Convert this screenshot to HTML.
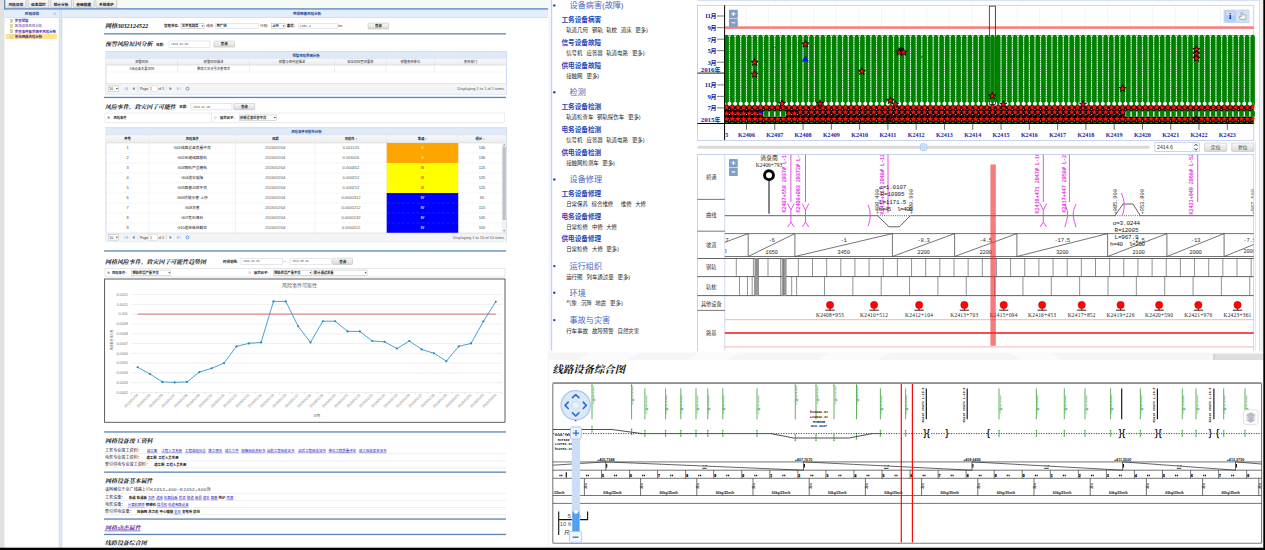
<!DOCTYPE html>
<html lang="zh"><head><meta charset="utf-8"><title>铁路线路设备风险评估系统</title>
<style>html,body{margin:0;padding:0;background:#fff}body{width:1265px;height:550px;overflow:hidden;font-family:"Liberation Sans",sans-serif}svg{display:block;position:absolute;left:0;top:0;opacity:.999}text{white-space:pre}.r{font-family:"Liberation Sans","Noto Sans CJK SC",sans-serif}.b{font-family:"Liberation Sans","Noto Sans CJK SC",sans-serif;font-weight:bold}.s{font-family:"Liberation Serif","Noto Serif CJK SC",serif;font-weight:bold}</style></head>
<body>
<svg width="1265" height="550" viewBox="0 0 1265 550">
<defs><linearGradient id="tab" x1="0" y1="0" x2="0" y2="1"><stop offset="0" stop-color="#f8f8f8"/><stop offset="1" stop-color="#e7e7e7"/></linearGradient><linearGradient id="btn" x1="0" y1="0" x2="0" y2="1"><stop offset="0" stop-color="#fafafa"/><stop offset="1" stop-color="#d9d9d9"/></linearGradient><linearGradient id="hdr" x1="0" y1="0" x2="0" y2="1"><stop offset="0" stop-color="#f9f9f9"/><stop offset="1" stop-color="#ebebeb"/></linearGradient><linearGradient id="ibtn" x1="0" y1="0" x2="0" y2="1"><stop offset="0" stop-color="#d2e3f9"/><stop offset="0.5" stop-color="#bdd6f7"/><stop offset="0.5" stop-color="#a9cdf5"/><stop offset="1" stop-color="#b5d4f6"/></linearGradient><clipPath id="chartclip"><rect x="724.8" y="5" width="528.9" height="120"/></clipPath><clipPath id="diagclip"><rect x="725.2" y="154.8" width="528.3" height="195.6"/></clipPath></defs>
<g id="left"><rect x="0" y="0" width="4.5" height="548" fill="#e1e1e1"/>
<rect x="4.3" y="0" width="544" height="8.6" fill="#f3fbf4"/>
<line x1="4.7" y1="0" x2="4.7" y2="9.6" stroke="#4c7ab4" stroke-width="1.2"/>
<rect x="5.3" y="-1" width="20.9" height="8.8" fill="url(#tab)" stroke="#b4b4b4" stroke-width="0.6" rx="0.8"/>
<text class="b" x="15.75" y="5.55" font-size="3.7" fill="#1a1a1a" text-anchor="middle">风险评估</text>
<rect x="27.95" y="-1" width="20.9" height="8.8" fill="url(#tab)" stroke="#b4b4b4" stroke-width="0.6" rx="0.8"/>
<text class="b" x="38.4" y="5.55" font-size="3.7" fill="#1a1a1a" text-anchor="middle">动态监控</text>
<rect x="50.6" y="-1" width="20.9" height="8.8" fill="url(#tab)" stroke="#b4b4b4" stroke-width="0.6" rx="0.8"/>
<text class="b" x="61.05" y="5.55" font-size="3.7" fill="#1a1a1a" text-anchor="middle">统计分析</text>
<rect x="73.25" y="-1" width="20.9" height="8.8" fill="url(#tab)" stroke="#b4b4b4" stroke-width="0.6" rx="0.8"/>
<text class="b" x="83.7" y="5.55" font-size="3.7" fill="#1a1a1a" text-anchor="middle">基础数据</text>
<rect x="95.9" y="-1" width="20.9" height="8.8" fill="url(#tab)" stroke="#b4b4b4" stroke-width="0.6" rx="0.8"/>
<text class="b" x="106.35" y="5.55" font-size="3.7" fill="#1a1a1a" text-anchor="middle">系统维护</text>
<rect x="4.3" y="8.2" width="544" height="1.5" fill="#5f8cc4"/>
<rect x="4.7" y="9.9" width="54" height="7.6" fill="#e3edfb"/>
<line x1="4.7" y1="17.5" x2="58.7" y2="17.5" stroke="#c2d6f0" stroke-width="0.6"/>
<text class="b" x="32" y="15" font-size="3.6" fill="#15428b" text-anchor="middle">风险评估</text>
<path d="M56.3 12.3l-1.5 1.4 1.5 1.4M54.9 12.3l-1.5 1.4 1.5 1.4" fill="none" stroke="#8fb4e6" stroke-width="0.6"/>
<rect x="59" y="9.9" width="2.9" height="538" fill="#dde8f8"/>
<line x1="59.2" y1="9.9" x2="59.2" y2="548" stroke="#c3d5ee" stroke-width="0.6"/>
<line x1="61.8" y1="9.9" x2="61.8" y2="548" stroke="#b5cbea" stroke-width="0.6"/>
<rect x="62.1" y="9.9" width="486" height="7.6" fill="#e3edfb"/>
<line x1="62.1" y1="17.5" x2="548" y2="17.5" stroke="#bdd2ee" stroke-width="0.6"/>
<text class="b" x="307" y="15" font-size="3.5" fill="#15428b" text-anchor="middle">空间网格风险分析</text>
<rect x="10.4" y="19.2" width="2.3" height="3.2" fill="#f3f3c4" stroke="#a9a96a" stroke-width="0.4"/>
<line x1="10.9" y1="20.4" x2="12.2" y2="20.4" stroke="#8a8a4a" stroke-width="0.3"/>
<line x1="10.9" y1="21.4" x2="12.2" y2="21.4" stroke="#8a8a4a" stroke-width="0.3"/>
<text class="b" x="14.8" y="22.15" font-size="3.45" fill="#4b2a9a">灾害预警</text>
<rect x="10.4" y="24.4" width="2.3" height="3.2" fill="#f3f3c4" stroke="#a9a96a" stroke-width="0.4"/>
<line x1="10.9" y1="25.6" x2="12.2" y2="25.6" stroke="#8a8a4a" stroke-width="0.3"/>
<line x1="10.9" y1="26.6" x2="12.2" y2="26.6" stroke="#8a8a4a" stroke-width="0.3"/>
<text class="r" x="14.8" y="27.35" font-size="3.45" fill="#4b2a9a">区段总体风险分析</text>
<rect x="10.4" y="29.6" width="2.3" height="3.2" fill="#f3f3c4" stroke="#a9a96a" stroke-width="0.4"/>
<line x1="10.9" y1="30.8" x2="12.2" y2="30.8" stroke="#8a8a4a" stroke-width="0.3"/>
<line x1="10.9" y1="31.8" x2="12.2" y2="31.8" stroke="#8a8a4a" stroke-width="0.3"/>
<text class="b" x="14.8" y="32.55" font-size="3.45" fill="#4b2a9a">灾害事件致灾因子风险分布</text>
<rect x="5.6" y="34.1" width="51.4" height="4.8" fill="#ffe28c"/>
<rect x="10.4" y="34.8" width="2.3" height="3.2" fill="#fff" stroke="#a9a96a" stroke-width="0.4"/>
<line x1="10.9" y1="36" x2="12.2" y2="36" stroke="#8a8a4a" stroke-width="0.3"/>
<line x1="10.9" y1="37" x2="12.2" y2="37" stroke="#8a8a4a" stroke-width="0.3"/>
<text class="b" x="14.8" y="37.75" font-size="3.45" fill="#4b2a9a">单元网格风险分析</text>
<text class="s" transform="translate(105 28.3) skewX(-14)" font-size="6.1" fill="#111">网格</text>
<text x="117.4" y="28.2" font-family="'Liberation Serif',serif" font-size="6.3" fill="#111" font-weight="bold" font-style="italic" letter-spacing="-0.08">3032124522</text>
<text class="b" x="164" y="27.1" font-size="3.45" fill="#222">管辖单位:</text>
<rect x="181" y="23.3" width="23" height="5.4" fill="#fff" stroke="#b4b4b4" stroke-width="0.5"/>
<text class="b" x="181.8" y="27.19" font-size="3.3" fill="#222">北京铁路局</text>
<path d="M201.7 25.4h1.8l-.9 1.4z" fill="#222"/>
<text class="r" x="206.3" y="27.1" font-size="3.45" fill="#222">线名:</text>
<rect x="215.4" y="23.3" width="42.8" height="5.4" fill="#fff" stroke="#cdd0d8" stroke-width="0.5"/>
<text class="b" x="216.4" y="27.1" font-size="3.4" fill="#111">京广线</text>
<text class="r" x="260.3" y="27.1" font-size="3.45" fill="#222">行别:</text>
<rect x="271.4" y="23.3" width="13.6" height="5.4" fill="#fff" stroke="#b4b4b4" stroke-width="0.5"/>
<text class="b" x="272.2" y="27.19" font-size="3.3" fill="#222">上行</text>
<path d="M282.7 25.4h1.8l-.9 1.4z" fill="#222"/>
<text class="b" x="286.8" y="27.1" font-size="3.45" fill="#222">里程:</text>
<rect x="298.8" y="23.3" width="38.6" height="5.4" fill="#fff" stroke="#cdd0d8" stroke-width="0.5"/>
<text x="299.8" y="27" font-family="'Liberation Mono',monospace" font-size="3.1" fill="#444">2452.4</text>
<text x="338.2" y="27.1" font-family="'Liberation Sans',sans-serif" font-size="3.2" fill="#444">km</text>
<rect x="368.1" y="23.2" width="20.5" height="5.8" fill="url(#btn)" stroke="#b4b4b4" stroke-width="0.5" rx="0.6"/>
<text class="b" x="378.35" y="27.32" font-size="3.4" fill="#222" text-anchor="middle">查询</text>
<rect x="104" y="33.2" width="402" height="1.3" fill="#5c85b4"/>
<text class="s" transform="translate(105 46.4) skewX(-14)" font-size="5.95" fill="#111">预警风险原因分析</text>
<text class="b" x="156" y="45.6" font-size="3.45" fill="#222">日期:</text>
<rect x="169" y="41" width="41" height="6.3" fill="#fff" stroke="#cdd0d8" stroke-width="0.5"/>
<text x="171" y="45.3" font-family="'Liberation Mono',monospace" font-size="2.9" fill="#555">2016-02-04</text>
<rect x="214" y="41.1" width="20.5" height="6" fill="url(#btn)" stroke="#b4b4b4" stroke-width="0.5" rx="0.6"/>
<text class="b" x="224.25" y="45.32" font-size="3.4" fill="#222" text-anchor="middle">查询</text>
<rect x="106" y="51.6" width="400.4" height="42.4" fill="#fff" stroke="#a6c3e9" stroke-width="0.6"/>
<rect x="106" y="51.6" width="400.4" height="7.1" fill="#dfe9f8"/>
<line x1="106" y1="58.7" x2="506.4" y2="58.7" stroke="#b9cfec" stroke-width="0.5"/>
<text class="b" x="306" y="56.5" font-size="3.4" fill="#15428b" text-anchor="middle">预警风险原因分析</text>
<rect x="106" y="58.7" width="400.4" height="6.4" fill="url(#hdr)"/>
<line x1="106" y1="65.1" x2="506.4" y2="65.1" stroke="#d0d0d0" stroke-width="0.5"/>
<text class="r" x="141.8" y="63.1" font-size="3.3" fill="#333" text-anchor="middle">预警风险</text>
<text class="r" x="213.5" y="63.1" font-size="3.3" fill="#333" text-anchor="middle">预警风险描述</text>
<line x1="177.6" y1="58.7" x2="177.6" y2="72" stroke="#dcdcdc" stroke-width="0.5"/>
<text class="r" x="291.95" y="63.1" font-size="3.3" fill="#333" text-anchor="middle">预警与否判定描述</text>
<line x1="249.4" y1="58.7" x2="249.4" y2="72" stroke="#dcdcdc" stroke-width="0.5"/>
<text class="r" x="360.35" y="63.1" font-size="3.3" fill="#333" text-anchor="middle">安全风险管控要求</text>
<line x1="334.5" y1="58.7" x2="334.5" y2="72" stroke="#dcdcdc" stroke-width="0.5"/>
<text class="r" x="410.3" y="63.1" font-size="3.3" fill="#333" text-anchor="middle">预警责任单位</text>
<line x1="386.2" y1="58.7" x2="386.2" y2="72" stroke="#dcdcdc" stroke-width="0.5"/>
<text class="r" x="470.4" y="63.1" font-size="3.3" fill="#333" text-anchor="middle">责任部门</text>
<line x1="434.4" y1="58.7" x2="434.4" y2="72" stroke="#dcdcdc" stroke-width="0.5"/>
<text class="r" x="141.8" y="69.9" font-size="3.3" fill="#333" text-anchor="middle">1级设备主要风险</text>
<text class="r" x="213.5" y="69.9" font-size="3.3" fill="#333" text-anchor="middle">暴雨大风冰雪冻害等灾</text>
<line x1="106" y1="72" x2="506.4" y2="72" stroke="#e4e4e4" stroke-width="0.5" stroke-dasharray="1 0.6"/>
<rect x="106" y="83.5" width="400.4" height="10.3" fill="#f4f4f5"/>
<line x1="106" y1="83.5" x2="506.4" y2="83.5" stroke="#d3d3d3" stroke-width="0.5"/>
<rect x="108.5" y="85.95" width="9.8" height="5.4" fill="#fff" stroke="#b4b4b4" stroke-width="0.5"/>
<path d="M116 88.05h1.8l-.9 1.4z" fill="#222"/>
<text x="109.3" y="89.85" font-family="'Liberation Sans',sans-serif" font-size="3.4" fill="#222">10</text>
<path d="M124.6 87.15v3M127.6 87.15l-2 1.5 2 1.5z" fill="#a9c6ec" stroke="#a9c6ec" stroke-width="0.5"/>
<path d="M134.6 87.05l-2.2 1.6 2.2 1.6z" fill="#4d86d2"/>
<line x1="137.8" y1="85.65" x2="137.8" y2="91.65" stroke="#d0d0d0" stroke-width="0.5"/>
<text x="140" y="89.85" font-family="'Liberation Sans',sans-serif" font-size="3.5" fill="#333">Page</text>
<rect x="148.8" y="85.85" width="8.8" height="5.6" fill="#fff" stroke="#cdd0d8" stroke-width="0.5"/>
<text x="150" y="89.85" font-family="'Liberation Sans',sans-serif" font-size="3.5" fill="#333">1</text>
<text x="158.4" y="89.85" font-family="'Liberation Sans',sans-serif" font-size="3.5" fill="#333">of 1</text>
<line x1="166.3" y1="85.65" x2="166.3" y2="91.65" stroke="#d0d0d0" stroke-width="0.5"/>
<path d="M169.6 87.05l2.2 1.6-2.2 1.6z" fill="#4d86d2"/>
<path d="M180.3 87.15v3M177.3 87.15l2 1.5-2 1.5z" fill="#a9c6ec" stroke="#a9c6ec" stroke-width="0.5"/>
<circle cx="187.5" cy="88.65" r="1.5" fill="none" stroke="#3c8ad8" stroke-width="0.8"/>
<text x="504.3" y="89.95" font-family="'Liberation Sans',sans-serif" font-size="3.9" fill="#555" text-anchor="end">Displaying 1 to 1 of 1 items</text>
<rect x="104" y="96.8" width="402" height="1.3" fill="#5c85b4"/>
<text class="s" transform="translate(105 109.4) skewX(-14)" font-size="5.9" fill="#111">风险事件、致灾因子可能性</text>
<text class="b" x="179.3" y="108.4" font-size="3.45" fill="#222">日期:</text>
<rect x="191" y="103.6" width="41" height="6.3" fill="#fff" stroke="#cdd0d8" stroke-width="0.5"/>
<text x="193" y="107.9" font-family="'Liberation Mono',monospace" font-size="2.9" fill="#555">2016-02-04</text>
<rect x="234" y="103.4" width="20.6" height="6.4" fill="url(#btn)" stroke="#b4b4b4" stroke-width="0.5" rx="0.6"/>
<text class="b" x="244.3" y="107.82" font-size="3.4" fill="#222" text-anchor="middle">查询</text>
<rect x="105" y="113" width="106.3" height="9.4" fill="#fff" stroke="#d9d9d9" stroke-width="0.5"/>
<rect x="211.3" y="113" width="293.2" height="9.4" fill="#fff" stroke="#d9d9d9" stroke-width="0.5"/>
<circle cx="108.6" cy="117.6" r="1.1" fill="#fff" stroke="#777" stroke-width="0.4"/>
<circle cx="108.6" cy="117.6" r="0.5" fill="#333"/>
<text class="b" x="113.4" y="118.9" font-size="3.3" fill="#222">风险事件</text>
<circle cx="215.3" cy="117.6" r="1.1" fill="#fff" stroke="#999" stroke-width="0.4"/>
<text class="b" x="220" y="118.9" font-size="3.3" fill="#222">致灾因子:</text>
<rect x="239.2" y="115" width="37" height="5.4" fill="#fff" stroke="#b4b4b4" stroke-width="0.5"/>
<text class="b" x="240" y="118.89" font-size="3.3" fill="#222">桥隧设备病害不良</text>
<path d="M273.9 117.1h1.8l-.9 1.4z" fill="#222"/>
<rect x="106" y="127.3" width="400.4" height="114.5" fill="#fff" stroke="#a6c3e9" stroke-width="0.6"/>
<rect x="106" y="127.3" width="400.4" height="8" fill="#dfe9f8"/>
<line x1="106" y1="135.3" x2="506.4" y2="135.3" stroke="#b9cfec" stroke-width="0.5"/>
<text class="b" x="306.4" y="132.6" font-size="3.4" fill="#15428b" text-anchor="middle">风险事件可能性分析</text>
<rect x="106" y="135.3" width="400.4" height="7.6" fill="url(#hdr)"/>
<line x1="106" y1="142.9" x2="506.4" y2="142.9" stroke="#d0d0d0" stroke-width="0.5"/>
<text class="b" x="127.55" y="140.4" font-size="3.3" fill="#222" text-anchor="middle">序号</text>
<text class="b" x="192.3" y="140.4" font-size="3.3" fill="#222" text-anchor="middle">风险事件</text>
<line x1="149.1" y1="135.3" x2="149.1" y2="233" stroke="#e6e6e6" stroke-width="0.5"/>
<text class="b" x="275.35" y="140.4" font-size="3.3" fill="#222" text-anchor="middle">日期</text>
<line x1="235.5" y1="135.3" x2="235.5" y2="233" stroke="#e6e6e6" stroke-width="0.5"/>
<text class="b" x="350.95" y="140.4" font-size="3.3" fill="#222" text-anchor="middle">可能性 ↕</text>
<line x1="315.2" y1="135.3" x2="315.2" y2="233" stroke="#e6e6e6" stroke-width="0.5"/>
<text class="b" x="422.45" y="140.4" font-size="3.3" fill="#222" text-anchor="middle">等级 ↕</text>
<line x1="386.7" y1="135.3" x2="386.7" y2="233" stroke="#e6e6e6" stroke-width="0.5"/>
<text class="b" x="480" y="140.4" font-size="3.3" fill="#222" text-anchor="middle">得分 ↕</text>
<line x1="458.2" y1="135.3" x2="458.2" y2="233" stroke="#e6e6e6" stroke-width="0.5"/>
<rect x="386.7" y="143" width="71.5" height="10.05" fill="#ffa500"/>
<text x="127.5" y="149.4" font-family="'Liberation Sans',sans-serif" font-size="3.9" fill="#444" text-anchor="middle">1</text>
<text class="r" x="192.3" y="149.3" font-size="3.75" fill="#222" text-anchor="middle">G01线路设备质量不良</text>
<text x="275.35" y="149.4" font-family="'Liberation Sans',sans-serif" font-size="4" fill="#555" text-anchor="middle">2016/02/04</text>
<text x="350.95" y="149.4" font-family="'Liberation Sans',sans-serif" font-size="4" fill="#555" text-anchor="middle">0.001125</text>
<text x="422.45" y="149.4" font-family="'Liberation Sans',sans-serif" font-size="3.8" fill="#ffe9a8" font-weight="bold" text-anchor="middle">II</text>
<text x="482" y="149.4" font-family="'Liberation Sans',sans-serif" font-size="4" fill="#444" text-anchor="middle">140</text>
<line x1="106" y1="153" x2="386.7" y2="153" stroke="#e3e3e3" stroke-width="0.5" stroke-dasharray="1.2 0.8"/>
<line x1="458.2" y1="153" x2="501.8" y2="153" stroke="#e3e3e3" stroke-width="0.5" stroke-dasharray="1.2 0.8"/>
<rect x="386.7" y="153" width="71.5" height="10.05" fill="#ffa500"/>
<text x="127.5" y="159.4" font-family="'Liberation Sans',sans-serif" font-size="3.9" fill="#444" text-anchor="middle">2</text>
<text class="r" x="192.3" y="159.3" font-size="3.75" fill="#222" text-anchor="middle">G02无缝线路胀轨</text>
<text x="275.35" y="159.4" font-family="'Liberation Sans',sans-serif" font-size="4" fill="#555" text-anchor="middle">2016/02/04</text>
<text x="350.95" y="159.4" font-family="'Liberation Sans',sans-serif" font-size="4" fill="#555" text-anchor="middle">0.001026</text>
<text x="422.45" y="159.4" font-family="'Liberation Sans',sans-serif" font-size="3.8" fill="#ffe9a8" font-weight="bold" text-anchor="middle">II</text>
<text x="482" y="159.4" font-family="'Liberation Sans',sans-serif" font-size="4" fill="#444" text-anchor="middle">130</text>
<line x1="106" y1="163" x2="386.7" y2="163" stroke="#e3e3e3" stroke-width="0.5" stroke-dasharray="1.2 0.8"/>
<line x1="458.2" y1="163" x2="501.8" y2="163" stroke="#e3e3e3" stroke-width="0.5" stroke-dasharray="1.2 0.8"/>
<rect x="386.7" y="163" width="71.5" height="10.05" fill="#ffff00"/>
<text x="127.5" y="169.4" font-family="'Liberation Sans',sans-serif" font-size="3.9" fill="#444" text-anchor="middle">3</text>
<text class="r" x="192.3" y="169.3" font-size="3.75" fill="#222" text-anchor="middle">G03钢轨严重磨耗</text>
<text x="275.35" y="169.4" font-family="'Liberation Sans',sans-serif" font-size="4" fill="#555" text-anchor="middle">2016/02/04</text>
<text x="350.95" y="169.4" font-family="'Liberation Sans',sans-serif" font-size="4" fill="#555" text-anchor="middle">0.000452</text>
<text x="422.45" y="169.4" font-family="'Liberation Sans',sans-serif" font-size="3.8" fill="#f0541e" font-weight="bold" text-anchor="middle">III</text>
<text x="482" y="169.4" font-family="'Liberation Sans',sans-serif" font-size="4" fill="#444" text-anchor="middle">125</text>
<line x1="106" y1="173" x2="386.7" y2="173" stroke="#e3e3e3" stroke-width="0.5" stroke-dasharray="1.2 0.8"/>
<line x1="458.2" y1="173" x2="501.8" y2="173" stroke="#e3e3e3" stroke-width="0.5" stroke-dasharray="1.2 0.8"/>
<rect x="386.7" y="173" width="71.5" height="10.05" fill="#ffff00"/>
<text x="127.5" y="179.4" font-family="'Liberation Sans',sans-serif" font-size="3.9" fill="#444" text-anchor="middle">4</text>
<text class="r" x="192.3" y="179.3" font-size="3.75" fill="#222" text-anchor="middle">G04道岔故障</text>
<text x="275.35" y="179.4" font-family="'Liberation Sans',sans-serif" font-size="4" fill="#555" text-anchor="middle">2016/02/04</text>
<text x="350.95" y="179.4" font-family="'Liberation Sans',sans-serif" font-size="4" fill="#555" text-anchor="middle">0.000212</text>
<text x="422.45" y="179.4" font-family="'Liberation Sans',sans-serif" font-size="3.8" fill="#f0541e" font-weight="bold" text-anchor="middle">III</text>
<text x="482" y="179.4" font-family="'Liberation Sans',sans-serif" font-size="4" fill="#444" text-anchor="middle">125</text>
<line x1="106" y1="183" x2="386.7" y2="183" stroke="#e3e3e3" stroke-width="0.5" stroke-dasharray="1.2 0.8"/>
<line x1="458.2" y1="183" x2="501.8" y2="183" stroke="#e3e3e3" stroke-width="0.5" stroke-dasharray="1.2 0.8"/>
<rect x="386.7" y="183" width="71.5" height="10.05" fill="#ffff00"/>
<text x="127.5" y="189.4" font-family="'Liberation Sans',sans-serif" font-size="3.9" fill="#444" text-anchor="middle">5</text>
<text class="r" x="192.3" y="189.3" font-size="3.75" fill="#222" text-anchor="middle">G05路基沉降不良</text>
<text x="275.35" y="189.4" font-family="'Liberation Sans',sans-serif" font-size="4" fill="#555" text-anchor="middle">2016/02/04</text>
<text x="350.95" y="189.4" font-family="'Liberation Sans',sans-serif" font-size="4" fill="#555" text-anchor="middle">0.000212</text>
<text x="422.45" y="189.4" font-family="'Liberation Sans',sans-serif" font-size="3.8" fill="#f0541e" font-weight="bold" text-anchor="middle">III</text>
<text x="482" y="189.4" font-family="'Liberation Sans',sans-serif" font-size="4" fill="#444" text-anchor="middle">125</text>
<line x1="106" y1="193" x2="386.7" y2="193" stroke="#e3e3e3" stroke-width="0.5" stroke-dasharray="1.2 0.8"/>
<line x1="458.2" y1="193" x2="501.8" y2="193" stroke="#e3e3e3" stroke-width="0.5" stroke-dasharray="1.2 0.8"/>
<rect x="386.7" y="193" width="71.5" height="10.05" fill="#0000ff"/>
<text x="127.5" y="199.4" font-family="'Liberation Sans',sans-serif" font-size="3.9" fill="#444" text-anchor="middle">6</text>
<text class="r" x="192.3" y="199.3" font-size="3.75" fill="#222" text-anchor="middle">G06桥隧水害·上拱</text>
<text x="275.35" y="199.4" font-family="'Liberation Sans',sans-serif" font-size="4" fill="#555" text-anchor="middle">2016/02/04</text>
<text x="350.95" y="199.4" font-family="'Liberation Sans',sans-serif" font-size="4" fill="#555" text-anchor="middle">0.0000312</text>
<text x="422.45" y="199.4" font-family="'Liberation Sans',sans-serif" font-size="3.8" fill="#e8e8ff" font-weight="bold" text-anchor="middle">IV</text>
<text x="482" y="199.4" font-family="'Liberation Sans',sans-serif" font-size="4" fill="#444" text-anchor="middle">95</text>
<line x1="106" y1="203" x2="386.7" y2="203" stroke="#e3e3e3" stroke-width="0.5" stroke-dasharray="1.2 0.8"/>
<line x1="458.2" y1="203" x2="501.8" y2="203" stroke="#e3e3e3" stroke-width="0.5" stroke-dasharray="1.2 0.8"/>
<rect x="386.7" y="203" width="71.5" height="10.05" fill="#0000ff"/>
<line x1="386.7" y1="203" x2="458.2" y2="203" stroke="#3a3aff" stroke-width="0.5" stroke-dasharray="3 2"/>
<text x="127.5" y="209.4" font-family="'Liberation Sans',sans-serif" font-size="3.9" fill="#444" text-anchor="middle">7</text>
<text class="r" x="192.3" y="209.3" font-size="3.75" fill="#222" text-anchor="middle">G08冻害</text>
<text x="275.35" y="209.4" font-family="'Liberation Sans',sans-serif" font-size="4" fill="#555" text-anchor="middle">2016/02/04</text>
<text x="350.95" y="209.4" font-family="'Liberation Sans',sans-serif" font-size="4" fill="#555" text-anchor="middle">0.0000212</text>
<text x="422.45" y="209.4" font-family="'Liberation Sans',sans-serif" font-size="3.8" fill="#e8e8ff" font-weight="bold" text-anchor="middle">IV</text>
<text x="482" y="209.4" font-family="'Liberation Sans',sans-serif" font-size="4" fill="#444" text-anchor="middle">115</text>
<line x1="106" y1="213" x2="386.7" y2="213" stroke="#e3e3e3" stroke-width="0.5" stroke-dasharray="1.2 0.8"/>
<line x1="458.2" y1="213" x2="501.8" y2="213" stroke="#e3e3e3" stroke-width="0.5" stroke-dasharray="1.2 0.8"/>
<rect x="386.7" y="213" width="71.5" height="10.05" fill="#0000ff"/>
<line x1="386.7" y1="213" x2="458.2" y2="213" stroke="#3a3aff" stroke-width="0.5" stroke-dasharray="3 2"/>
<text x="127.5" y="219.4" font-family="'Liberation Sans',sans-serif" font-size="3.9" fill="#444" text-anchor="middle">8</text>
<text class="r" x="192.3" y="219.3" font-size="3.75" fill="#222" text-anchor="middle">G07危石落石</text>
<text x="275.35" y="219.4" font-family="'Liberation Sans',sans-serif" font-size="4" fill="#555" text-anchor="middle">2016/02/04</text>
<text x="350.95" y="219.4" font-family="'Liberation Sans',sans-serif" font-size="4" fill="#555" text-anchor="middle">0.0000132</text>
<text x="422.45" y="219.4" font-family="'Liberation Sans',sans-serif" font-size="3.8" fill="#e8e8ff" font-weight="bold" text-anchor="middle">IV</text>
<text x="482" y="219.4" font-family="'Liberation Sans',sans-serif" font-size="4" fill="#444" text-anchor="middle">105</text>
<line x1="106" y1="223" x2="386.7" y2="223" stroke="#e3e3e3" stroke-width="0.5" stroke-dasharray="1.2 0.8"/>
<line x1="458.2" y1="223" x2="501.8" y2="223" stroke="#e3e3e3" stroke-width="0.5" stroke-dasharray="1.2 0.8"/>
<rect x="386.7" y="223" width="71.5" height="10.05" fill="#0000ff"/>
<line x1="386.7" y1="223" x2="458.2" y2="223" stroke="#3a3aff" stroke-width="0.5" stroke-dasharray="3 2"/>
<text x="127.5" y="229.4" font-family="'Liberation Sans',sans-serif" font-size="3.9" fill="#444" text-anchor="middle">9</text>
<text class="r" x="192.3" y="229.3" font-size="3.75" fill="#222" text-anchor="middle">G10道床板结翻浆</text>
<text x="275.35" y="229.4" font-family="'Liberation Sans',sans-serif" font-size="4" fill="#555" text-anchor="middle">2016/02/04</text>
<text x="350.95" y="229.4" font-family="'Liberation Sans',sans-serif" font-size="4" fill="#555" text-anchor="middle">0.0000112</text>
<text x="422.45" y="229.4" font-family="'Liberation Sans',sans-serif" font-size="3.8" fill="#e8e8ff" font-weight="bold" text-anchor="middle">IV</text>
<text x="482" y="229.4" font-family="'Liberation Sans',sans-serif" font-size="4" fill="#444" text-anchor="middle">105</text>
<rect x="501.8" y="142.8" width="4.6" height="90.2" fill="#f1f1f1"/>
<rect x="502.5" y="146.4" width="3.3" height="73.6" fill="#c1c1c1"/>
<path d="M503.3 145.2l.85-1.2.85 1.2zM503.3 230.3l.85 1.2.85-1.2z" fill="#505050"/>
<rect x="106" y="233" width="400.4" height="8.8" fill="#f4f4f5"/>
<line x1="106" y1="233" x2="506.4" y2="233" stroke="#d3d3d3" stroke-width="0.5"/>
<rect x="108.5" y="234.7" width="9.8" height="5.4" fill="#fff" stroke="#b4b4b4" stroke-width="0.5"/>
<path d="M116 236.8h1.8l-.9 1.4z" fill="#222"/>
<text x="109.3" y="238.6" font-family="'Liberation Sans',sans-serif" font-size="3.4" fill="#222">10</text>
<path d="M124.6 235.9v3M127.6 235.9l-2 1.5 2 1.5z" fill="#a9c6ec" stroke="#a9c6ec" stroke-width="0.5"/>
<path d="M134.6 235.8l-2.2 1.6 2.2 1.6z" fill="#4d86d2"/>
<line x1="137.8" y1="234.4" x2="137.8" y2="240.4" stroke="#d0d0d0" stroke-width="0.5"/>
<text x="140" y="238.6" font-family="'Liberation Sans',sans-serif" font-size="3.5" fill="#333">Page</text>
<rect x="148.8" y="234.6" width="8.8" height="5.6" fill="#fff" stroke="#cdd0d8" stroke-width="0.5"/>
<text x="150" y="238.6" font-family="'Liberation Sans',sans-serif" font-size="3.5" fill="#333">1</text>
<text x="158.4" y="238.6" font-family="'Liberation Sans',sans-serif" font-size="3.5" fill="#333">of 1</text>
<line x1="166.3" y1="234.4" x2="166.3" y2="240.4" stroke="#d0d0d0" stroke-width="0.5"/>
<path d="M169.6 235.8l2.2 1.6-2.2 1.6z" fill="#4d86d2"/>
<path d="M180.3 235.9v3M177.3 235.9l2 1.5-2 1.5z" fill="#a9c6ec" stroke="#a9c6ec" stroke-width="0.5"/>
<circle cx="187.5" cy="237.4" r="1.5" fill="none" stroke="#3c8ad8" stroke-width="0.8"/>
<text x="504.3" y="238.7" font-family="'Liberation Sans',sans-serif" font-size="3.9" fill="#555" text-anchor="end">Displaying 1 to 10 of 10 items</text>
<rect x="104" y="250.3" width="402" height="1.3" fill="#5c85b4"/>
<text class="s" transform="translate(105 264.3) skewX(-14)" font-size="5.95" fill="#111">网格风险事件、致灾因子可能性趋势图</text>
<text class="b" x="223" y="263" font-size="3.45" fill="#222">时间范围:</text>
<rect x="241" y="258.3" width="41.5" height="6" fill="#fff" stroke="#cdd0d8" stroke-width="0.5"/>
<text x="243" y="262.4" font-family="'Liberation Mono',monospace" font-size="2.8" fill="#555">2016-02-04</text>
<text x="283.3" y="262.3" font-family="'Liberation Sans',sans-serif" font-size="3" fill="#555">---</text>
<rect x="290" y="258.3" width="41.5" height="6" fill="#fff" stroke="#cdd0d8" stroke-width="0.5"/>
<text x="292" y="262.4" font-family="'Liberation Mono',monospace" font-size="2.8" fill="#555">2016-03-04</text>
<rect x="332.8" y="258.2" width="19.7" height="6.2" fill="url(#btn)" stroke="#b4b4b4" stroke-width="0.5" rx="0.6"/>
<text class="b" x="342.65" y="262.52" font-size="3.4" fill="#222" text-anchor="middle">查询</text>
<rect x="105" y="268.4" width="400" height="8.6" fill="#fff" stroke="#cfcfcf" stroke-width="0.5"/>
<circle cx="108.6" cy="272.7" r="1.1" fill="#fff" stroke="#777" stroke-width="0.4"/>
<circle cx="108.6" cy="272.7" r="0.5" fill="#333"/>
<text class="b" x="112" y="274" font-size="3.3" fill="#222">风险事件:</text>
<rect x="131.6" y="270.1" width="39" height="5.3" fill="#fff" stroke="#b4b4b4" stroke-width="0.5"/>
<text class="b" x="132.4" y="273.94" font-size="3.3" fill="#222">钢轨伤损严重不良</text>
<path d="M168.3 272.15h1.8l-.9 1.4z" fill="#222"/>
<circle cx="249.6" cy="272.7" r="1.1" fill="#fff" stroke="#999" stroke-width="0.4"/>
<text class="b" x="254" y="274" font-size="3.3" fill="#222">致灾因子:</text>
<rect x="273.4" y="270.1" width="38.4" height="5.3" fill="#fff" stroke="#b4b4b4" stroke-width="0.5"/>
<text class="b" x="274.2" y="273.94" font-size="3.3" fill="#222">钢轨伤损严重不良</text>
<path d="M309.5 272.15h1.8l-.9 1.4z" fill="#222"/>
<rect x="313" y="270.1" width="54" height="5.3" fill="#fff" stroke="#b4b4b4" stroke-width="0.5"/>
<text class="b" x="313.8" y="273.94" font-size="3.3" fill="#222">累计通过总重</text>
<path d="M364.7 272.15h1.8l-.9 1.4z" fill="#222"/>
<rect x="104.6" y="279" width="400.4" height="143.3" fill="#fff" stroke="#4d4d4d" stroke-width="0.9"/>
<text class="r" x="299.5" y="286.6" font-size="5" fill="#6a6a6a" text-anchor="middle">风险事件可能性</text>
<line x1="131" y1="294.6" x2="502" y2="294.6" stroke="#e4e4e4" stroke-width="0.6"/>
<text x="127.8" y="295.85" font-family="'Liberation Sans',sans-serif" font-size="3.7" fill="#777" text-anchor="end">0.0012</text>
<line x1="131" y1="304.39" x2="502" y2="304.39" stroke="#e4e4e4" stroke-width="0.6"/>
<text x="127.8" y="305.64" font-family="'Liberation Sans',sans-serif" font-size="3.7" fill="#777" text-anchor="end">0.0011</text>
<line x1="131" y1="314.18" x2="502" y2="314.18" stroke="#e4e4e4" stroke-width="0.6"/>
<text x="127.8" y="315.43" font-family="'Liberation Sans',sans-serif" font-size="3.7" fill="#777" text-anchor="end">0.001</text>
<line x1="131" y1="323.97" x2="502" y2="323.97" stroke="#e4e4e4" stroke-width="0.6"/>
<text x="127.8" y="325.22" font-family="'Liberation Sans',sans-serif" font-size="3.7" fill="#777" text-anchor="end">0.0009</text>
<line x1="131" y1="333.76" x2="502" y2="333.76" stroke="#e4e4e4" stroke-width="0.6"/>
<text x="127.8" y="335.01" font-family="'Liberation Sans',sans-serif" font-size="3.7" fill="#777" text-anchor="end">0.0008</text>
<line x1="131" y1="343.55" x2="502" y2="343.55" stroke="#e4e4e4" stroke-width="0.6"/>
<text x="127.8" y="344.8" font-family="'Liberation Sans',sans-serif" font-size="3.7" fill="#777" text-anchor="end">0.0007</text>
<line x1="131" y1="353.34" x2="502" y2="353.34" stroke="#e4e4e4" stroke-width="0.6"/>
<text x="127.8" y="354.59" font-family="'Liberation Sans',sans-serif" font-size="3.7" fill="#777" text-anchor="end">0.0006</text>
<line x1="131" y1="363.13" x2="502" y2="363.13" stroke="#e4e4e4" stroke-width="0.6"/>
<text x="127.8" y="364.38" font-family="'Liberation Sans',sans-serif" font-size="3.7" fill="#777" text-anchor="end">0.0005</text>
<line x1="131" y1="372.92" x2="502" y2="372.92" stroke="#e4e4e4" stroke-width="0.6"/>
<text x="127.8" y="374.17" font-family="'Liberation Sans',sans-serif" font-size="3.7" fill="#777" text-anchor="end">0.0004</text>
<line x1="131" y1="382.71" x2="502" y2="382.71" stroke="#e4e4e4" stroke-width="0.6"/>
<text x="127.8" y="383.96" font-family="'Liberation Sans',sans-serif" font-size="3.7" fill="#777" text-anchor="end">0.0003</text>
<line x1="131" y1="392.5" x2="502" y2="392.5" stroke="#e4e4e4" stroke-width="0.6"/>
<text x="127.8" y="393.75" font-family="'Liberation Sans',sans-serif" font-size="3.7" fill="#777" text-anchor="end">0.0002</text>
<text class="r" transform="translate(112.6 340) rotate(-90)" font-size="3" fill="#666" text-anchor="middle">风险事件可能性</text>
<line x1="137.6" y1="314.1" x2="495.8" y2="314.1" stroke="#c5504f" stroke-width="0.8"/>
<polyline points="137.6,367.2 149.95,374 162.3,381.9 174.65,382.4 187,381.9 199.35,372.1 211.7,368.3 224.05,363.1 236.4,346.4 248.75,343.4 261.1,342.4 273.45,301.4 285.8,301.4 298.15,326.3 310.5,342.4 322.85,321.2 335.2,321.2 347.55,331.4 359.9,331.4 372.25,341 384.6,341.8 396.95,348.6 409.3,341 421.65,349.4 434,353.3 446.35,361.2 458.7,346.4 471.05,343.4 483.4,321.4 495.75,301.7" fill="none" stroke="#2f98c9" stroke-width="0.9" stroke-linejoin="round"/>
<circle cx="137.6" cy="367.2" r="1.05" fill="#1c86bd"/>
<circle cx="149.95" cy="374" r="1.05" fill="#1c86bd"/>
<circle cx="162.3" cy="381.9" r="1.05" fill="#1c86bd"/>
<circle cx="174.65" cy="382.4" r="1.05" fill="#1c86bd"/>
<circle cx="187" cy="381.9" r="1.05" fill="#1c86bd"/>
<circle cx="199.35" cy="372.1" r="1.05" fill="#1c86bd"/>
<circle cx="211.7" cy="368.3" r="1.05" fill="#1c86bd"/>
<circle cx="224.05" cy="363.1" r="1.05" fill="#1c86bd"/>
<circle cx="236.4" cy="346.4" r="1.05" fill="#1c86bd"/>
<circle cx="248.75" cy="343.4" r="1.05" fill="#1c86bd"/>
<circle cx="261.1" cy="342.4" r="1.05" fill="#1c86bd"/>
<circle cx="273.45" cy="301.4" r="1.05" fill="#1c86bd"/>
<circle cx="285.8" cy="301.4" r="1.05" fill="#1c86bd"/>
<circle cx="298.15" cy="326.3" r="1.05" fill="#1c86bd"/>
<circle cx="310.5" cy="342.4" r="1.05" fill="#1c86bd"/>
<circle cx="322.85" cy="321.2" r="1.05" fill="#1c86bd"/>
<circle cx="335.2" cy="321.2" r="1.05" fill="#1c86bd"/>
<circle cx="347.55" cy="331.4" r="1.05" fill="#1c86bd"/>
<circle cx="359.9" cy="331.4" r="1.05" fill="#1c86bd"/>
<circle cx="372.25" cy="341" r="1.05" fill="#1c86bd"/>
<circle cx="384.6" cy="341.8" r="1.05" fill="#1c86bd"/>
<circle cx="396.95" cy="348.6" r="1.05" fill="#1c86bd"/>
<circle cx="409.3" cy="341" r="1.05" fill="#1c86bd"/>
<circle cx="421.65" cy="349.4" r="1.05" fill="#1c86bd"/>
<circle cx="434" cy="353.3" r="1.05" fill="#1c86bd"/>
<circle cx="446.35" cy="361.2" r="1.05" fill="#1c86bd"/>
<circle cx="458.7" cy="346.4" r="1.05" fill="#1c86bd"/>
<circle cx="471.05" cy="343.4" r="1.05" fill="#1c86bd"/>
<circle cx="483.4" cy="321.4" r="1.05" fill="#1c86bd"/>
<circle cx="495.75" cy="301.7" r="1.05" fill="#1c86bd"/>
<line x1="131.4" y1="392.5" x2="131.4" y2="394.3" stroke="#c9c9c9" stroke-width="0.5"/>
<line x1="143.75" y1="392.5" x2="143.75" y2="394.3" stroke="#c9c9c9" stroke-width="0.5"/>
<line x1="156.1" y1="392.5" x2="156.1" y2="394.3" stroke="#c9c9c9" stroke-width="0.5"/>
<line x1="168.45" y1="392.5" x2="168.45" y2="394.3" stroke="#c9c9c9" stroke-width="0.5"/>
<line x1="180.8" y1="392.5" x2="180.8" y2="394.3" stroke="#c9c9c9" stroke-width="0.5"/>
<line x1="193.15" y1="392.5" x2="193.15" y2="394.3" stroke="#c9c9c9" stroke-width="0.5"/>
<line x1="205.5" y1="392.5" x2="205.5" y2="394.3" stroke="#c9c9c9" stroke-width="0.5"/>
<line x1="217.85" y1="392.5" x2="217.85" y2="394.3" stroke="#c9c9c9" stroke-width="0.5"/>
<line x1="230.2" y1="392.5" x2="230.2" y2="394.3" stroke="#c9c9c9" stroke-width="0.5"/>
<line x1="242.55" y1="392.5" x2="242.55" y2="394.3" stroke="#c9c9c9" stroke-width="0.5"/>
<line x1="254.9" y1="392.5" x2="254.9" y2="394.3" stroke="#c9c9c9" stroke-width="0.5"/>
<line x1="267.25" y1="392.5" x2="267.25" y2="394.3" stroke="#c9c9c9" stroke-width="0.5"/>
<line x1="279.6" y1="392.5" x2="279.6" y2="394.3" stroke="#c9c9c9" stroke-width="0.5"/>
<line x1="291.95" y1="392.5" x2="291.95" y2="394.3" stroke="#c9c9c9" stroke-width="0.5"/>
<line x1="304.3" y1="392.5" x2="304.3" y2="394.3" stroke="#c9c9c9" stroke-width="0.5"/>
<line x1="316.65" y1="392.5" x2="316.65" y2="394.3" stroke="#c9c9c9" stroke-width="0.5"/>
<line x1="329" y1="392.5" x2="329" y2="394.3" stroke="#c9c9c9" stroke-width="0.5"/>
<line x1="341.35" y1="392.5" x2="341.35" y2="394.3" stroke="#c9c9c9" stroke-width="0.5"/>
<line x1="353.7" y1="392.5" x2="353.7" y2="394.3" stroke="#c9c9c9" stroke-width="0.5"/>
<line x1="366.05" y1="392.5" x2="366.05" y2="394.3" stroke="#c9c9c9" stroke-width="0.5"/>
<line x1="378.4" y1="392.5" x2="378.4" y2="394.3" stroke="#c9c9c9" stroke-width="0.5"/>
<line x1="390.75" y1="392.5" x2="390.75" y2="394.3" stroke="#c9c9c9" stroke-width="0.5"/>
<line x1="403.1" y1="392.5" x2="403.1" y2="394.3" stroke="#c9c9c9" stroke-width="0.5"/>
<line x1="415.45" y1="392.5" x2="415.45" y2="394.3" stroke="#c9c9c9" stroke-width="0.5"/>
<line x1="427.8" y1="392.5" x2="427.8" y2="394.3" stroke="#c9c9c9" stroke-width="0.5"/>
<line x1="440.15" y1="392.5" x2="440.15" y2="394.3" stroke="#c9c9c9" stroke-width="0.5"/>
<line x1="452.5" y1="392.5" x2="452.5" y2="394.3" stroke="#c9c9c9" stroke-width="0.5"/>
<line x1="464.85" y1="392.5" x2="464.85" y2="394.3" stroke="#c9c9c9" stroke-width="0.5"/>
<line x1="477.2" y1="392.5" x2="477.2" y2="394.3" stroke="#c9c9c9" stroke-width="0.5"/>
<line x1="489.55" y1="392.5" x2="489.55" y2="394.3" stroke="#c9c9c9" stroke-width="0.5"/>
<line x1="501.9" y1="392.5" x2="501.9" y2="394.3" stroke="#c9c9c9" stroke-width="0.5"/>
<text transform="translate(138.5 395.2) rotate(-45)" font-family="'Liberation Sans',sans-serif" font-size="3.65" fill="#808080" text-anchor="end">2016/02/04</text>
<text transform="translate(150.85 395.2) rotate(-45)" font-family="'Liberation Sans',sans-serif" font-size="3.65" fill="#808080" text-anchor="end">2016/02/05</text>
<text transform="translate(163.2 395.2) rotate(-45)" font-family="'Liberation Sans',sans-serif" font-size="3.65" fill="#808080" text-anchor="end">2016/02/06</text>
<text transform="translate(175.55 395.2) rotate(-45)" font-family="'Liberation Sans',sans-serif" font-size="3.65" fill="#808080" text-anchor="end">2016/02/07</text>
<text transform="translate(187.9 395.2) rotate(-45)" font-family="'Liberation Sans',sans-serif" font-size="3.65" fill="#808080" text-anchor="end">2016/02/08</text>
<text transform="translate(200.25 395.2) rotate(-45)" font-family="'Liberation Sans',sans-serif" font-size="3.65" fill="#808080" text-anchor="end">2016/02/09</text>
<text transform="translate(212.6 395.2) rotate(-45)" font-family="'Liberation Sans',sans-serif" font-size="3.65" fill="#808080" text-anchor="end">2016/02/10</text>
<text transform="translate(224.95 395.2) rotate(-45)" font-family="'Liberation Sans',sans-serif" font-size="3.65" fill="#808080" text-anchor="end">2016/02/11</text>
<text transform="translate(237.3 395.2) rotate(-45)" font-family="'Liberation Sans',sans-serif" font-size="3.65" fill="#808080" text-anchor="end">2016/02/12</text>
<text transform="translate(249.65 395.2) rotate(-45)" font-family="'Liberation Sans',sans-serif" font-size="3.65" fill="#808080" text-anchor="end">2016/02/13</text>
<text transform="translate(262 395.2) rotate(-45)" font-family="'Liberation Sans',sans-serif" font-size="3.65" fill="#808080" text-anchor="end">2016/02/14</text>
<text transform="translate(274.35 395.2) rotate(-45)" font-family="'Liberation Sans',sans-serif" font-size="3.65" fill="#808080" text-anchor="end">2016/02/15</text>
<text transform="translate(286.7 395.2) rotate(-45)" font-family="'Liberation Sans',sans-serif" font-size="3.65" fill="#808080" text-anchor="end">2016/02/16</text>
<text transform="translate(299.05 395.2) rotate(-45)" font-family="'Liberation Sans',sans-serif" font-size="3.65" fill="#808080" text-anchor="end">2016/02/17</text>
<text transform="translate(311.4 395.2) rotate(-45)" font-family="'Liberation Sans',sans-serif" font-size="3.65" fill="#808080" text-anchor="end">2016/02/18</text>
<text transform="translate(323.75 395.2) rotate(-45)" font-family="'Liberation Sans',sans-serif" font-size="3.65" fill="#808080" text-anchor="end">2016/02/19</text>
<text transform="translate(336.1 395.2) rotate(-45)" font-family="'Liberation Sans',sans-serif" font-size="3.65" fill="#808080" text-anchor="end">2016/02/20</text>
<text transform="translate(348.45 395.2) rotate(-45)" font-family="'Liberation Sans',sans-serif" font-size="3.65" fill="#808080" text-anchor="end">2016/02/21</text>
<text transform="translate(360.8 395.2) rotate(-45)" font-family="'Liberation Sans',sans-serif" font-size="3.65" fill="#808080" text-anchor="end">2016/02/22</text>
<text transform="translate(373.15 395.2) rotate(-45)" font-family="'Liberation Sans',sans-serif" font-size="3.65" fill="#808080" text-anchor="end">2016/02/23</text>
<text transform="translate(385.5 395.2) rotate(-45)" font-family="'Liberation Sans',sans-serif" font-size="3.65" fill="#808080" text-anchor="end">2016/02/24</text>
<text transform="translate(397.85 395.2) rotate(-45)" font-family="'Liberation Sans',sans-serif" font-size="3.65" fill="#808080" text-anchor="end">2016/02/25</text>
<text transform="translate(410.2 395.2) rotate(-45)" font-family="'Liberation Sans',sans-serif" font-size="3.65" fill="#808080" text-anchor="end">2016/02/26</text>
<text transform="translate(422.55 395.2) rotate(-45)" font-family="'Liberation Sans',sans-serif" font-size="3.65" fill="#808080" text-anchor="end">2016/02/27</text>
<text transform="translate(434.9 395.2) rotate(-45)" font-family="'Liberation Sans',sans-serif" font-size="3.65" fill="#808080" text-anchor="end">2016/02/28</text>
<text transform="translate(447.25 395.2) rotate(-45)" font-family="'Liberation Sans',sans-serif" font-size="3.65" fill="#808080" text-anchor="end">2016/02/29</text>
<text transform="translate(459.6 395.2) rotate(-45)" font-family="'Liberation Sans',sans-serif" font-size="3.65" fill="#808080" text-anchor="end">2016/03/01</text>
<text transform="translate(471.95 395.2) rotate(-45)" font-family="'Liberation Sans',sans-serif" font-size="3.65" fill="#808080" text-anchor="end">2016/03/02</text>
<text transform="translate(484.3 395.2) rotate(-45)" font-family="'Liberation Sans',sans-serif" font-size="3.65" fill="#808080" text-anchor="end">2016/03/03</text>
<text transform="translate(496.65 395.2) rotate(-45)" font-family="'Liberation Sans',sans-serif" font-size="3.65" fill="#808080" text-anchor="end">2016/03/04</text>
<text class="r" x="316.8" y="416.8" font-size="3.3" fill="#666" text-anchor="middle">日期</text>
<rect x="104" y="431.3" width="402" height="1.3" fill="#5c85b4"/>
<text class="s" transform="translate(105 442.8) skewX(-14)" font-size="5.95" fill="#111">网格设备竣工资料</text>
<line x1="105" y1="453.7" x2="506" y2="453.7" stroke="#dcdcdc" stroke-width="0.5"/>
<line x1="105" y1="461" x2="506" y2="461" stroke="#dcdcdc" stroke-width="0.5"/>
<line x1="105" y1="467.9" x2="506" y2="467.9" stroke="#dcdcdc" stroke-width="0.5"/>
<text class="r" x="105" y="451.9" font-size="4.1" fill="#2a2a2a">工务专业竣工资料：</text>
<text class="r" x="146.9" y="451.9" font-size="3.45" fill="#1212c8">竣工图</text>
<line x1="146.9" y1="452.65" x2="157.25" y2="452.65" stroke="#1212c8" stroke-width="0.35"/>
<text class="r" x="161.4" y="451.9" font-size="3.45" fill="#1212c8">工程人员名册</text>
<line x1="161.4" y1="452.65" x2="182.1" y2="452.65" stroke="#1212c8" stroke-width="0.35"/>
<text class="r" x="185" y="451.9" font-size="3.45" fill="#1212c8">工程监理日志</text>
<line x1="185" y1="452.65" x2="205.7" y2="452.65" stroke="#1212c8" stroke-width="0.35"/>
<text class="r" x="208.3" y="451.9" font-size="3.45" fill="#1212c8">施工情况</text>
<line x1="208.3" y1="452.65" x2="222.1" y2="452.65" stroke="#1212c8" stroke-width="0.35"/>
<text class="r" x="224.9" y="451.9" font-size="3.45" fill="#1212c8">竣工文件</text>
<line x1="224.9" y1="452.65" x2="238.7" y2="452.65" stroke="#1212c8" stroke-width="0.35"/>
<text class="r" x="241.3" y="451.9" font-size="3.45" fill="#1212c8">隐蔽验收资料书</text>
<line x1="241.3" y1="452.65" x2="265.45" y2="452.65" stroke="#1212c8" stroke-width="0.35"/>
<text class="r" x="266.9" y="451.9" font-size="3.45" fill="#1212c8">站前工程验收证书</text>
<line x1="266.9" y1="452.65" x2="294.5" y2="452.65" stroke="#1212c8" stroke-width="0.35"/>
<text class="r" x="298.3" y="451.9" font-size="3.45" fill="#1212c8">站后工程验收证书</text>
<line x1="298.3" y1="452.65" x2="325.9" y2="452.65" stroke="#1212c8" stroke-width="0.35"/>
<text class="r" x="328.5" y="451.9" font-size="3.45" fill="#1212c8">单位工程质量评定</text>
<line x1="328.5" y1="452.65" x2="356.1" y2="452.65" stroke="#1212c8" stroke-width="0.35"/>
<text class="r" x="359" y="451.9" font-size="3.45" fill="#1212c8">竣工验收报告证书</text>
<line x1="359" y1="452.65" x2="386.6" y2="452.65" stroke="#1212c8" stroke-width="0.35"/>
<text class="r" x="105" y="459.2" font-size="4.1" fill="#2a2a2a">电务专业竣工资料：</text>
<text class="b" x="146.4" y="459.2" font-size="3.4" fill="#111">竣工图</text>
<text class="b" x="158.2" y="459.2" font-size="3.4" fill="#111">工程人员名册</text>
<text class="r" x="105" y="466.1" font-size="4.1" fill="#2a2a2a">牵引供电专业竣工资料：</text>
<text class="b" x="154.2" y="466.1" font-size="3.4" fill="#111">竣工图</text>
<text class="b" x="166" y="466.1" font-size="3.4" fill="#111">工程人员名册</text>
<rect x="104" y="471.5" width="402" height="1.3" fill="#5c85b4"/>
<text class="s" transform="translate(105 482.7) skewX(-14)" font-size="5.95" fill="#111">网格设备基本属性</text>
<line x1="105" y1="493.3" x2="506" y2="493.3" stroke="#dcdcdc" stroke-width="0.5"/>
<line x1="105" y1="500.4" x2="506" y2="500.4" stroke="#dcdcdc" stroke-width="0.5"/>
<line x1="105" y1="507.5" x2="506" y2="507.5" stroke="#dcdcdc" stroke-width="0.5"/>
<line x1="105" y1="514.7" x2="506" y2="514.7" stroke="#dcdcdc" stroke-width="0.5"/>
<text class="r" x="105" y="491.3" font-size="4.1" fill="#2a2a2a">该网格位于京广线路上行</text>
<text x="150.3" y="491.2" font-family="'Liberation Sans',sans-serif" font-size="4.4" fill="#2a2a2a" textLength="56" lengthAdjust="spacing">K2452+400~K2452+600</text>
<text class="r" x="206.8" y="491.3" font-size="4.1" fill="#2a2a2a">处</text>
<text class="r" x="105" y="499" font-size="4.1" fill="#2a2a2a">工务设备：</text>
<text class="b" x="128.9" y="499" font-size="3.4" fill="#111">轨道</text>
<text class="b" x="136.85" y="499" font-size="3.4" fill="#111">轨道板</text>
<text class="r" x="148.2" y="499" font-size="3.4" fill="#1212c8">扣件</text>
<line x1="148.2" y1="499.75" x2="155" y2="499.75" stroke="#1212c8" stroke-width="0.35"/>
<text class="r" x="156.15" y="499" font-size="3.4" fill="#1212c8">道床</text>
<line x1="156.15" y1="499.75" x2="162.95" y2="499.75" stroke="#1212c8" stroke-width="0.35"/>
<text class="r" x="164.1" y="499" font-size="3.4" fill="#1212c8">轨距挡板</text>
<line x1="164.1" y1="499.75" x2="177.7" y2="499.75" stroke="#1212c8" stroke-width="0.35"/>
<text class="r" x="178.85" y="499" font-size="3.4" fill="#1212c8">桥梁</text>
<line x1="178.85" y1="499.75" x2="185.65" y2="499.75" stroke="#1212c8" stroke-width="0.35"/>
<text class="r" x="186.8" y="499" font-size="3.4" fill="#1212c8">隧道</text>
<line x1="186.8" y1="499.75" x2="193.6" y2="499.75" stroke="#1212c8" stroke-width="0.35"/>
<text class="r" x="194.75" y="499" font-size="3.4" fill="#1212c8">涵洞</text>
<line x1="194.75" y1="499.75" x2="201.55" y2="499.75" stroke="#1212c8" stroke-width="0.35"/>
<text class="r" x="202.7" y="499" font-size="3.4" fill="#1212c8">道岔</text>
<line x1="202.7" y1="499.75" x2="209.5" y2="499.75" stroke="#1212c8" stroke-width="0.35"/>
<text class="r" x="210.65" y="499" font-size="3.4" fill="#1212c8">路基</text>
<line x1="210.65" y1="499.75" x2="217.45" y2="499.75" stroke="#1212c8" stroke-width="0.35"/>
<text class="b" x="218.6" y="499" font-size="3.4" fill="#111">防护</text>
<text class="r" x="226.55" y="499" font-size="3.4" fill="#1212c8">声屏</text>
<line x1="226.55" y1="499.75" x2="233.35" y2="499.75" stroke="#1212c8" stroke-width="0.35"/>
<text class="r" x="105" y="506.3" font-size="4.1" fill="#2a2a2a">电务设备：</text>
<text class="r" x="127.8" y="506.3" font-size="3.4" fill="#1212c8">计算机联锁</text>
<line x1="127.8" y1="507.05" x2="144.8" y2="507.05" stroke="#1212c8" stroke-width="0.35"/>
<text class="b" x="145.8" y="506.3" font-size="3.4" fill="#111">转辙机</text>
<text class="r" x="157" y="506.3" font-size="3.4" fill="#1212c8">信号机</text>
<line x1="157" y1="507.05" x2="167.2" y2="507.05" stroke="#1212c8" stroke-width="0.35"/>
<text class="r" x="168.2" y="506.3" font-size="3.4" fill="#1212c8">轨道电路设备</text>
<line x1="168.2" y1="507.05" x2="188.6" y2="507.05" stroke="#1212c8" stroke-width="0.35"/>
<text class="r" x="105" y="513.2" font-size="4.1" fill="#2a2a2a">牵引供电设备：</text>
<text class="b" x="137.1" y="513.2" font-size="3.4" fill="#111">接触网</text>
<text class="b" x="148.3" y="513.2" font-size="3.4" fill="#111">承力索</text>
<text class="b" x="159.5" y="513.2" font-size="3.4" fill="#111">中心锚结</text>
<text class="r" x="174.1" y="513.2" font-size="3.4" fill="#1212c8">支柱</text>
<line x1="174.1" y1="513.95" x2="180.9" y2="513.95" stroke="#1212c8" stroke-width="0.35"/>
<text class="b" x="181.9" y="513.2" font-size="3.4" fill="#111">变电所</text>
<text class="b" x="193.1" y="513.2" font-size="3.4" fill="#111">馈线</text>
<rect x="104" y="518.4" width="402" height="1.3" fill="#5c85b4"/>
<text class="s" transform="translate(105 529.8) skewX(-14)" font-size="5.95" fill="#5b2a9d">网格动态属性</text>
<line x1="104.6" y1="530.9" x2="140.6" y2="530.9" stroke="#5b2a9d" stroke-width="0.6"/>
<rect x="104" y="533.8" width="402" height="1.3" fill="#5c85b4"/>
<text class="s" transform="translate(105 545) skewX(-14)" font-size="5.95" fill="#111">线路设备综合图</text></g>
<g id="menu"><rect x="548.4" y="0" width="3" height="350.4" fill="#f3f6fc"/>
<line x1="551.6" y1="0" x2="551.6" y2="350.4" stroke="#c3d3ee" stroke-width="1.2"/>
<circle cx="554.3" cy="5.4" r="1.2" fill="#2a3fb4"/>
<text class="r" x="569.6" y="8.1" font-size="8.1" fill="#4c66ba">设备病害(故障)</text>
<text class="b" x="561.4" y="22.2" font-size="6.65" fill="#2546b6">工务设备病害</text>
<text class="r" x="566.18" y="32" font-size="5.45" fill="#262626">轨道几何</text>
<text class="r" x="591.94" y="32" font-size="5.45" fill="#262626">钢轨</text>
<text class="r" x="606.14" y="32" font-size="5.45" fill="#262626">轨枕</text>
<text class="r" x="620.76" y="32" font-size="5.45" fill="#262626">道床</text>
<text class="r" x="635.17" y="32" font-size="5.45" fill="#262626">更多)</text>
<text class="b" x="561.4" y="44.9" font-size="6.65" fill="#2546b6">信号设备故障</text>
<text class="r" x="566.18" y="54.9" font-size="5.45" fill="#262626">信号机</text>
<text class="r" x="586.48" y="54.9" font-size="5.45" fill="#262626">应答器</text>
<text class="r" x="606.14" y="54.9" font-size="5.45" fill="#262626">轨道电路</text>
<text class="r" x="631.9" y="54.9" font-size="5.45" fill="#262626">更多)</text>
<text class="b" x="561.4" y="67.8" font-size="6.65" fill="#2546b6">供电设备故障</text>
<text class="r" x="566.18" y="77.9" font-size="5.45" fill="#262626">接触网</text>
<text class="r" x="586.48" y="77.9" font-size="5.45" fill="#262626">更多)</text>
<circle cx="554.3" cy="92.3" r="1.2" fill="#2a3fb4"/>
<text class="r" x="569.6" y="95" font-size="8.1" fill="#4c66ba">检测</text>
<text class="b" x="561.4" y="108.9" font-size="6.65" fill="#2546b6">工务设备检测</text>
<text class="r" x="566.18" y="119" font-size="5.45" fill="#262626">轨道检查车</text>
<text class="r" x="596.97" y="119" font-size="5.45" fill="#262626">钢轨探伤车</text>
<text class="r" x="627.97" y="119" font-size="5.45" fill="#262626">更多)</text>
<text class="b" x="561.4" y="132.1" font-size="6.65" fill="#2546b6">电务设备检测</text>
<text class="r" x="566.18" y="141.5" font-size="5.45" fill="#262626">信号机</text>
<text class="r" x="586.48" y="141.5" font-size="5.45" fill="#262626">应答器</text>
<text class="r" x="606.14" y="141.5" font-size="5.45" fill="#262626">轨道电路</text>
<text class="r" x="631.9" y="141.5" font-size="5.45" fill="#262626">更多)</text>
<text class="b" x="561.4" y="154.8" font-size="6.65" fill="#2546b6">供电设备检测</text>
<text class="r" x="566.18" y="164.9" font-size="5.45" fill="#262626">接触网检测车</text>
<text class="r" x="602.21" y="164.9" font-size="5.45" fill="#262626">更多)</text>
<circle cx="554.3" cy="179.5" r="1.2" fill="#2a3fb4"/>
<text class="r" x="569.6" y="182.2" font-size="8.1" fill="#4c66ba">设备修理</text>
<text class="b" x="561.4" y="195.8" font-size="6.65" fill="#2546b6">工务设备修理</text>
<text class="r" x="566.18" y="205.6" font-size="5.45" fill="#262626">日常保养</text>
<text class="r" x="591.51" y="205.6" font-size="5.45" fill="#262626">综合维修</text>
<text class="r" x="620.76" y="205.6" font-size="5.45" fill="#262626">维修</text>
<text class="r" x="635.17" y="205.6" font-size="5.45" fill="#262626">大修</text>
<text class="b" x="561.4" y="218.6" font-size="6.65" fill="#2546b6">电务设备修理</text>
<text class="r" x="566.18" y="228.5" font-size="5.45" fill="#262626">日常检修</text>
<text class="r" x="591.94" y="228.5" font-size="5.45" fill="#262626">中修</text>
<text class="r" x="606.14" y="228.5" font-size="5.45" fill="#262626">大修</text>
<text class="b" x="561.4" y="241.3" font-size="6.65" fill="#2546b6">供电设备修理</text>
<text class="r" x="566.18" y="251.4" font-size="5.45" fill="#262626">日常检修</text>
<text class="r" x="591.94" y="251.4" font-size="5.45" fill="#262626">大修</text>
<text class="r" x="606.14" y="251.4" font-size="5.45" fill="#262626">更多)</text>
<circle cx="554.3" cy="266.1" r="1.2" fill="#2a3fb4"/>
<text class="r" x="569.6" y="268.8" font-size="8.1" fill="#4c66ba">运行组织</text>
<text class="r" x="566.18" y="278.8" font-size="5.45" fill="#262626">运行图</text>
<text class="r" x="586.48" y="278.8" font-size="5.45" fill="#262626">列车通过量</text>
<text class="r" x="617.49" y="278.8" font-size="5.45" fill="#262626">更多)</text>
<circle cx="554.3" cy="292.8" r="1.2" fill="#2a3fb4"/>
<text class="r" x="569.6" y="295.5" font-size="8.1" fill="#4c66ba">环境</text>
<text class="r" x="566.18" y="305.4" font-size="5.45" fill="#262626">气象</text>
<text class="r" x="581.03" y="305.4" font-size="5.45" fill="#262626">沉降</text>
<text class="r" x="595.22" y="305.4" font-size="5.45" fill="#262626">地震</text>
<text class="r" x="610.07" y="305.4" font-size="5.45" fill="#262626">更多)</text>
<circle cx="554.3" cy="320.1" r="1.2" fill="#2a3fb4"/>
<text class="r" x="569.6" y="322.8" font-size="8.1" fill="#4c66ba">事故与灾害</text>
<text class="r" x="566.18" y="333.1" font-size="5.45" fill="#262626">行车事故</text>
<text class="r" x="591.94" y="333.1" font-size="5.45" fill="#262626">故障预警</text>
<text class="r" x="617.49" y="333.1" font-size="5.45" fill="#262626">自然灾害</text></g>
<g id="chart"><rect x="697" y="0" width="563" height="1.1" fill="#d6e1f2"/>
<line x1="1259.6" y1="0" x2="1259.6" y2="350.4" stroke="#cfdcf0" stroke-width="1.2"/>
<line x1="1255.6" y1="141" x2="1255.6" y2="350.4" stroke="#dfe8f6" stroke-width="1"/>
<rect x="1260.6" y="0" width="2.8" height="351.4" fill="#f0f0f0"/>
<rect x="697.4" y="5.3" width="556.3" height="135.2" fill="#fff" stroke="#b9cbe6" stroke-width="0.8"/>
<line x1="745.9" y1="5.8" x2="745.9" y2="123" stroke="#ebebeb" stroke-width="0.5"/>
<line x1="768.5" y1="5.8" x2="768.5" y2="123" stroke="#ebebeb" stroke-width="0.5"/>
<line x1="791.1" y1="5.8" x2="791.1" y2="123" stroke="#ebebeb" stroke-width="0.5"/>
<line x1="813.7" y1="5.8" x2="813.7" y2="123" stroke="#ebebeb" stroke-width="0.5"/>
<line x1="836.3" y1="5.8" x2="836.3" y2="123" stroke="#ebebeb" stroke-width="0.5"/>
<line x1="858.9" y1="5.8" x2="858.9" y2="123" stroke="#ebebeb" stroke-width="0.5"/>
<line x1="881.5" y1="5.8" x2="881.5" y2="123" stroke="#ebebeb" stroke-width="0.5"/>
<line x1="904.1" y1="5.8" x2="904.1" y2="123" stroke="#ebebeb" stroke-width="0.5"/>
<line x1="926.7" y1="5.8" x2="926.7" y2="123" stroke="#ebebeb" stroke-width="0.5"/>
<line x1="949.3" y1="5.8" x2="949.3" y2="123" stroke="#ebebeb" stroke-width="0.5"/>
<line x1="971.9" y1="5.8" x2="971.9" y2="123" stroke="#ebebeb" stroke-width="0.5"/>
<line x1="994.5" y1="5.8" x2="994.5" y2="123" stroke="#ebebeb" stroke-width="0.5"/>
<line x1="1017.1" y1="5.8" x2="1017.1" y2="123" stroke="#ebebeb" stroke-width="0.5"/>
<line x1="1039.7" y1="5.8" x2="1039.7" y2="123" stroke="#ebebeb" stroke-width="0.5"/>
<line x1="1062.3" y1="5.8" x2="1062.3" y2="123" stroke="#ebebeb" stroke-width="0.5"/>
<line x1="1084.9" y1="5.8" x2="1084.9" y2="123" stroke="#ebebeb" stroke-width="0.5"/>
<line x1="1107.5" y1="5.8" x2="1107.5" y2="123" stroke="#ebebeb" stroke-width="0.5"/>
<line x1="1130.1" y1="5.8" x2="1130.1" y2="123" stroke="#ebebeb" stroke-width="0.5"/>
<line x1="1152.7" y1="5.8" x2="1152.7" y2="123" stroke="#ebebeb" stroke-width="0.5"/>
<line x1="1175.3" y1="5.8" x2="1175.3" y2="123" stroke="#ebebeb" stroke-width="0.5"/>
<line x1="1197.9" y1="5.8" x2="1197.9" y2="123" stroke="#ebebeb" stroke-width="0.5"/>
<line x1="1220.5" y1="5.8" x2="1220.5" y2="123" stroke="#ebebeb" stroke-width="0.5"/>
<line x1="1243.1" y1="5.8" x2="1243.1" y2="123" stroke="#ebebeb" stroke-width="0.5"/>
<rect x="724.8" y="26.35" width="528.9" height="2.5" fill="#f87a7a"/>
<rect x="724.8" y="37" width="528.9" height="68.4" fill="#008000"/>
<path d="M729.48 35.2V104M735.14 35.2V104M740.79 35.2V104M746.45 35.2V104M752.11 35.2V104M757.76 35.2V104M763.42 35.2V104M769.08 35.2V104M774.73 35.2V104M780.39 35.2V104M786.05 35.2V104M791.71 35.2V104M797.36 35.2V104M803.02 35.2V104M808.68 35.2V104M814.33 35.2V104M819.99 35.2V104M825.65 35.2V104M831.3 35.2V104M836.96 35.2V104M842.62 35.2V104M848.28 35.2V104M853.93 35.2V104M859.59 35.2V104M865.25 35.2V104M870.9 35.2V104M876.56 35.2V104M882.22 35.2V104M887.87 35.2V104M893.53 35.2V104M899.19 35.2V104M904.85 35.2V104M910.5 35.2V104M916.16 35.2V104M921.82 35.2V104M927.47 35.2V104M933.13 35.2V104M938.79 35.2V104M944.44 35.2V104M950.1 35.2V104M955.76 35.2V104M961.42 35.2V104M967.07 35.2V104M972.73 35.2V104M978.39 35.2V104M984.04 35.2V104M989.7 35.2V104M995.36 35.2V104M1001.01 35.2V104M1006.67 35.2V104M1012.33 35.2V104M1017.99 35.2V104M1023.64 35.2V104M1029.3 35.2V104M1034.96 35.2V104M1040.61 35.2V104M1046.27 35.2V104M1051.93 35.2V104M1057.58 35.2V104M1063.24 35.2V104M1068.9 35.2V104M1074.56 35.2V104M1080.21 35.2V104M1085.87 35.2V104M1091.53 35.2V104M1097.18 35.2V104M1102.84 35.2V104M1108.5 35.2V104M1114.15 35.2V104M1119.81 35.2V104M1125.47 35.2V104M1131.13 35.2V104M1136.78 35.2V104M1142.44 35.2V104M1148.1 35.2V104M1153.75 35.2V104M1159.41 35.2V104M1165.07 35.2V104M1170.72 35.2V104M1176.38 35.2V104M1182.04 35.2V104M1187.7 35.2V104M1193.35 35.2V104M1199.01 35.2V104M1204.67 35.2V104M1210.32 35.2V104M1215.98 35.2V104M1221.64 35.2V104M1227.29 35.2V104M1232.95 35.2V104M1238.61 35.2V104M1244.27 35.2V104M1249.92 35.2V104" fill="none" stroke="#f4fbf4" stroke-width="1.55"/>
<path d="M729.48 35.2V104M735.14 35.2V104M740.79 35.2V104M746.45 35.2V104M752.11 35.2V104M757.76 35.2V104M763.42 35.2V104M769.08 35.2V104M774.73 35.2V104M780.39 35.2V104M786.05 35.2V104M791.71 35.2V104M797.36 35.2V104M803.02 35.2V104M808.68 35.2V104M814.33 35.2V104M819.99 35.2V104M825.65 35.2V104M831.3 35.2V104M836.96 35.2V104M842.62 35.2V104M848.28 35.2V104M853.93 35.2V104M859.59 35.2V104M865.25 35.2V104M870.9 35.2V104M876.56 35.2V104M882.22 35.2V104M887.87 35.2V104M893.53 35.2V104M899.19 35.2V104M904.85 35.2V104M910.5 35.2V104M916.16 35.2V104M921.82 35.2V104M927.47 35.2V104M933.13 35.2V104M938.79 35.2V104M944.44 35.2V104M950.1 35.2V104M955.76 35.2V104M961.42 35.2V104M967.07 35.2V104M972.73 35.2V104M978.39 35.2V104M984.04 35.2V104M989.7 35.2V104M995.36 35.2V104M1001.01 35.2V104M1006.67 35.2V104M1012.33 35.2V104M1017.99 35.2V104M1023.64 35.2V104M1029.3 35.2V104M1034.96 35.2V104M1040.61 35.2V104M1046.27 35.2V104M1051.93 35.2V104M1057.58 35.2V104M1063.24 35.2V104M1068.9 35.2V104M1074.56 35.2V104M1080.21 35.2V104M1085.87 35.2V104M1091.53 35.2V104M1097.18 35.2V104M1102.84 35.2V104M1108.5 35.2V104M1114.15 35.2V104M1119.81 35.2V104M1125.47 35.2V104M1131.13 35.2V104M1136.78 35.2V104M1142.44 35.2V104M1148.1 35.2V104M1153.75 35.2V104M1159.41 35.2V104M1165.07 35.2V104M1170.72 35.2V104M1176.38 35.2V104M1182.04 35.2V104M1187.7 35.2V104M1193.35 35.2V104M1199.01 35.2V104M1204.67 35.2V104M1210.32 35.2V104M1215.98 35.2V104M1221.64 35.2V104M1227.29 35.2V104M1232.95 35.2V104M1238.61 35.2V104M1244.27 35.2V104M1249.92 35.2V104" fill="none" stroke="#2a992a" stroke-width="1.55" stroke-dasharray="0.75 1.5"/>
<path d="M724.53 105.4V36.95a2.12 2.12 0 0 1 4.24 0V105.4zM730.19 105.4V36.95a2.12 2.12 0 0 1 4.24 0V105.4zM735.84 105.4V36.95a2.12 2.12 0 0 1 4.24 0V105.4zM741.5 105.4V36.95a2.12 2.12 0 0 1 4.24 0V105.4zM747.16 105.4V36.95a2.12 2.12 0 0 1 4.24 0V105.4zM752.81 105.4V36.95a2.12 2.12 0 0 1 4.24 0V105.4zM758.47 105.4V36.95a2.12 2.12 0 0 1 4.24 0V105.4zM764.13 105.4V36.95a2.12 2.12 0 0 1 4.24 0V105.4zM769.79 105.4V36.95a2.12 2.12 0 0 1 4.24 0V105.4zM775.44 105.4V36.95a2.12 2.12 0 0 1 4.24 0V105.4zM781.1 105.4V36.95a2.12 2.12 0 0 1 4.24 0V105.4zM786.76 105.4V36.95a2.12 2.12 0 0 1 4.24 0V105.4zM792.41 105.4V36.95a2.12 2.12 0 0 1 4.24 0V105.4zM798.07 105.4V36.95a2.12 2.12 0 0 1 4.24 0V105.4zM803.73 105.4V36.95a2.12 2.12 0 0 1 4.24 0V105.4zM809.38 105.4V36.95a2.12 2.12 0 0 1 4.24 0V105.4zM815.04 105.4V36.95a2.12 2.12 0 0 1 4.24 0V105.4zM820.7 105.4V36.95a2.12 2.12 0 0 1 4.24 0V105.4zM826.36 105.4V36.95a2.12 2.12 0 0 1 4.24 0V105.4zM832.01 105.4V36.95a2.12 2.12 0 0 1 4.24 0V105.4zM837.67 105.4V36.95a2.12 2.12 0 0 1 4.24 0V105.4zM843.33 105.4V36.95a2.12 2.12 0 0 1 4.24 0V105.4zM848.98 105.4V36.95a2.12 2.12 0 0 1 4.24 0V105.4zM854.64 105.4V36.95a2.12 2.12 0 0 1 4.24 0V105.4zM860.3 105.4V36.95a2.12 2.12 0 0 1 4.24 0V105.4zM865.96 105.4V36.95a2.12 2.12 0 0 1 4.24 0V105.4zM871.61 105.4V36.95a2.12 2.12 0 0 1 4.24 0V105.4zM877.27 105.4V36.95a2.12 2.12 0 0 1 4.24 0V105.4zM882.93 105.4V36.95a2.12 2.12 0 0 1 4.24 0V105.4zM888.58 105.4V36.95a2.12 2.12 0 0 1 4.24 0V105.4zM894.24 105.4V36.95a2.12 2.12 0 0 1 4.24 0V105.4zM899.9 105.4V36.95a2.12 2.12 0 0 1 4.24 0V105.4zM905.55 105.4V36.95a2.12 2.12 0 0 1 4.24 0V105.4zM911.21 105.4V36.95a2.12 2.12 0 0 1 4.24 0V105.4zM916.87 105.4V36.95a2.12 2.12 0 0 1 4.24 0V105.4zM922.52 105.4V36.95a2.12 2.12 0 0 1 4.24 0V105.4zM928.18 105.4V36.95a2.12 2.12 0 0 1 4.24 0V105.4zM933.84 105.4V36.95a2.12 2.12 0 0 1 4.24 0V105.4zM939.5 105.4V36.95a2.12 2.12 0 0 1 4.24 0V105.4zM945.15 105.4V36.95a2.12 2.12 0 0 1 4.24 0V105.4zM950.81 105.4V36.95a2.12 2.12 0 0 1 4.24 0V105.4zM956.47 105.4V36.95a2.12 2.12 0 0 1 4.24 0V105.4zM962.12 105.4V36.95a2.12 2.12 0 0 1 4.24 0V105.4zM967.78 105.4V36.95a2.12 2.12 0 0 1 4.24 0V105.4zM973.44 105.4V36.95a2.12 2.12 0 0 1 4.24 0V105.4zM979.09 105.4V36.95a2.12 2.12 0 0 1 4.24 0V105.4zM984.75 105.4V36.95a2.12 2.12 0 0 1 4.24 0V105.4zM990.41 105.4V36.95a2.12 2.12 0 0 1 4.24 0V105.4zM996.07 105.4V36.95a2.12 2.12 0 0 1 4.24 0V105.4zM1001.72 105.4V36.95a2.12 2.12 0 0 1 4.24 0V105.4zM1007.38 105.4V36.95a2.12 2.12 0 0 1 4.24 0V105.4zM1013.04 105.4V36.95a2.12 2.12 0 0 1 4.24 0V105.4zM1018.69 105.4V36.95a2.12 2.12 0 0 1 4.24 0V105.4zM1024.35 105.4V36.95a2.12 2.12 0 0 1 4.24 0V105.4zM1030.01 105.4V36.95a2.12 2.12 0 0 1 4.24 0V105.4zM1035.66 105.4V36.95a2.12 2.12 0 0 1 4.24 0V105.4zM1041.32 105.4V36.95a2.12 2.12 0 0 1 4.24 0V105.4zM1046.98 105.4V36.95a2.12 2.12 0 0 1 4.24 0V105.4zM1052.64 105.4V36.95a2.12 2.12 0 0 1 4.24 0V105.4zM1058.29 105.4V36.95a2.12 2.12 0 0 1 4.24 0V105.4zM1063.95 105.4V36.95a2.12 2.12 0 0 1 4.24 0V105.4zM1069.61 105.4V36.95a2.12 2.12 0 0 1 4.24 0V105.4zM1075.26 105.4V36.95a2.12 2.12 0 0 1 4.24 0V105.4zM1080.92 105.4V36.95a2.12 2.12 0 0 1 4.24 0V105.4zM1086.58 105.4V36.95a2.12 2.12 0 0 1 4.24 0V105.4zM1092.24 105.4V36.95a2.12 2.12 0 0 1 4.24 0V105.4zM1097.89 105.4V36.95a2.12 2.12 0 0 1 4.24 0V105.4zM1103.55 105.4V36.95a2.12 2.12 0 0 1 4.24 0V105.4zM1109.21 105.4V36.95a2.12 2.12 0 0 1 4.24 0V105.4zM1114.86 105.4V36.95a2.12 2.12 0 0 1 4.24 0V105.4zM1120.52 105.4V36.95a2.12 2.12 0 0 1 4.24 0V105.4zM1126.18 105.4V36.95a2.12 2.12 0 0 1 4.24 0V105.4zM1131.83 105.4V36.95a2.12 2.12 0 0 1 4.24 0V105.4zM1137.49 105.4V36.95a2.12 2.12 0 0 1 4.24 0V105.4zM1143.15 105.4V36.95a2.12 2.12 0 0 1 4.24 0V105.4zM1148.81 105.4V36.95a2.12 2.12 0 0 1 4.24 0V105.4zM1154.46 105.4V36.95a2.12 2.12 0 0 1 4.24 0V105.4zM1160.12 105.4V36.95a2.12 2.12 0 0 1 4.24 0V105.4zM1165.78 105.4V36.95a2.12 2.12 0 0 1 4.24 0V105.4zM1171.43 105.4V36.95a2.12 2.12 0 0 1 4.24 0V105.4zM1177.09 105.4V36.95a2.12 2.12 0 0 1 4.24 0V105.4zM1182.75 105.4V36.95a2.12 2.12 0 0 1 4.24 0V105.4zM1188.4 105.4V36.95a2.12 2.12 0 0 1 4.24 0V105.4zM1194.06 105.4V36.95a2.12 2.12 0 0 1 4.24 0V105.4zM1199.72 105.4V36.95a2.12 2.12 0 0 1 4.24 0V105.4zM1205.38 105.4V36.95a2.12 2.12 0 0 1 4.24 0V105.4zM1211.03 105.4V36.95a2.12 2.12 0 0 1 4.24 0V105.4zM1216.69 105.4V36.95a2.12 2.12 0 0 1 4.24 0V105.4zM1222.35 105.4V36.95a2.12 2.12 0 0 1 4.24 0V105.4zM1228 105.4V36.95a2.12 2.12 0 0 1 4.24 0V105.4zM1233.66 105.4V36.95a2.12 2.12 0 0 1 4.24 0V105.4zM1239.32 105.4V36.95a2.12 2.12 0 0 1 4.24 0V105.4zM1244.97 105.4V36.95a2.12 2.12 0 0 1 4.24 0V105.4zM1250.63 105.4V36.95a2.12 2.12 0 0 1 4.24 0V105.4z" fill="#008000"/>
<rect x="724.8" y="105.2" width="528.9" height="18.2" fill="#1c0000"/>
<path d="M724.95 123.3a1.7 1.5 0 0 1 3.4 0zM730.61 123.3a1.7 1.5 0 0 1 3.4 0zM736.26 123.3a1.7 1.5 0 0 1 3.4 0zM741.92 123.3a1.7 1.5 0 0 1 3.4 0zM747.58 123.3a1.7 1.5 0 0 1 3.4 0zM753.23 123.3a1.7 1.5 0 0 1 3.4 0zM758.89 123.3a1.7 1.5 0 0 1 3.4 0zM764.55 123.3a1.7 1.5 0 0 1 3.4 0zM770.21 123.3a1.7 1.5 0 0 1 3.4 0zM775.86 123.3a1.7 1.5 0 0 1 3.4 0zM781.52 123.3a1.7 1.5 0 0 1 3.4 0zM787.18 123.3a1.7 1.5 0 0 1 3.4 0zM792.83 123.3a1.7 1.5 0 0 1 3.4 0zM798.49 123.3a1.7 1.5 0 0 1 3.4 0zM804.15 123.3a1.7 1.5 0 0 1 3.4 0zM809.8 123.3a1.7 1.5 0 0 1 3.4 0zM815.46 123.3a1.7 1.5 0 0 1 3.4 0zM821.12 123.3a1.7 1.5 0 0 1 3.4 0zM826.78 123.3a1.7 1.5 0 0 1 3.4 0zM832.43 123.3a1.7 1.5 0 0 1 3.4 0zM838.09 123.3a1.7 1.5 0 0 1 3.4 0zM843.75 123.3a1.7 1.5 0 0 1 3.4 0zM849.4 123.3a1.7 1.5 0 0 1 3.4 0zM855.06 123.3a1.7 1.5 0 0 1 3.4 0zM860.72 123.3a1.7 1.5 0 0 1 3.4 0zM866.38 123.3a1.7 1.5 0 0 1 3.4 0zM872.03 123.3a1.7 1.5 0 0 1 3.4 0zM877.69 123.3a1.7 1.5 0 0 1 3.4 0zM883.35 123.3a1.7 1.5 0 0 1 3.4 0zM889 123.3a1.7 1.5 0 0 1 3.4 0zM894.66 123.3a1.7 1.5 0 0 1 3.4 0zM900.32 123.3a1.7 1.5 0 0 1 3.4 0zM905.97 123.3a1.7 1.5 0 0 1 3.4 0zM911.63 123.3a1.7 1.5 0 0 1 3.4 0zM917.29 123.3a1.7 1.5 0 0 1 3.4 0zM922.94 123.3a1.7 1.5 0 0 1 3.4 0zM928.6 123.3a1.7 1.5 0 0 1 3.4 0zM934.26 123.3a1.7 1.5 0 0 1 3.4 0zM939.92 123.3a1.7 1.5 0 0 1 3.4 0zM945.57 123.3a1.7 1.5 0 0 1 3.4 0zM951.23 123.3a1.7 1.5 0 0 1 3.4 0zM956.89 123.3a1.7 1.5 0 0 1 3.4 0zM962.54 123.3a1.7 1.5 0 0 1 3.4 0zM968.2 123.3a1.7 1.5 0 0 1 3.4 0zM973.86 123.3a1.7 1.5 0 0 1 3.4 0zM979.51 123.3a1.7 1.5 0 0 1 3.4 0zM985.17 123.3a1.7 1.5 0 0 1 3.4 0zM990.83 123.3a1.7 1.5 0 0 1 3.4 0zM996.49 123.3a1.7 1.5 0 0 1 3.4 0zM1002.14 123.3a1.7 1.5 0 0 1 3.4 0zM1007.8 123.3a1.7 1.5 0 0 1 3.4 0zM1013.46 123.3a1.7 1.5 0 0 1 3.4 0zM1019.11 123.3a1.7 1.5 0 0 1 3.4 0zM1024.77 123.3a1.7 1.5 0 0 1 3.4 0zM1030.43 123.3a1.7 1.5 0 0 1 3.4 0zM1036.08 123.3a1.7 1.5 0 0 1 3.4 0zM1041.74 123.3a1.7 1.5 0 0 1 3.4 0zM1047.4 123.3a1.7 1.5 0 0 1 3.4 0zM1053.06 123.3a1.7 1.5 0 0 1 3.4 0zM1058.71 123.3a1.7 1.5 0 0 1 3.4 0zM1064.37 123.3a1.7 1.5 0 0 1 3.4 0zM1070.03 123.3a1.7 1.5 0 0 1 3.4 0zM1075.68 123.3a1.7 1.5 0 0 1 3.4 0zM1081.34 123.3a1.7 1.5 0 0 1 3.4 0zM1087 123.3a1.7 1.5 0 0 1 3.4 0zM1092.65 123.3a1.7 1.5 0 0 1 3.4 0zM1098.31 123.3a1.7 1.5 0 0 1 3.4 0zM1103.97 123.3a1.7 1.5 0 0 1 3.4 0zM1109.63 123.3a1.7 1.5 0 0 1 3.4 0zM1115.28 123.3a1.7 1.5 0 0 1 3.4 0zM1120.94 123.3a1.7 1.5 0 0 1 3.4 0zM1126.6 123.3a1.7 1.5 0 0 1 3.4 0zM1132.25 123.3a1.7 1.5 0 0 1 3.4 0zM1137.91 123.3a1.7 1.5 0 0 1 3.4 0zM1143.57 123.3a1.7 1.5 0 0 1 3.4 0zM1149.22 123.3a1.7 1.5 0 0 1 3.4 0zM1154.88 123.3a1.7 1.5 0 0 1 3.4 0zM1160.54 123.3a1.7 1.5 0 0 1 3.4 0zM1166.2 123.3a1.7 1.5 0 0 1 3.4 0zM1171.85 123.3a1.7 1.5 0 0 1 3.4 0zM1177.51 123.3a1.7 1.5 0 0 1 3.4 0zM1183.17 123.3a1.7 1.5 0 0 1 3.4 0zM1188.82 123.3a1.7 1.5 0 0 1 3.4 0zM1194.48 123.3a1.7 1.5 0 0 1 3.4 0zM1200.14 123.3a1.7 1.5 0 0 1 3.4 0zM1205.79 123.3a1.7 1.5 0 0 1 3.4 0zM1211.45 123.3a1.7 1.5 0 0 1 3.4 0zM1217.11 123.3a1.7 1.5 0 0 1 3.4 0zM1222.77 123.3a1.7 1.5 0 0 1 3.4 0zM1228.42 123.3a1.7 1.5 0 0 1 3.4 0zM1234.08 123.3a1.7 1.5 0 0 1 3.4 0zM1239.74 123.3a1.7 1.5 0 0 1 3.4 0zM1245.39 123.3a1.7 1.5 0 0 1 3.4 0zM1251.05 123.3a1.7 1.5 0 0 1 3.4 0z" fill="#0a7d0a"/>
<line x1="800" y1="115.8" x2="1125.4" y2="115.8" stroke="#0c6a0c" stroke-width="1" stroke-dasharray="2.6 3.057"/>
<path d="M729.03 109.2h.9v.9h-.9zM729.03 120.6h.9v.9h-.9zM729.03 114h.9v.9h-.9zM734.69 109.2h.9v.9h-.9zM734.69 120.6h.9v.9h-.9zM734.69 114h.9v.9h-.9zM740.34 109.2h.9v.9h-.9zM740.34 120.6h.9v.9h-.9zM740.34 114h.9v.9h-.9zM746 109.2h.9v.9h-.9zM746 120.6h.9v.9h-.9zM746 114h.9v.9h-.9zM751.66 109.2h.9v.9h-.9zM751.66 120.6h.9v.9h-.9zM751.66 114h.9v.9h-.9zM757.31 109.2h.9v.9h-.9zM757.31 120.6h.9v.9h-.9zM757.31 114h.9v.9h-.9zM762.97 109.2h.9v.9h-.9zM762.97 120.6h.9v.9h-.9zM762.97 114h.9v.9h-.9zM768.63 109.2h.9v.9h-.9zM768.63 120.6h.9v.9h-.9zM768.63 114h.9v.9h-.9zM774.28 109.2h.9v.9h-.9zM774.28 120.6h.9v.9h-.9zM774.28 114h.9v.9h-.9zM779.94 109.2h.9v.9h-.9zM779.94 120.6h.9v.9h-.9zM779.94 114h.9v.9h-.9zM785.6 109.2h.9v.9h-.9zM785.6 120.6h.9v.9h-.9zM785.6 114h.9v.9h-.9zM791.26 109.2h.9v.9h-.9zM791.26 120.6h.9v.9h-.9zM791.26 114h.9v.9h-.9zM796.91 109.2h.9v.9h-.9zM796.91 120.6h.9v.9h-.9zM796.91 114h.9v.9h-.9zM802.57 109.2h.9v.9h-.9zM802.57 120.6h.9v.9h-.9zM802.57 114h.9v.9h-.9zM808.23 109.2h.9v.9h-.9zM808.23 120.6h.9v.9h-.9zM808.23 114h.9v.9h-.9zM813.88 109.2h.9v.9h-.9zM813.88 120.6h.9v.9h-.9zM813.88 114h.9v.9h-.9zM819.54 109.2h.9v.9h-.9zM819.54 120.6h.9v.9h-.9zM819.54 114h.9v.9h-.9zM825.2 109.2h.9v.9h-.9zM825.2 120.6h.9v.9h-.9zM825.2 114h.9v.9h-.9zM830.85 109.2h.9v.9h-.9zM830.85 120.6h.9v.9h-.9zM830.85 114h.9v.9h-.9zM836.51 109.2h.9v.9h-.9zM836.51 120.6h.9v.9h-.9zM836.51 114h.9v.9h-.9zM842.17 109.2h.9v.9h-.9zM842.17 120.6h.9v.9h-.9zM842.17 114h.9v.9h-.9zM847.83 109.2h.9v.9h-.9zM847.83 120.6h.9v.9h-.9zM847.83 114h.9v.9h-.9zM853.48 109.2h.9v.9h-.9zM853.48 120.6h.9v.9h-.9zM853.48 114h.9v.9h-.9zM859.14 109.2h.9v.9h-.9zM859.14 120.6h.9v.9h-.9zM859.14 114h.9v.9h-.9zM864.8 109.2h.9v.9h-.9zM864.8 120.6h.9v.9h-.9zM864.8 114h.9v.9h-.9zM870.45 109.2h.9v.9h-.9zM870.45 120.6h.9v.9h-.9zM870.45 114h.9v.9h-.9zM876.11 109.2h.9v.9h-.9zM876.11 120.6h.9v.9h-.9zM876.11 114h.9v.9h-.9zM881.77 109.2h.9v.9h-.9zM881.77 120.6h.9v.9h-.9zM881.77 114h.9v.9h-.9zM887.42 109.2h.9v.9h-.9zM887.42 120.6h.9v.9h-.9zM887.42 114h.9v.9h-.9zM893.08 109.2h.9v.9h-.9zM893.08 120.6h.9v.9h-.9zM893.08 114h.9v.9h-.9zM898.74 109.2h.9v.9h-.9zM898.74 120.6h.9v.9h-.9zM898.74 114h.9v.9h-.9zM904.4 109.2h.9v.9h-.9zM904.4 120.6h.9v.9h-.9zM904.4 114h.9v.9h-.9zM910.05 109.2h.9v.9h-.9zM910.05 120.6h.9v.9h-.9zM910.05 114h.9v.9h-.9zM915.71 109.2h.9v.9h-.9zM915.71 120.6h.9v.9h-.9zM915.71 114h.9v.9h-.9zM921.37 109.2h.9v.9h-.9zM921.37 120.6h.9v.9h-.9zM921.37 114h.9v.9h-.9zM927.02 109.2h.9v.9h-.9zM927.02 120.6h.9v.9h-.9zM927.02 114h.9v.9h-.9zM932.68 109.2h.9v.9h-.9zM932.68 120.6h.9v.9h-.9zM932.68 114h.9v.9h-.9zM938.34 109.2h.9v.9h-.9zM938.34 120.6h.9v.9h-.9zM938.34 114h.9v.9h-.9zM943.99 109.2h.9v.9h-.9zM943.99 120.6h.9v.9h-.9zM943.99 114h.9v.9h-.9zM949.65 109.2h.9v.9h-.9zM949.65 120.6h.9v.9h-.9zM949.65 114h.9v.9h-.9zM955.31 109.2h.9v.9h-.9zM955.31 120.6h.9v.9h-.9zM955.31 114h.9v.9h-.9zM960.97 109.2h.9v.9h-.9zM960.97 120.6h.9v.9h-.9zM960.97 114h.9v.9h-.9zM966.62 109.2h.9v.9h-.9zM966.62 120.6h.9v.9h-.9zM966.62 114h.9v.9h-.9zM972.28 109.2h.9v.9h-.9zM972.28 120.6h.9v.9h-.9zM972.28 114h.9v.9h-.9zM977.94 109.2h.9v.9h-.9zM977.94 120.6h.9v.9h-.9zM977.94 114h.9v.9h-.9zM983.59 109.2h.9v.9h-.9zM983.59 120.6h.9v.9h-.9zM983.59 114h.9v.9h-.9zM989.25 109.2h.9v.9h-.9zM989.25 120.6h.9v.9h-.9zM989.25 114h.9v.9h-.9zM994.91 109.2h.9v.9h-.9zM994.91 120.6h.9v.9h-.9zM994.91 114h.9v.9h-.9zM1000.56 109.2h.9v.9h-.9zM1000.56 120.6h.9v.9h-.9zM1000.56 114h.9v.9h-.9zM1006.22 109.2h.9v.9h-.9zM1006.22 120.6h.9v.9h-.9zM1006.22 114h.9v.9h-.9zM1011.88 109.2h.9v.9h-.9zM1011.88 120.6h.9v.9h-.9zM1011.88 114h.9v.9h-.9zM1017.54 109.2h.9v.9h-.9zM1017.54 120.6h.9v.9h-.9zM1017.54 114h.9v.9h-.9zM1023.19 109.2h.9v.9h-.9zM1023.19 120.6h.9v.9h-.9zM1023.19 114h.9v.9h-.9zM1028.85 109.2h.9v.9h-.9zM1028.85 120.6h.9v.9h-.9zM1028.85 114h.9v.9h-.9zM1034.51 109.2h.9v.9h-.9zM1034.51 120.6h.9v.9h-.9zM1034.51 114h.9v.9h-.9zM1040.16 109.2h.9v.9h-.9zM1040.16 120.6h.9v.9h-.9zM1040.16 114h.9v.9h-.9zM1045.82 109.2h.9v.9h-.9zM1045.82 120.6h.9v.9h-.9zM1045.82 114h.9v.9h-.9zM1051.48 109.2h.9v.9h-.9zM1051.48 120.6h.9v.9h-.9zM1051.48 114h.9v.9h-.9zM1057.13 109.2h.9v.9h-.9zM1057.13 120.6h.9v.9h-.9zM1057.13 114h.9v.9h-.9zM1062.79 109.2h.9v.9h-.9zM1062.79 120.6h.9v.9h-.9zM1062.79 114h.9v.9h-.9zM1068.45 109.2h.9v.9h-.9zM1068.45 120.6h.9v.9h-.9zM1068.45 114h.9v.9h-.9zM1074.11 109.2h.9v.9h-.9zM1074.11 120.6h.9v.9h-.9zM1074.11 114h.9v.9h-.9zM1079.76 109.2h.9v.9h-.9zM1079.76 120.6h.9v.9h-.9zM1079.76 114h.9v.9h-.9zM1085.42 109.2h.9v.9h-.9zM1085.42 120.6h.9v.9h-.9zM1085.42 114h.9v.9h-.9zM1091.08 109.2h.9v.9h-.9zM1091.08 120.6h.9v.9h-.9zM1091.08 114h.9v.9h-.9zM1096.73 109.2h.9v.9h-.9zM1096.73 120.6h.9v.9h-.9zM1096.73 114h.9v.9h-.9zM1102.39 109.2h.9v.9h-.9zM1102.39 120.6h.9v.9h-.9zM1102.39 114h.9v.9h-.9zM1108.05 109.2h.9v.9h-.9zM1108.05 120.6h.9v.9h-.9zM1108.05 114h.9v.9h-.9zM1113.7 109.2h.9v.9h-.9zM1113.7 120.6h.9v.9h-.9zM1113.7 114h.9v.9h-.9zM1119.36 109.2h.9v.9h-.9zM1119.36 120.6h.9v.9h-.9zM1119.36 114h.9v.9h-.9zM1125.02 109.2h.9v.9h-.9zM1125.02 120.6h.9v.9h-.9zM1130.68 109.2h.9v.9h-.9zM1130.68 120.6h.9v.9h-.9zM1136.33 109.2h.9v.9h-.9zM1136.33 120.6h.9v.9h-.9zM1141.99 109.2h.9v.9h-.9zM1141.99 120.6h.9v.9h-.9zM1147.65 109.2h.9v.9h-.9zM1147.65 120.6h.9v.9h-.9zM1153.3 109.2h.9v.9h-.9zM1153.3 120.6h.9v.9h-.9zM1158.96 109.2h.9v.9h-.9zM1158.96 120.6h.9v.9h-.9zM1164.62 109.2h.9v.9h-.9zM1164.62 120.6h.9v.9h-.9zM1170.27 109.2h.9v.9h-.9zM1170.27 120.6h.9v.9h-.9zM1175.93 109.2h.9v.9h-.9zM1175.93 120.6h.9v.9h-.9zM1181.59 109.2h.9v.9h-.9zM1181.59 120.6h.9v.9h-.9zM1187.25 109.2h.9v.9h-.9zM1187.25 120.6h.9v.9h-.9zM1192.9 109.2h.9v.9h-.9zM1192.9 120.6h.9v.9h-.9zM1198.56 109.2h.9v.9h-.9zM1198.56 120.6h.9v.9h-.9zM1204.22 109.2h.9v.9h-.9zM1204.22 120.6h.9v.9h-.9zM1209.87 109.2h.9v.9h-.9zM1209.87 120.6h.9v.9h-.9zM1215.53 109.2h.9v.9h-.9zM1215.53 120.6h.9v.9h-.9zM1221.19 109.2h.9v.9h-.9zM1221.19 120.6h.9v.9h-.9zM1226.84 109.2h.9v.9h-.9zM1226.84 120.6h.9v.9h-.9zM1232.5 109.2h.9v.9h-.9zM1232.5 120.6h.9v.9h-.9zM1238.16 109.2h.9v.9h-.9zM1238.16 120.6h.9v.9h-.9zM1243.82 109.2h.9v.9h-.9zM1243.82 120.6h.9v.9h-.9zM1249.47 109.2h.9v.9h-.9zM1249.47 120.6h.9v.9h-.9z" fill="#d8d8d8"/>
<path d="M726.65 104.55L727.41 106.35L729.36 106.52L727.89 107.8L728.33 109.71L726.65 108.7L724.97 109.71L725.41 107.8L723.94 106.52L725.89 106.35zM726.65 116.15L727.41 117.95L729.36 118.12L727.89 119.4L728.33 121.31L726.65 120.3L724.97 121.31L725.41 119.4L723.94 118.12L725.89 117.95zM726.65 110.65L727.41 112.45L729.36 112.62L727.89 113.9L728.33 115.81L726.65 114.8L724.97 115.81L725.41 113.9L723.94 112.62L725.89 112.45zM732.31 104.55L733.07 106.35L735.02 106.52L733.54 107.8L733.98 109.71L732.31 108.7L730.63 109.71L731.07 107.8L729.6 106.52L731.54 106.35zM732.31 116.15L733.07 117.95L735.02 118.12L733.54 119.4L733.98 121.31L732.31 120.3L730.63 121.31L731.07 119.4L729.6 118.12L731.54 117.95zM732.31 110.65L733.07 112.45L735.02 112.62L733.54 113.9L733.98 115.81L732.31 114.8L730.63 115.81L731.07 113.9L729.6 112.62L731.54 112.45zM737.96 104.55L738.73 106.35L740.67 106.52L739.2 107.8L739.64 109.71L737.96 108.7L736.29 109.71L736.73 107.8L735.25 106.52L737.2 106.35zM737.96 116.15L738.73 117.95L740.67 118.12L739.2 119.4L739.64 121.31L737.96 120.3L736.29 121.31L736.73 119.4L735.25 118.12L737.2 117.95zM737.96 110.65L738.73 112.45L740.67 112.62L739.2 113.9L739.64 115.81L737.96 114.8L736.29 115.81L736.73 113.9L735.25 112.62L737.2 112.45zM743.62 104.55L744.39 106.35L746.33 106.52L744.86 107.8L745.3 109.71L743.62 108.7L741.95 109.71L742.38 107.8L740.91 106.52L742.86 106.35zM743.62 116.15L744.39 117.95L746.33 118.12L744.86 119.4L745.3 121.31L743.62 120.3L741.95 121.31L742.38 119.4L740.91 118.12L742.86 117.95zM743.62 110.65L744.39 112.45L746.33 112.62L744.86 113.9L745.3 115.81L743.62 114.8L741.95 115.81L742.38 113.9L740.91 112.62L742.86 112.45zM749.28 104.55L750.04 106.35L751.99 106.52L750.51 107.8L750.95 109.71L749.28 108.7L747.6 109.71L748.04 107.8L746.57 106.52L748.51 106.35zM749.28 116.15L750.04 117.95L751.99 118.12L750.51 119.4L750.95 121.31L749.28 120.3L747.6 121.31L748.04 119.4L746.57 118.12L748.51 117.95zM749.28 110.65L750.04 112.45L751.99 112.62L750.51 113.9L750.95 115.81L749.28 114.8L747.6 115.81L748.04 113.9L746.57 112.62L748.51 112.45zM754.93 104.55L755.7 106.35L757.65 106.52L756.17 107.8L756.61 109.71L754.93 108.7L753.26 109.71L753.7 107.8L752.22 106.52L754.17 106.35zM754.93 116.15L755.7 117.95L757.65 118.12L756.17 119.4L756.61 121.31L754.93 120.3L753.26 121.31L753.7 119.4L752.22 118.12L754.17 117.95zM754.93 110.65L755.7 112.45L757.65 112.62L756.17 113.9L756.61 115.81L754.93 114.8L753.26 115.81L753.7 113.9L752.22 112.62L754.17 112.45zM760.59 104.55L761.36 106.35L763.3 106.52L761.83 107.8L762.27 109.71L760.59 108.7L758.92 109.71L759.36 107.8L757.88 106.52L759.83 106.35zM760.59 116.15L761.36 117.95L763.3 118.12L761.83 119.4L762.27 121.31L760.59 120.3L758.92 121.31L759.36 119.4L757.88 118.12L759.83 117.95zM760.59 110.65L761.36 112.45L763.3 112.62L761.83 113.9L762.27 115.81L760.59 114.8L758.92 115.81L759.36 113.9L757.88 112.62L759.83 112.45zM766.25 104.55L767.01 106.35L768.96 106.52L767.49 107.8L767.92 109.71L766.25 108.7L764.57 109.71L765.01 107.8L763.54 106.52L765.48 106.35zM766.25 116.15L767.01 117.95L768.96 118.12L767.49 119.4L767.92 121.31L766.25 120.3L764.57 121.31L765.01 119.4L763.54 118.12L765.48 117.95zM771.91 104.55L772.67 106.35L774.62 106.52L773.14 107.8L773.58 109.71L771.91 108.7L770.23 109.71L770.67 107.8L769.2 106.52L771.14 106.35zM771.91 116.15L772.67 117.95L774.62 118.12L773.14 119.4L773.58 121.31L771.91 120.3L770.23 121.31L770.67 119.4L769.2 118.12L771.14 117.95zM777.56 104.55L778.33 106.35L780.27 106.52L778.8 107.8L779.24 109.71L777.56 108.7L775.89 109.71L776.33 107.8L774.85 106.52L776.8 106.35zM777.56 116.15L778.33 117.95L780.27 118.12L778.8 119.4L779.24 121.31L777.56 120.3L775.89 121.31L776.33 119.4L774.85 118.12L776.8 117.95zM783.22 104.55L783.98 106.35L785.93 106.52L784.46 107.8L784.9 109.71L783.22 108.7L781.54 109.71L781.98 107.8L780.51 106.52L782.46 106.35zM783.22 116.15L783.98 117.95L785.93 118.12L784.46 119.4L784.9 121.31L783.22 120.3L781.54 121.31L781.98 119.4L780.51 118.12L782.46 117.95zM788.88 104.55L789.64 106.35L791.59 106.52L790.11 107.8L790.55 109.71L788.88 108.7L787.2 109.71L787.64 107.8L786.17 106.52L788.11 106.35zM788.88 116.15L789.64 117.95L791.59 118.12L790.11 119.4L790.55 121.31L788.88 120.3L787.2 121.31L787.64 119.4L786.17 118.12L788.11 117.95zM788.88 110.65L789.64 112.45L791.59 112.62L790.11 113.9L790.55 115.81L788.88 114.8L787.2 115.81L787.64 113.9L786.17 112.62L788.11 112.45zM794.53 104.55L795.3 106.35L797.24 106.52L795.77 107.8L796.21 109.71L794.53 108.7L792.86 109.71L793.3 107.8L791.82 106.52L793.77 106.35zM794.53 116.15L795.3 117.95L797.24 118.12L795.77 119.4L796.21 121.31L794.53 120.3L792.86 121.31L793.3 119.4L791.82 118.12L793.77 117.95zM794.53 110.65L795.3 112.45L797.24 112.62L795.77 113.9L796.21 115.81L794.53 114.8L792.86 115.81L793.3 113.9L791.82 112.62L793.77 112.45zM800.19 104.55L800.96 106.35L802.9 106.52L801.43 107.8L801.87 109.71L800.19 108.7L798.52 109.71L798.95 107.8L797.48 106.52L799.43 106.35zM800.19 116.15L800.96 117.95L802.9 118.12L801.43 119.4L801.87 121.31L800.19 120.3L798.52 121.31L798.95 119.4L797.48 118.12L799.43 117.95zM800.19 109.35L800.96 111.15L802.9 111.32L801.43 112.6L801.87 114.51L800.19 113.5L798.52 114.51L798.95 112.6L797.48 111.32L799.43 111.15zM805.85 104.55L806.61 106.35L808.56 106.52L807.08 107.8L807.52 109.71L805.85 108.7L804.17 109.71L804.61 107.8L803.14 106.52L805.08 106.35zM805.85 116.15L806.61 117.95L808.56 118.12L807.08 119.4L807.52 121.31L805.85 120.3L804.17 121.31L804.61 119.4L803.14 118.12L805.08 117.95zM805.85 109.35L806.61 111.15L808.56 111.32L807.08 112.6L807.52 114.51L805.85 113.5L804.17 114.51L804.61 112.6L803.14 111.32L805.08 111.15zM811.5 104.55L812.27 106.35L814.22 106.52L812.74 107.8L813.18 109.71L811.5 108.7L809.83 109.71L810.27 107.8L808.79 106.52L810.74 106.35zM811.5 116.15L812.27 117.95L814.22 118.12L812.74 119.4L813.18 121.31L811.5 120.3L809.83 121.31L810.27 119.4L808.79 118.12L810.74 117.95zM811.5 109.35L812.27 111.15L814.22 111.32L812.74 112.6L813.18 114.51L811.5 113.5L809.83 114.51L810.27 112.6L808.79 111.32L810.74 111.15zM817.16 104.55L817.93 106.35L819.87 106.52L818.4 107.8L818.84 109.71L817.16 108.7L815.49 109.71L815.93 107.8L814.45 106.52L816.4 106.35zM817.16 116.15L817.93 117.95L819.87 118.12L818.4 119.4L818.84 121.31L817.16 120.3L815.49 121.31L815.93 119.4L814.45 118.12L816.4 117.95zM817.16 109.35L817.93 111.15L819.87 111.32L818.4 112.6L818.84 114.51L817.16 113.5L815.49 114.51L815.93 112.6L814.45 111.32L816.4 111.15zM822.82 104.55L823.58 106.35L825.53 106.52L824.06 107.8L824.49 109.71L822.82 108.7L821.14 109.71L821.58 107.8L820.11 106.52L822.05 106.35zM822.82 116.15L823.58 117.95L825.53 118.12L824.06 119.4L824.49 121.31L822.82 120.3L821.14 121.31L821.58 119.4L820.11 118.12L822.05 117.95zM822.82 109.35L823.58 111.15L825.53 111.32L824.06 112.6L824.49 114.51L822.82 113.5L821.14 114.51L821.58 112.6L820.11 111.32L822.05 111.15zM828.48 104.55L829.24 106.35L831.19 106.52L829.71 107.8L830.15 109.71L828.48 108.7L826.8 109.71L827.24 107.8L825.77 106.52L827.71 106.35zM828.48 116.15L829.24 117.95L831.19 118.12L829.71 119.4L830.15 121.31L828.48 120.3L826.8 121.31L827.24 119.4L825.77 118.12L827.71 117.95zM828.48 109.35L829.24 111.15L831.19 111.32L829.71 112.6L830.15 114.51L828.48 113.5L826.8 114.51L827.24 112.6L825.77 111.32L827.71 111.15zM834.13 104.55L834.9 106.35L836.84 106.52L835.37 107.8L835.81 109.71L834.13 108.7L832.46 109.71L832.9 107.8L831.42 106.52L833.37 106.35zM834.13 116.15L834.9 117.95L836.84 118.12L835.37 119.4L835.81 121.31L834.13 120.3L832.46 121.31L832.9 119.4L831.42 118.12L833.37 117.95zM834.13 109.35L834.9 111.15L836.84 111.32L835.37 112.6L835.81 114.51L834.13 113.5L832.46 114.51L832.9 112.6L831.42 111.32L833.37 111.15zM839.79 104.55L840.55 106.35L842.5 106.52L841.03 107.8L841.47 109.71L839.79 108.7L838.11 109.71L838.55 107.8L837.08 106.52L839.03 106.35zM839.79 116.15L840.55 117.95L842.5 118.12L841.03 119.4L841.47 121.31L839.79 120.3L838.11 121.31L838.55 119.4L837.08 118.12L839.03 117.95zM839.79 109.35L840.55 111.15L842.5 111.32L841.03 112.6L841.47 114.51L839.79 113.5L838.11 114.51L838.55 112.6L837.08 111.32L839.03 111.15zM845.45 104.55L846.21 106.35L848.16 106.52L846.68 107.8L847.12 109.71L845.45 108.7L843.77 109.71L844.21 107.8L842.74 106.52L844.68 106.35zM845.45 116.15L846.21 117.95L848.16 118.12L846.68 119.4L847.12 121.31L845.45 120.3L843.77 121.31L844.21 119.4L842.74 118.12L844.68 117.95zM845.45 109.35L846.21 111.15L848.16 111.32L846.68 112.6L847.12 114.51L845.45 113.5L843.77 114.51L844.21 112.6L842.74 111.32L844.68 111.15zM851.1 104.55L851.87 106.35L853.81 106.52L852.34 107.8L852.78 109.71L851.1 108.7L849.43 109.71L849.87 107.8L848.39 106.52L850.34 106.35zM851.1 116.15L851.87 117.95L853.81 118.12L852.34 119.4L852.78 121.31L851.1 120.3L849.43 121.31L849.87 119.4L848.39 118.12L850.34 117.95zM851.1 109.35L851.87 111.15L853.81 111.32L852.34 112.6L852.78 114.51L851.1 113.5L849.43 114.51L849.87 112.6L848.39 111.32L850.34 111.15zM856.76 104.55L857.53 106.35L859.47 106.52L858 107.8L858.44 109.71L856.76 108.7L855.09 109.71L855.52 107.8L854.05 106.52L856 106.35zM856.76 116.15L857.53 117.95L859.47 118.12L858 119.4L858.44 121.31L856.76 120.3L855.09 121.31L855.52 119.4L854.05 118.12L856 117.95zM856.76 109.35L857.53 111.15L859.47 111.32L858 112.6L858.44 114.51L856.76 113.5L855.09 114.51L855.52 112.6L854.05 111.32L856 111.15zM862.42 104.55L863.18 106.35L865.13 106.52L863.65 107.8L864.09 109.71L862.42 108.7L860.74 109.71L861.18 107.8L859.71 106.52L861.65 106.35zM862.42 116.15L863.18 117.95L865.13 118.12L863.65 119.4L864.09 121.31L862.42 120.3L860.74 121.31L861.18 119.4L859.71 118.12L861.65 117.95zM862.42 109.35L863.18 111.15L865.13 111.32L863.65 112.6L864.09 114.51L862.42 113.5L860.74 114.51L861.18 112.6L859.71 111.32L861.65 111.15zM868.08 104.55L868.84 106.35L870.79 106.52L869.31 107.8L869.75 109.71L868.08 108.7L866.4 109.71L866.84 107.8L865.36 106.52L867.31 106.35zM868.08 116.15L868.84 117.95L870.79 118.12L869.31 119.4L869.75 121.31L868.08 120.3L866.4 121.31L866.84 119.4L865.36 118.12L867.31 117.95zM868.08 109.35L868.84 111.15L870.79 111.32L869.31 112.6L869.75 114.51L868.08 113.5L866.4 114.51L866.84 112.6L865.36 111.32L867.31 111.15zM873.73 104.55L874.5 106.35L876.44 106.52L874.97 107.8L875.41 109.71L873.73 108.7L872.06 109.71L872.5 107.8L871.02 106.52L872.97 106.35zM873.73 116.15L874.5 117.95L876.44 118.12L874.97 119.4L875.41 121.31L873.73 120.3L872.06 121.31L872.5 119.4L871.02 118.12L872.97 117.95zM873.73 109.35L874.5 111.15L876.44 111.32L874.97 112.6L875.41 114.51L873.73 113.5L872.06 114.51L872.5 112.6L871.02 111.32L872.97 111.15zM879.39 104.55L880.15 106.35L882.1 106.52L880.63 107.8L881.06 109.71L879.39 108.7L877.71 109.71L878.15 107.8L876.68 106.52L878.62 106.35zM879.39 116.15L880.15 117.95L882.1 118.12L880.63 119.4L881.06 121.31L879.39 120.3L877.71 121.31L878.15 119.4L876.68 118.12L878.62 117.95zM879.39 109.35L880.15 111.15L882.1 111.32L880.63 112.6L881.06 114.51L879.39 113.5L877.71 114.51L878.15 112.6L876.68 111.32L878.62 111.15zM885.05 104.55L885.81 106.35L887.76 106.52L886.28 107.8L886.72 109.71L885.05 108.7L883.37 109.71L883.81 107.8L882.34 106.52L884.28 106.35zM885.05 116.15L885.81 117.95L887.76 118.12L886.28 119.4L886.72 121.31L885.05 120.3L883.37 121.31L883.81 119.4L882.34 118.12L884.28 117.95zM885.05 109.35L885.81 111.15L887.76 111.32L886.28 112.6L886.72 114.51L885.05 113.5L883.37 114.51L883.81 112.6L882.34 111.32L884.28 111.15zM890.7 104.55L891.47 106.35L893.41 106.52L891.94 107.8L892.38 109.71L890.7 108.7L889.03 109.71L889.47 107.8L887.99 106.52L889.94 106.35zM890.7 116.15L891.47 117.95L893.41 118.12L891.94 119.4L892.38 121.31L890.7 120.3L889.03 121.31L889.47 119.4L887.99 118.12L889.94 117.95zM890.7 109.35L891.47 111.15L893.41 111.32L891.94 112.6L892.38 114.51L890.7 113.5L889.03 114.51L889.47 112.6L887.99 111.32L889.94 111.15zM896.36 104.55L897.12 106.35L899.07 106.52L897.6 107.8L898.04 109.71L896.36 108.7L894.68 109.71L895.12 107.8L893.65 106.52L895.6 106.35zM896.36 116.15L897.12 117.95L899.07 118.12L897.6 119.4L898.04 121.31L896.36 120.3L894.68 121.31L895.12 119.4L893.65 118.12L895.6 117.95zM896.36 109.35L897.12 111.15L899.07 111.32L897.6 112.6L898.04 114.51L896.36 113.5L894.68 114.51L895.12 112.6L893.65 111.32L895.6 111.15zM902.02 104.55L902.78 106.35L904.73 106.52L903.25 107.8L903.69 109.71L902.02 108.7L900.34 109.71L900.78 107.8L899.31 106.52L901.25 106.35zM902.02 116.15L902.78 117.95L904.73 118.12L903.25 119.4L903.69 121.31L902.02 120.3L900.34 121.31L900.78 119.4L899.31 118.12L901.25 117.95zM902.02 109.35L902.78 111.15L904.73 111.32L903.25 112.6L903.69 114.51L902.02 113.5L900.34 114.51L900.78 112.6L899.31 111.32L901.25 111.15zM907.67 104.55L908.44 106.35L910.38 106.52L908.91 107.8L909.35 109.71L907.67 108.7L906 109.71L906.44 107.8L904.96 106.52L906.91 106.35zM907.67 116.15L908.44 117.95L910.38 118.12L908.91 119.4L909.35 121.31L907.67 120.3L906 121.31L906.44 119.4L904.96 118.12L906.91 117.95zM907.67 109.35L908.44 111.15L910.38 111.32L908.91 112.6L909.35 114.51L907.67 113.5L906 114.51L906.44 112.6L904.96 111.32L906.91 111.15zM913.33 104.55L914.1 106.35L916.04 106.52L914.57 107.8L915.01 109.71L913.33 108.7L911.66 109.71L912.09 107.8L910.62 106.52L912.57 106.35zM913.33 116.15L914.1 117.95L916.04 118.12L914.57 119.4L915.01 121.31L913.33 120.3L911.66 121.31L912.09 119.4L910.62 118.12L912.57 117.95zM913.33 109.35L914.1 111.15L916.04 111.32L914.57 112.6L915.01 114.51L913.33 113.5L911.66 114.51L912.09 112.6L910.62 111.32L912.57 111.15zM918.99 104.55L919.75 106.35L921.7 106.52L920.22 107.8L920.66 109.71L918.99 108.7L917.31 109.71L917.75 107.8L916.28 106.52L918.22 106.35zM918.99 116.15L919.75 117.95L921.7 118.12L920.22 119.4L920.66 121.31L918.99 120.3L917.31 121.31L917.75 119.4L916.28 118.12L918.22 117.95zM918.99 109.35L919.75 111.15L921.7 111.32L920.22 112.6L920.66 114.51L918.99 113.5L917.31 114.51L917.75 112.6L916.28 111.32L918.22 111.15zM924.64 104.55L925.41 106.35L927.36 106.52L925.88 107.8L926.32 109.71L924.64 108.7L922.97 109.71L923.41 107.8L921.93 106.52L923.88 106.35zM924.64 116.15L925.41 117.95L927.36 118.12L925.88 119.4L926.32 121.31L924.64 120.3L922.97 121.31L923.41 119.4L921.93 118.12L923.88 117.95zM924.64 109.35L925.41 111.15L927.36 111.32L925.88 112.6L926.32 114.51L924.64 113.5L922.97 114.51L923.41 112.6L921.93 111.32L923.88 111.15zM930.3 104.55L931.07 106.35L933.01 106.52L931.54 107.8L931.98 109.71L930.3 108.7L928.63 109.71L929.07 107.8L927.59 106.52L929.54 106.35zM930.3 116.15L931.07 117.95L933.01 118.12L931.54 119.4L931.98 121.31L930.3 120.3L928.63 121.31L929.07 119.4L927.59 118.12L929.54 117.95zM930.3 109.35L931.07 111.15L933.01 111.32L931.54 112.6L931.98 114.51L930.3 113.5L928.63 114.51L929.07 112.6L927.59 111.32L929.54 111.15zM935.96 104.55L936.72 106.35L938.67 106.52L937.2 107.8L937.63 109.71L935.96 108.7L934.28 109.71L934.72 107.8L933.25 106.52L935.19 106.35zM935.96 116.15L936.72 117.95L938.67 118.12L937.2 119.4L937.63 121.31L935.96 120.3L934.28 121.31L934.72 119.4L933.25 118.12L935.19 117.95zM935.96 109.35L936.72 111.15L938.67 111.32L937.2 112.6L937.63 114.51L935.96 113.5L934.28 114.51L934.72 112.6L933.25 111.32L935.19 111.15zM941.62 104.55L942.38 106.35L944.33 106.52L942.85 107.8L943.29 109.71L941.62 108.7L939.94 109.71L940.38 107.8L938.91 106.52L940.85 106.35zM941.62 116.15L942.38 117.95L944.33 118.12L942.85 119.4L943.29 121.31L941.62 120.3L939.94 121.31L940.38 119.4L938.91 118.12L940.85 117.95zM941.62 109.35L942.38 111.15L944.33 111.32L942.85 112.6L943.29 114.51L941.62 113.5L939.94 114.51L940.38 112.6L938.91 111.32L940.85 111.15zM947.27 104.55L948.04 106.35L949.98 106.52L948.51 107.8L948.95 109.71L947.27 108.7L945.6 109.71L946.04 107.8L944.56 106.52L946.51 106.35zM947.27 116.15L948.04 117.95L949.98 118.12L948.51 119.4L948.95 121.31L947.27 120.3L945.6 121.31L946.04 119.4L944.56 118.12L946.51 117.95zM947.27 109.35L948.04 111.15L949.98 111.32L948.51 112.6L948.95 114.51L947.27 113.5L945.6 114.51L946.04 112.6L944.56 111.32L946.51 111.15zM952.93 104.55L953.69 106.35L955.64 106.52L954.17 107.8L954.61 109.71L952.93 108.7L951.25 109.71L951.69 107.8L950.22 106.52L952.17 106.35zM952.93 116.15L953.69 117.95L955.64 118.12L954.17 119.4L954.61 121.31L952.93 120.3L951.25 121.31L951.69 119.4L950.22 118.12L952.17 117.95zM952.93 109.35L953.69 111.15L955.64 111.32L954.17 112.6L954.61 114.51L952.93 113.5L951.25 114.51L951.69 112.6L950.22 111.32L952.17 111.15zM958.59 104.55L959.35 106.35L961.3 106.52L959.82 107.8L960.26 109.71L958.59 108.7L956.91 109.71L957.35 107.8L955.88 106.52L957.82 106.35zM958.59 116.15L959.35 117.95L961.3 118.12L959.82 119.4L960.26 121.31L958.59 120.3L956.91 121.31L957.35 119.4L955.88 118.12L957.82 117.95zM958.59 109.35L959.35 111.15L961.3 111.32L959.82 112.6L960.26 114.51L958.59 113.5L956.91 114.51L957.35 112.6L955.88 111.32L957.82 111.15zM964.24 104.55L965.01 106.35L966.95 106.52L965.48 107.8L965.92 109.71L964.24 108.7L962.57 109.71L963.01 107.8L961.53 106.52L963.48 106.35zM964.24 116.15L965.01 117.95L966.95 118.12L965.48 119.4L965.92 121.31L964.24 120.3L962.57 121.31L963.01 119.4L961.53 118.12L963.48 117.95zM964.24 109.35L965.01 111.15L966.95 111.32L965.48 112.6L965.92 114.51L964.24 113.5L962.57 114.51L963.01 112.6L961.53 111.32L963.48 111.15zM969.9 104.55L970.67 106.35L972.61 106.52L971.14 107.8L971.58 109.71L969.9 108.7L968.23 109.71L968.66 107.8L967.19 106.52L969.14 106.35zM969.9 116.15L970.67 117.95L972.61 118.12L971.14 119.4L971.58 121.31L969.9 120.3L968.23 121.31L968.66 119.4L967.19 118.12L969.14 117.95zM969.9 109.35L970.67 111.15L972.61 111.32L971.14 112.6L971.58 114.51L969.9 113.5L968.23 114.51L968.66 112.6L967.19 111.32L969.14 111.15zM975.56 104.55L976.32 106.35L978.27 106.52L976.79 107.8L977.23 109.71L975.56 108.7L973.88 109.71L974.32 107.8L972.85 106.52L974.79 106.35zM975.56 116.15L976.32 117.95L978.27 118.12L976.79 119.4L977.23 121.31L975.56 120.3L973.88 121.31L974.32 119.4L972.85 118.12L974.79 117.95zM975.56 109.35L976.32 111.15L978.27 111.32L976.79 112.6L977.23 114.51L975.56 113.5L973.88 114.51L974.32 112.6L972.85 111.32L974.79 111.15zM981.21 104.55L981.98 106.35L983.93 106.52L982.45 107.8L982.89 109.71L981.21 108.7L979.54 109.71L979.98 107.8L978.5 106.52L980.45 106.35zM981.21 116.15L981.98 117.95L983.93 118.12L982.45 119.4L982.89 121.31L981.21 120.3L979.54 121.31L979.98 119.4L978.5 118.12L980.45 117.95zM981.21 109.35L981.98 111.15L983.93 111.32L982.45 112.6L982.89 114.51L981.21 113.5L979.54 114.51L979.98 112.6L978.5 111.32L980.45 111.15zM986.87 104.55L987.64 106.35L989.58 106.52L988.11 107.8L988.55 109.71L986.87 108.7L985.2 109.71L985.64 107.8L984.16 106.52L986.11 106.35zM986.87 116.15L987.64 117.95L989.58 118.12L988.11 119.4L988.55 121.31L986.87 120.3L985.2 121.31L985.64 119.4L984.16 118.12L986.11 117.95zM986.87 109.35L987.64 111.15L989.58 111.32L988.11 112.6L988.55 114.51L986.87 113.5L985.2 114.51L985.64 112.6L984.16 111.32L986.11 111.15zM992.53 104.55L993.29 106.35L995.24 106.52L993.77 107.8L994.2 109.71L992.53 108.7L990.85 109.71L991.29 107.8L989.82 106.52L991.76 106.35zM992.53 116.15L993.29 117.95L995.24 118.12L993.77 119.4L994.2 121.31L992.53 120.3L990.85 121.31L991.29 119.4L989.82 118.12L991.76 117.95zM992.53 109.35L993.29 111.15L995.24 111.32L993.77 112.6L994.2 114.51L992.53 113.5L990.85 114.51L991.29 112.6L989.82 111.32L991.76 111.15zM998.19 104.55L998.95 106.35L1000.9 106.52L999.42 107.8L999.86 109.71L998.19 108.7L996.51 109.71L996.95 107.8L995.48 106.52L997.42 106.35zM998.19 116.15L998.95 117.95L1000.9 118.12L999.42 119.4L999.86 121.31L998.19 120.3L996.51 121.31L996.95 119.4L995.48 118.12L997.42 117.95zM998.19 109.35L998.95 111.15L1000.9 111.32L999.42 112.6L999.86 114.51L998.19 113.5L996.51 114.51L996.95 112.6L995.48 111.32L997.42 111.15zM1003.84 104.55L1004.61 106.35L1006.55 106.52L1005.08 107.8L1005.52 109.71L1003.84 108.7L1002.17 109.71L1002.61 107.8L1001.13 106.52L1003.08 106.35zM1003.84 116.15L1004.61 117.95L1006.55 118.12L1005.08 119.4L1005.52 121.31L1003.84 120.3L1002.17 121.31L1002.61 119.4L1001.13 118.12L1003.08 117.95zM1003.84 109.35L1004.61 111.15L1006.55 111.32L1005.08 112.6L1005.52 114.51L1003.84 113.5L1002.17 114.51L1002.61 112.6L1001.13 111.32L1003.08 111.15zM1009.5 104.55L1010.26 106.35L1012.21 106.52L1010.74 107.8L1011.18 109.71L1009.5 108.7L1007.82 109.71L1008.26 107.8L1006.79 106.52L1008.74 106.35zM1009.5 116.15L1010.26 117.95L1012.21 118.12L1010.74 119.4L1011.18 121.31L1009.5 120.3L1007.82 121.31L1008.26 119.4L1006.79 118.12L1008.74 117.95zM1009.5 109.35L1010.26 111.15L1012.21 111.32L1010.74 112.6L1011.18 114.51L1009.5 113.5L1007.82 114.51L1008.26 112.6L1006.79 111.32L1008.74 111.15zM1015.16 104.55L1015.92 106.35L1017.87 106.52L1016.39 107.8L1016.83 109.71L1015.16 108.7L1013.48 109.71L1013.92 107.8L1012.45 106.52L1014.39 106.35zM1015.16 116.15L1015.92 117.95L1017.87 118.12L1016.39 119.4L1016.83 121.31L1015.16 120.3L1013.48 121.31L1013.92 119.4L1012.45 118.12L1014.39 117.95zM1015.16 109.35L1015.92 111.15L1017.87 111.32L1016.39 112.6L1016.83 114.51L1015.16 113.5L1013.48 114.51L1013.92 112.6L1012.45 111.32L1014.39 111.15zM1020.81 104.55L1021.58 106.35L1023.52 106.52L1022.05 107.8L1022.49 109.71L1020.81 108.7L1019.14 109.71L1019.58 107.8L1018.1 106.52L1020.05 106.35zM1020.81 116.15L1021.58 117.95L1023.52 118.12L1022.05 119.4L1022.49 121.31L1020.81 120.3L1019.14 121.31L1019.58 119.4L1018.1 118.12L1020.05 117.95zM1020.81 109.35L1021.58 111.15L1023.52 111.32L1022.05 112.6L1022.49 114.51L1020.81 113.5L1019.14 114.51L1019.58 112.6L1018.1 111.32L1020.05 111.15zM1026.47 104.55L1027.24 106.35L1029.18 106.52L1027.71 107.8L1028.15 109.71L1026.47 108.7L1024.8 109.71L1025.23 107.8L1023.76 106.52L1025.71 106.35zM1026.47 116.15L1027.24 117.95L1029.18 118.12L1027.71 119.4L1028.15 121.31L1026.47 120.3L1024.8 121.31L1025.23 119.4L1023.76 118.12L1025.71 117.95zM1026.47 109.35L1027.24 111.15L1029.18 111.32L1027.71 112.6L1028.15 114.51L1026.47 113.5L1024.8 114.51L1025.23 112.6L1023.76 111.32L1025.71 111.15zM1032.13 104.55L1032.89 106.35L1034.84 106.52L1033.36 107.8L1033.8 109.71L1032.13 108.7L1030.45 109.71L1030.89 107.8L1029.42 106.52L1031.36 106.35zM1032.13 116.15L1032.89 117.95L1034.84 118.12L1033.36 119.4L1033.8 121.31L1032.13 120.3L1030.45 121.31L1030.89 119.4L1029.42 118.12L1031.36 117.95zM1032.13 109.35L1032.89 111.15L1034.84 111.32L1033.36 112.6L1033.8 114.51L1032.13 113.5L1030.45 114.51L1030.89 112.6L1029.42 111.32L1031.36 111.15zM1037.78 104.55L1038.55 106.35L1040.5 106.52L1039.02 107.8L1039.46 109.71L1037.78 108.7L1036.11 109.71L1036.55 107.8L1035.07 106.52L1037.02 106.35zM1037.78 116.15L1038.55 117.95L1040.5 118.12L1039.02 119.4L1039.46 121.31L1037.78 120.3L1036.11 121.31L1036.55 119.4L1035.07 118.12L1037.02 117.95zM1037.78 109.35L1038.55 111.15L1040.5 111.32L1039.02 112.6L1039.46 114.51L1037.78 113.5L1036.11 114.51L1036.55 112.6L1035.07 111.32L1037.02 111.15zM1043.44 104.55L1044.21 106.35L1046.15 106.52L1044.68 107.8L1045.12 109.71L1043.44 108.7L1041.77 109.71L1042.21 107.8L1040.73 106.52L1042.68 106.35zM1043.44 116.15L1044.21 117.95L1046.15 118.12L1044.68 119.4L1045.12 121.31L1043.44 120.3L1041.77 121.31L1042.21 119.4L1040.73 118.12L1042.68 117.95zM1043.44 109.35L1044.21 111.15L1046.15 111.32L1044.68 112.6L1045.12 114.51L1043.44 113.5L1041.77 114.51L1042.21 112.6L1040.73 111.32L1042.68 111.15zM1049.1 104.55L1049.86 106.35L1051.81 106.52L1050.34 107.8L1050.77 109.71L1049.1 108.7L1047.42 109.71L1047.86 107.8L1046.39 106.52L1048.33 106.35zM1049.1 116.15L1049.86 117.95L1051.81 118.12L1050.34 119.4L1050.77 121.31L1049.1 120.3L1047.42 121.31L1047.86 119.4L1046.39 118.12L1048.33 117.95zM1049.1 109.35L1049.86 111.15L1051.81 111.32L1050.34 112.6L1050.77 114.51L1049.1 113.5L1047.42 114.51L1047.86 112.6L1046.39 111.32L1048.33 111.15zM1054.76 104.55L1055.52 106.35L1057.47 106.52L1055.99 107.8L1056.43 109.71L1054.76 108.7L1053.08 109.71L1053.52 107.8L1052.05 106.52L1053.99 106.35zM1054.76 116.15L1055.52 117.95L1057.47 118.12L1055.99 119.4L1056.43 121.31L1054.76 120.3L1053.08 121.31L1053.52 119.4L1052.05 118.12L1053.99 117.95zM1054.76 109.35L1055.52 111.15L1057.47 111.32L1055.99 112.6L1056.43 114.51L1054.76 113.5L1053.08 114.51L1053.52 112.6L1052.05 111.32L1053.99 111.15zM1060.41 104.55L1061.18 106.35L1063.12 106.52L1061.65 107.8L1062.09 109.71L1060.41 108.7L1058.74 109.71L1059.18 107.8L1057.7 106.52L1059.65 106.35zM1060.41 116.15L1061.18 117.95L1063.12 118.12L1061.65 119.4L1062.09 121.31L1060.41 120.3L1058.74 121.31L1059.18 119.4L1057.7 118.12L1059.65 117.95zM1060.41 109.35L1061.18 111.15L1063.12 111.32L1061.65 112.6L1062.09 114.51L1060.41 113.5L1058.74 114.51L1059.18 112.6L1057.7 111.32L1059.65 111.15zM1066.07 104.55L1066.83 106.35L1068.78 106.52L1067.31 107.8L1067.75 109.71L1066.07 108.7L1064.39 109.71L1064.83 107.8L1063.36 106.52L1065.31 106.35zM1066.07 116.15L1066.83 117.95L1068.78 118.12L1067.31 119.4L1067.75 121.31L1066.07 120.3L1064.39 121.31L1064.83 119.4L1063.36 118.12L1065.31 117.95zM1066.07 109.35L1066.83 111.15L1068.78 111.32L1067.31 112.6L1067.75 114.51L1066.07 113.5L1064.39 114.51L1064.83 112.6L1063.36 111.32L1065.31 111.15zM1071.73 104.55L1072.49 106.35L1074.44 106.52L1072.96 107.8L1073.4 109.71L1071.73 108.7L1070.05 109.71L1070.49 107.8L1069.02 106.52L1070.96 106.35zM1071.73 116.15L1072.49 117.95L1074.44 118.12L1072.96 119.4L1073.4 121.31L1071.73 120.3L1070.05 121.31L1070.49 119.4L1069.02 118.12L1070.96 117.95zM1071.73 109.35L1072.49 111.15L1074.44 111.32L1072.96 112.6L1073.4 114.51L1071.73 113.5L1070.05 114.51L1070.49 112.6L1069.02 111.32L1070.96 111.15zM1077.38 104.55L1078.15 106.35L1080.09 106.52L1078.62 107.8L1079.06 109.71L1077.38 108.7L1075.71 109.71L1076.15 107.8L1074.67 106.52L1076.62 106.35zM1077.38 116.15L1078.15 117.95L1080.09 118.12L1078.62 119.4L1079.06 121.31L1077.38 120.3L1075.71 121.31L1076.15 119.4L1074.67 118.12L1076.62 117.95zM1077.38 109.35L1078.15 111.15L1080.09 111.32L1078.62 112.6L1079.06 114.51L1077.38 113.5L1075.71 114.51L1076.15 112.6L1074.67 111.32L1076.62 111.15zM1083.04 104.55L1083.81 106.35L1085.75 106.52L1084.28 107.8L1084.72 109.71L1083.04 108.7L1081.37 109.71L1081.8 107.8L1080.33 106.52L1082.28 106.35zM1083.04 116.15L1083.81 117.95L1085.75 118.12L1084.28 119.4L1084.72 121.31L1083.04 120.3L1081.37 121.31L1081.8 119.4L1080.33 118.12L1082.28 117.95zM1083.04 109.35L1083.81 111.15L1085.75 111.32L1084.28 112.6L1084.72 114.51L1083.04 113.5L1081.37 114.51L1081.8 112.6L1080.33 111.32L1082.28 111.15zM1088.7 104.55L1089.46 106.35L1091.41 106.52L1089.93 107.8L1090.37 109.71L1088.7 108.7L1087.02 109.71L1087.46 107.8L1085.99 106.52L1087.93 106.35zM1088.7 116.15L1089.46 117.95L1091.41 118.12L1089.93 119.4L1090.37 121.31L1088.7 120.3L1087.02 121.31L1087.46 119.4L1085.99 118.12L1087.93 117.95zM1088.7 109.35L1089.46 111.15L1091.41 111.32L1089.93 112.6L1090.37 114.51L1088.7 113.5L1087.02 114.51L1087.46 112.6L1085.99 111.32L1087.93 111.15zM1094.36 104.55L1095.12 106.35L1097.07 106.52L1095.59 107.8L1096.03 109.71L1094.36 108.7L1092.68 109.71L1093.12 107.8L1091.64 106.52L1093.59 106.35zM1094.36 116.15L1095.12 117.95L1097.07 118.12L1095.59 119.4L1096.03 121.31L1094.36 120.3L1092.68 121.31L1093.12 119.4L1091.64 118.12L1093.59 117.95zM1094.36 109.35L1095.12 111.15L1097.07 111.32L1095.59 112.6L1096.03 114.51L1094.36 113.5L1092.68 114.51L1093.12 112.6L1091.64 111.32L1093.59 111.15zM1100.01 104.55L1100.78 106.35L1102.72 106.52L1101.25 107.8L1101.69 109.71L1100.01 108.7L1098.34 109.71L1098.78 107.8L1097.3 106.52L1099.25 106.35zM1100.01 116.15L1100.78 117.95L1102.72 118.12L1101.25 119.4L1101.69 121.31L1100.01 120.3L1098.34 121.31L1098.78 119.4L1097.3 118.12L1099.25 117.95zM1100.01 109.35L1100.78 111.15L1102.72 111.32L1101.25 112.6L1101.69 114.51L1100.01 113.5L1098.34 114.51L1098.78 112.6L1097.3 111.32L1099.25 111.15zM1105.67 104.55L1106.43 106.35L1108.38 106.52L1106.91 107.8L1107.34 109.71L1105.67 108.7L1103.99 109.71L1104.43 107.8L1102.96 106.52L1104.9 106.35zM1105.67 116.15L1106.43 117.95L1108.38 118.12L1106.91 119.4L1107.34 121.31L1105.67 120.3L1103.99 121.31L1104.43 119.4L1102.96 118.12L1104.9 117.95zM1105.67 109.35L1106.43 111.15L1108.38 111.32L1106.91 112.6L1107.34 114.51L1105.67 113.5L1103.99 114.51L1104.43 112.6L1102.96 111.32L1104.9 111.15zM1111.33 104.55L1112.09 106.35L1114.04 106.52L1112.56 107.8L1113 109.71L1111.33 108.7L1109.65 109.71L1110.09 107.8L1108.62 106.52L1110.56 106.35zM1111.33 116.15L1112.09 117.95L1114.04 118.12L1112.56 119.4L1113 121.31L1111.33 120.3L1109.65 121.31L1110.09 119.4L1108.62 118.12L1110.56 117.95zM1111.33 109.35L1112.09 111.15L1114.04 111.32L1112.56 112.6L1113 114.51L1111.33 113.5L1109.65 114.51L1110.09 112.6L1108.62 111.32L1110.56 111.15zM1116.98 104.55L1117.75 106.35L1119.69 106.52L1118.22 107.8L1118.66 109.71L1116.98 108.7L1115.31 109.71L1115.75 107.8L1114.27 106.52L1116.22 106.35zM1116.98 116.15L1117.75 117.95L1119.69 118.12L1118.22 119.4L1118.66 121.31L1116.98 120.3L1115.31 121.31L1115.75 119.4L1114.27 118.12L1116.22 117.95zM1116.98 109.35L1117.75 111.15L1119.69 111.32L1118.22 112.6L1118.66 114.51L1116.98 113.5L1115.31 114.51L1115.75 112.6L1114.27 111.32L1116.22 111.15zM1122.64 104.55L1123.4 106.35L1125.35 106.52L1123.88 107.8L1124.32 109.71L1122.64 108.7L1120.96 109.71L1121.4 107.8L1119.93 106.52L1121.88 106.35zM1122.64 116.15L1123.4 117.95L1125.35 118.12L1123.88 119.4L1124.32 121.31L1122.64 120.3L1120.96 121.31L1121.4 119.4L1119.93 118.12L1121.88 117.95zM1122.64 109.35L1123.4 111.15L1125.35 111.32L1123.88 112.6L1124.32 114.51L1122.64 113.5L1120.96 114.51L1121.4 112.6L1119.93 111.32L1121.88 111.15zM1128.3 104.55L1129.06 106.35L1131.01 106.52L1129.53 107.8L1129.97 109.71L1128.3 108.7L1126.62 109.71L1127.06 107.8L1125.59 106.52L1127.53 106.35zM1128.3 116.15L1129.06 117.95L1131.01 118.12L1129.53 119.4L1129.97 121.31L1128.3 120.3L1126.62 121.31L1127.06 119.4L1125.59 118.12L1127.53 117.95zM1133.95 104.55L1134.72 106.35L1136.66 106.52L1135.19 107.8L1135.63 109.71L1133.95 108.7L1132.28 109.71L1132.72 107.8L1131.24 106.52L1133.19 106.35zM1133.95 116.15L1134.72 117.95L1136.66 118.12L1135.19 119.4L1135.63 121.31L1133.95 120.3L1132.28 121.31L1132.72 119.4L1131.24 118.12L1133.19 117.95zM1139.61 104.55L1140.38 106.35L1142.32 106.52L1140.85 107.8L1141.29 109.71L1139.61 108.7L1137.94 109.71L1138.37 107.8L1136.9 106.52L1138.85 106.35zM1139.61 116.15L1140.38 117.95L1142.32 118.12L1140.85 119.4L1141.29 121.31L1139.61 120.3L1137.94 121.31L1138.37 119.4L1136.9 118.12L1138.85 117.95zM1145.27 104.55L1146.03 106.35L1147.98 106.52L1146.5 107.8L1146.94 109.71L1145.27 108.7L1143.59 109.71L1144.03 107.8L1142.56 106.52L1144.5 106.35zM1145.27 116.15L1146.03 117.95L1147.98 118.12L1146.5 119.4L1146.94 121.31L1145.27 120.3L1143.59 121.31L1144.03 119.4L1142.56 118.12L1144.5 117.95zM1150.92 104.55L1151.69 106.35L1153.64 106.52L1152.16 107.8L1152.6 109.71L1150.92 108.7L1149.25 109.71L1149.69 107.8L1148.21 106.52L1150.16 106.35zM1150.92 116.15L1151.69 117.95L1153.64 118.12L1152.16 119.4L1152.6 121.31L1150.92 120.3L1149.25 121.31L1149.69 119.4L1148.21 118.12L1150.16 117.95zM1156.58 104.55L1157.35 106.35L1159.29 106.52L1157.82 107.8L1158.26 109.71L1156.58 108.7L1154.91 109.71L1155.35 107.8L1153.87 106.52L1155.82 106.35zM1156.58 116.15L1157.35 117.95L1159.29 118.12L1157.82 119.4L1158.26 121.31L1156.58 120.3L1154.91 121.31L1155.35 119.4L1153.87 118.12L1155.82 117.95zM1162.24 104.55L1163 106.35L1164.95 106.52L1163.48 107.8L1163.91 109.71L1162.24 108.7L1160.56 109.71L1161 107.8L1159.53 106.52L1161.47 106.35zM1162.24 116.15L1163 117.95L1164.95 118.12L1163.48 119.4L1163.91 121.31L1162.24 120.3L1160.56 121.31L1161 119.4L1159.53 118.12L1161.47 117.95zM1167.9 104.55L1168.66 106.35L1170.61 106.52L1169.13 107.8L1169.57 109.71L1167.9 108.7L1166.22 109.71L1166.66 107.8L1165.19 106.52L1167.13 106.35zM1167.9 116.15L1168.66 117.95L1170.61 118.12L1169.13 119.4L1169.57 121.31L1167.9 120.3L1166.22 121.31L1166.66 119.4L1165.19 118.12L1167.13 117.95zM1173.55 104.55L1174.32 106.35L1176.26 106.52L1174.79 107.8L1175.23 109.71L1173.55 108.7L1171.88 109.71L1172.32 107.8L1170.84 106.52L1172.79 106.35zM1173.55 116.15L1174.32 117.95L1176.26 118.12L1174.79 119.4L1175.23 121.31L1173.55 120.3L1171.88 121.31L1172.32 119.4L1170.84 118.12L1172.79 117.95zM1179.21 104.55L1179.97 106.35L1181.92 106.52L1180.45 107.8L1180.89 109.71L1179.21 108.7L1177.53 109.71L1177.97 107.8L1176.5 106.52L1178.45 106.35zM1179.21 116.15L1179.97 117.95L1181.92 118.12L1180.45 119.4L1180.89 121.31L1179.21 120.3L1177.53 121.31L1177.97 119.4L1176.5 118.12L1178.45 117.95zM1184.87 104.55L1185.63 106.35L1187.58 106.52L1186.1 107.8L1186.54 109.71L1184.87 108.7L1183.19 109.71L1183.63 107.8L1182.16 106.52L1184.1 106.35zM1184.87 116.15L1185.63 117.95L1187.58 118.12L1186.1 119.4L1186.54 121.31L1184.87 120.3L1183.19 121.31L1183.63 119.4L1182.16 118.12L1184.1 117.95zM1190.52 104.55L1191.29 106.35L1193.23 106.52L1191.76 107.8L1192.2 109.71L1190.52 108.7L1188.85 109.71L1189.29 107.8L1187.81 106.52L1189.76 106.35zM1190.52 116.15L1191.29 117.95L1193.23 118.12L1191.76 119.4L1192.2 121.31L1190.52 120.3L1188.85 121.31L1189.29 119.4L1187.81 118.12L1189.76 117.95zM1196.18 104.55L1196.95 106.35L1198.89 106.52L1197.42 107.8L1197.86 109.71L1196.18 108.7L1194.51 109.71L1194.94 107.8L1193.47 106.52L1195.42 106.35zM1196.18 116.15L1196.95 117.95L1198.89 118.12L1197.42 119.4L1197.86 121.31L1196.18 120.3L1194.51 121.31L1194.94 119.4L1193.47 118.12L1195.42 117.95zM1201.84 104.55L1202.6 106.35L1204.55 106.52L1203.07 107.8L1203.51 109.71L1201.84 108.7L1200.16 109.71L1200.6 107.8L1199.13 106.52L1201.07 106.35zM1201.84 116.15L1202.6 117.95L1204.55 118.12L1203.07 119.4L1203.51 121.31L1201.84 120.3L1200.16 121.31L1200.6 119.4L1199.13 118.12L1201.07 117.95zM1207.49 104.55L1208.26 106.35L1210.21 106.52L1208.73 107.8L1209.17 109.71L1207.49 108.7L1205.82 109.71L1206.26 107.8L1204.78 106.52L1206.73 106.35zM1207.49 116.15L1208.26 117.95L1210.21 118.12L1208.73 119.4L1209.17 121.31L1207.49 120.3L1205.82 121.31L1206.26 119.4L1204.78 118.12L1206.73 117.95zM1213.15 104.55L1213.92 106.35L1215.86 106.52L1214.39 107.8L1214.83 109.71L1213.15 108.7L1211.48 109.71L1211.92 107.8L1210.44 106.52L1212.39 106.35zM1213.15 116.15L1213.92 117.95L1215.86 118.12L1214.39 119.4L1214.83 121.31L1213.15 120.3L1211.48 121.31L1211.92 119.4L1210.44 118.12L1212.39 117.95zM1218.81 104.55L1219.57 106.35L1221.52 106.52L1220.05 107.8L1220.48 109.71L1218.81 108.7L1217.13 109.71L1217.57 107.8L1216.1 106.52L1218.04 106.35zM1218.81 116.15L1219.57 117.95L1221.52 118.12L1220.05 119.4L1220.48 121.31L1218.81 120.3L1217.13 121.31L1217.57 119.4L1216.1 118.12L1218.04 117.95zM1224.47 104.55L1225.23 106.35L1227.18 106.52L1225.7 107.8L1226.14 109.71L1224.47 108.7L1222.79 109.71L1223.23 107.8L1221.76 106.52L1223.7 106.35zM1224.47 116.15L1225.23 117.95L1227.18 118.12L1225.7 119.4L1226.14 121.31L1224.47 120.3L1222.79 121.31L1223.23 119.4L1221.76 118.12L1223.7 117.95zM1230.12 104.55L1230.89 106.35L1232.83 106.52L1231.36 107.8L1231.8 109.71L1230.12 108.7L1228.45 109.71L1228.89 107.8L1227.41 106.52L1229.36 106.35zM1230.12 116.15L1230.89 117.95L1232.83 118.12L1231.36 119.4L1231.8 121.31L1230.12 120.3L1228.45 121.31L1228.89 119.4L1227.41 118.12L1229.36 117.95zM1235.78 104.55L1236.54 106.35L1238.49 106.52L1237.02 107.8L1237.46 109.71L1235.78 108.7L1234.1 109.71L1234.54 107.8L1233.07 106.52L1235.02 106.35zM1235.78 116.15L1236.54 117.95L1238.49 118.12L1237.02 119.4L1237.46 121.31L1235.78 120.3L1234.1 121.31L1234.54 119.4L1233.07 118.12L1235.02 117.95zM1241.44 104.55L1242.2 106.35L1244.15 106.52L1242.67 107.8L1243.11 109.71L1241.44 108.7L1239.76 109.71L1240.2 107.8L1238.73 106.52L1240.67 106.35zM1241.44 116.15L1242.2 117.95L1244.15 118.12L1242.67 119.4L1243.11 121.31L1241.44 120.3L1239.76 121.31L1240.2 119.4L1238.73 118.12L1240.67 117.95zM1247.09 104.55L1247.86 106.35L1249.8 106.52L1248.33 107.8L1248.77 109.71L1247.09 108.7L1245.42 109.71L1245.86 107.8L1244.38 106.52L1246.33 106.35zM1247.09 116.15L1247.86 117.95L1249.8 118.12L1248.33 119.4L1248.77 121.31L1247.09 120.3L1245.42 121.31L1245.86 119.4L1244.38 118.12L1246.33 117.95zM1252.75 104.55L1253.52 106.35L1255.46 106.52L1253.99 107.8L1254.43 109.71L1252.75 108.7L1251.08 109.71L1251.51 107.8L1250.04 106.52L1251.99 106.35zM1252.75 116.15L1253.52 117.95L1255.46 118.12L1253.99 119.4L1254.43 121.31L1252.75 120.3L1251.08 121.31L1251.51 119.4L1250.04 118.12L1251.99 117.95z" fill="#ff1010"/>
<rect x="1125.4" y="111.4" width="128.3" height="5.3" fill="#dff0df"/>
<rect x="763.4" y="111.4" width="22.4" height="5.3" fill="#dff0df"/>
<path d="M764.13 116.7V111.7a2.12 1.7 0 0 1 4.24 0V116.7zM769.79 116.7V111.7a2.12 1.7 0 0 1 4.24 0V116.7zM775.44 116.7V111.7a2.12 1.7 0 0 1 4.24 0V116.7zM781.1 116.7V111.7a2.12 1.7 0 0 1 4.24 0V116.7zM1126.18 116.7V111.7a2.12 1.7 0 0 1 4.24 0V116.7zM1131.83 116.7V111.7a2.12 1.7 0 0 1 4.24 0V116.7zM1137.49 116.7V111.7a2.12 1.7 0 0 1 4.24 0V116.7zM1143.15 116.7V111.7a2.12 1.7 0 0 1 4.24 0V116.7zM1148.81 116.7V111.7a2.12 1.7 0 0 1 4.24 0V116.7zM1154.46 116.7V111.7a2.12 1.7 0 0 1 4.24 0V116.7zM1160.12 116.7V111.7a2.12 1.7 0 0 1 4.24 0V116.7zM1165.78 116.7V111.7a2.12 1.7 0 0 1 4.24 0V116.7zM1171.43 116.7V111.7a2.12 1.7 0 0 1 4.24 0V116.7zM1177.09 116.7V111.7a2.12 1.7 0 0 1 4.24 0V116.7zM1182.75 116.7V111.7a2.12 1.7 0 0 1 4.24 0V116.7zM1188.4 116.7V111.7a2.12 1.7 0 0 1 4.24 0V116.7zM1194.06 116.7V111.7a2.12 1.7 0 0 1 4.24 0V116.7zM1199.72 116.7V111.7a2.12 1.7 0 0 1 4.24 0V116.7zM1205.38 116.7V111.7a2.12 1.7 0 0 1 4.24 0V116.7zM1211.03 116.7V111.7a2.12 1.7 0 0 1 4.24 0V116.7zM1216.69 116.7V111.7a2.12 1.7 0 0 1 4.24 0V116.7zM1222.35 116.7V111.7a2.12 1.7 0 0 1 4.24 0V116.7zM1228 116.7V111.7a2.12 1.7 0 0 1 4.24 0V116.7zM1233.66 116.7V111.7a2.12 1.7 0 0 1 4.24 0V116.7zM1239.32 116.7V111.7a2.12 1.7 0 0 1 4.24 0V116.7zM1244.97 116.7V111.7a2.12 1.7 0 0 1 4.24 0V116.7zM1250.63 116.7V111.7a2.12 1.7 0 0 1 4.24 0V116.7z" fill="#008000"/>
<path d="M721.82 103.8a2 2 0 1 0 4 0a2 2 0 1 0-4 0zM727.48 103.8a2 2 0 1 0 4 0a2 2 0 1 0-4 0zM733.14 103.8a2 2 0 1 0 4 0a2 2 0 1 0-4 0zM738.79 103.8a2 2 0 1 0 4 0a2 2 0 1 0-4 0zM744.45 103.8a2 2 0 1 0 4 0a2 2 0 1 0-4 0zM750.11 103.8a2 2 0 1 0 4 0a2 2 0 1 0-4 0zM755.76 103.8a2 2 0 1 0 4 0a2 2 0 1 0-4 0zM761.42 103.8a2 2 0 1 0 4 0a2 2 0 1 0-4 0zM767.08 103.8a2 2 0 1 0 4 0a2 2 0 1 0-4 0zM772.73 103.8a2 2 0 1 0 4 0a2 2 0 1 0-4 0zM778.39 103.8a2 2 0 1 0 4 0a2 2 0 1 0-4 0zM784.05 103.8a2 2 0 1 0 4 0a2 2 0 1 0-4 0zM789.71 103.8a2 2 0 1 0 4 0a2 2 0 1 0-4 0zM795.36 103.8a2 2 0 1 0 4 0a2 2 0 1 0-4 0zM801.02 103.8a2 2 0 1 0 4 0a2 2 0 1 0-4 0zM806.68 103.8a2 2 0 1 0 4 0a2 2 0 1 0-4 0zM812.33 103.8a2 2 0 1 0 4 0a2 2 0 1 0-4 0zM817.99 103.8a2 2 0 1 0 4 0a2 2 0 1 0-4 0zM823.65 103.8a2 2 0 1 0 4 0a2 2 0 1 0-4 0zM829.3 103.8a2 2 0 1 0 4 0a2 2 0 1 0-4 0zM834.96 103.8a2 2 0 1 0 4 0a2 2 0 1 0-4 0zM840.62 103.8a2 2 0 1 0 4 0a2 2 0 1 0-4 0zM846.28 103.8a2 2 0 1 0 4 0a2 2 0 1 0-4 0zM851.93 103.8a2 2 0 1 0 4 0a2 2 0 1 0-4 0zM857.59 103.8a2 2 0 1 0 4 0a2 2 0 1 0-4 0zM863.25 103.8a2 2 0 1 0 4 0a2 2 0 1 0-4 0zM868.9 103.8a2 2 0 1 0 4 0a2 2 0 1 0-4 0zM874.56 103.8a2 2 0 1 0 4 0a2 2 0 1 0-4 0zM880.22 103.8a2 2 0 1 0 4 0a2 2 0 1 0-4 0zM885.87 103.8a2 2 0 1 0 4 0a2 2 0 1 0-4 0zM891.53 103.8a2 2 0 1 0 4 0a2 2 0 1 0-4 0zM897.19 103.8a2 2 0 1 0 4 0a2 2 0 1 0-4 0zM902.85 103.8a2 2 0 1 0 4 0a2 2 0 1 0-4 0zM908.5 103.8a2 2 0 1 0 4 0a2 2 0 1 0-4 0zM914.16 103.8a2 2 0 1 0 4 0a2 2 0 1 0-4 0zM919.82 103.8a2 2 0 1 0 4 0a2 2 0 1 0-4 0zM925.47 103.8a2 2 0 1 0 4 0a2 2 0 1 0-4 0zM931.13 103.8a2 2 0 1 0 4 0a2 2 0 1 0-4 0zM936.79 103.8a2 2 0 1 0 4 0a2 2 0 1 0-4 0zM942.44 103.8a2 2 0 1 0 4 0a2 2 0 1 0-4 0zM948.1 103.8a2 2 0 1 0 4 0a2 2 0 1 0-4 0zM953.76 103.8a2 2 0 1 0 4 0a2 2 0 1 0-4 0zM959.42 103.8a2 2 0 1 0 4 0a2 2 0 1 0-4 0zM965.07 103.8a2 2 0 1 0 4 0a2 2 0 1 0-4 0zM970.73 103.8a2 2 0 1 0 4 0a2 2 0 1 0-4 0zM976.39 103.8a2 2 0 1 0 4 0a2 2 0 1 0-4 0zM982.04 103.8a2 2 0 1 0 4 0a2 2 0 1 0-4 0zM987.7 103.8a2 2 0 1 0 4 0a2 2 0 1 0-4 0zM993.36 103.8a2 2 0 1 0 4 0a2 2 0 1 0-4 0zM999.01 103.8a2 2 0 1 0 4 0a2 2 0 1 0-4 0zM1004.67 103.8a2 2 0 1 0 4 0a2 2 0 1 0-4 0zM1010.33 103.8a2 2 0 1 0 4 0a2 2 0 1 0-4 0zM1015.99 103.8a2 2 0 1 0 4 0a2 2 0 1 0-4 0zM1021.64 103.8a2 2 0 1 0 4 0a2 2 0 1 0-4 0zM1027.3 103.8a2 2 0 1 0 4 0a2 2 0 1 0-4 0zM1032.96 103.8a2 2 0 1 0 4 0a2 2 0 1 0-4 0zM1038.61 103.8a2 2 0 1 0 4 0a2 2 0 1 0-4 0zM1044.27 103.8a2 2 0 1 0 4 0a2 2 0 1 0-4 0zM1049.93 103.8a2 2 0 1 0 4 0a2 2 0 1 0-4 0zM1055.58 103.8a2 2 0 1 0 4 0a2 2 0 1 0-4 0zM1061.24 103.8a2 2 0 1 0 4 0a2 2 0 1 0-4 0zM1066.9 103.8a2 2 0 1 0 4 0a2 2 0 1 0-4 0zM1072.56 103.8a2 2 0 1 0 4 0a2 2 0 1 0-4 0zM1078.21 103.8a2 2 0 1 0 4 0a2 2 0 1 0-4 0zM1083.87 103.8a2 2 0 1 0 4 0a2 2 0 1 0-4 0zM1089.53 103.8a2 2 0 1 0 4 0a2 2 0 1 0-4 0zM1095.18 103.8a2 2 0 1 0 4 0a2 2 0 1 0-4 0zM1100.84 103.8a2 2 0 1 0 4 0a2 2 0 1 0-4 0zM1106.5 103.8a2 2 0 1 0 4 0a2 2 0 1 0-4 0zM1112.15 103.8a2 2 0 1 0 4 0a2 2 0 1 0-4 0zM1117.81 103.8a2 2 0 1 0 4 0a2 2 0 1 0-4 0zM1123.47 103.8a2 2 0 1 0 4 0a2 2 0 1 0-4 0zM1129.13 103.8a2 2 0 1 0 4 0a2 2 0 1 0-4 0zM1134.78 103.8a2 2 0 1 0 4 0a2 2 0 1 0-4 0zM1140.44 103.8a2 2 0 1 0 4 0a2 2 0 1 0-4 0zM1146.1 103.8a2 2 0 1 0 4 0a2 2 0 1 0-4 0zM1151.75 103.8a2 2 0 1 0 4 0a2 2 0 1 0-4 0zM1157.41 103.8a2 2 0 1 0 4 0a2 2 0 1 0-4 0zM1163.07 103.8a2 2 0 1 0 4 0a2 2 0 1 0-4 0zM1168.72 103.8a2 2 0 1 0 4 0a2 2 0 1 0-4 0zM1174.38 103.8a2 2 0 1 0 4 0a2 2 0 1 0-4 0zM1180.04 103.8a2 2 0 1 0 4 0a2 2 0 1 0-4 0zM1185.7 103.8a2 2 0 1 0 4 0a2 2 0 1 0-4 0zM1191.35 103.8a2 2 0 1 0 4 0a2 2 0 1 0-4 0zM1197.01 103.8a2 2 0 1 0 4 0a2 2 0 1 0-4 0zM1202.67 103.8a2 2 0 1 0 4 0a2 2 0 1 0-4 0zM1208.32 103.8a2 2 0 1 0 4 0a2 2 0 1 0-4 0zM1213.98 103.8a2 2 0 1 0 4 0a2 2 0 1 0-4 0zM1219.64 103.8a2 2 0 1 0 4 0a2 2 0 1 0-4 0zM1225.29 103.8a2 2 0 1 0 4 0a2 2 0 1 0-4 0zM1230.95 103.8a2 2 0 1 0 4 0a2 2 0 1 0-4 0zM1236.61 103.8a2 2 0 1 0 4 0a2 2 0 1 0-4 0zM1242.27 103.8a2 2 0 1 0 4 0a2 2 0 1 0-4 0zM1247.92 103.8a2 2 0 1 0 4 0a2 2 0 1 0-4 0zM1253.58 103.8a2 2 0 1 0 4 0a2 2 0 1 0-4 0z" fill="#fff" clip-path="url(#chartclip)"/>
<path d="M754.6 58.7L755.49 61.27L758.21 61.33L756.05 62.97L756.83 65.57L754.6 64.02L752.37 65.57L753.15 62.97L750.99 61.33L753.71 61.27z" fill="#ff0a0a" stroke="#000" stroke-width="0.75" stroke-linejoin="miter"/>
<path d="M754.6 70.5L755.49 73.07L758.21 73.13L756.05 74.77L756.83 77.37L754.6 75.82L752.37 77.37L753.15 74.77L750.99 73.13L753.71 73.07z" fill="#ff0a0a" stroke="#000" stroke-width="0.75" stroke-linejoin="miter"/>
<path d="M805.3 40.3L806.19 42.87L808.91 42.93L806.75 44.57L807.53 47.17L805.3 45.62L803.07 47.17L803.85 44.57L801.69 42.93L804.41 42.87z" fill="#ff0a0a" stroke="#000" stroke-width="0.75" stroke-linejoin="miter"/>
<path d="M861.8 67.7L862.69 70.27L865.41 70.33L863.25 71.97L864.03 74.57L861.8 73.02L859.57 74.57L860.35 71.97L858.19 70.33L860.91 70.27z" fill="#ff0a0a" stroke="#000" stroke-width="0.75" stroke-linejoin="miter"/>
<path d="M899.2 48.5L900.09 51.07L902.81 51.13L900.65 52.77L901.43 55.37L899.2 53.82L896.97 55.37L897.75 52.77L895.59 51.13L898.31 51.07z" fill="#ff0a0a" stroke="#000" stroke-width="0.75" stroke-linejoin="miter"/>
<path d="M903.6 48.5L904.49 51.07L907.21 51.13L905.05 52.77L905.83 55.37L903.6 53.82L901.37 55.37L902.15 52.77L899.99 51.13L902.71 51.07z" fill="#ff0a0a" stroke="#000" stroke-width="0.75" stroke-linejoin="miter"/>
<path d="M890.4 96.8L891.29 99.37L894.01 99.43L891.85 101.07L892.63 103.67L890.4 102.12L888.17 103.67L888.95 101.07L886.79 99.43L889.51 99.37z" fill="#ff0a0a" stroke="#000" stroke-width="0.75" stroke-linejoin="miter"/>
<path d="M992.2 92.2L993.09 94.77L995.81 94.83L993.65 96.47L994.43 99.07L992.2 97.52L989.97 99.07L990.75 96.47L988.59 94.83L991.31 94.77z" fill="#ff0a0a" stroke="#000" stroke-width="0.75" stroke-linejoin="miter"/>
<path d="M1003.3 100.5L1004.19 103.07L1006.91 103.13L1004.75 104.77L1005.53 107.37L1003.3 105.82L1001.07 107.37L1001.85 104.77L999.69 103.13L1002.41 103.07z" fill="#ff0a0a" stroke="#000" stroke-width="0.75" stroke-linejoin="miter"/>
<path d="M1122.7 84.8L1123.59 87.37L1126.31 87.43L1124.15 89.07L1124.93 91.67L1122.7 90.12L1120.47 91.67L1121.25 89.07L1119.09 87.43L1121.81 87.37z" fill="#ff0a0a" stroke="#000" stroke-width="0.75" stroke-linejoin="miter"/>
<path d="M1196.3 45.8L1197.19 48.37L1199.91 48.43L1197.75 50.07L1198.53 52.67L1196.3 51.12L1194.07 52.67L1194.85 50.07L1192.69 48.43L1195.41 48.37z" fill="#ff0a0a" stroke="#000" stroke-width="0.75" stroke-linejoin="miter"/>
<path d="M1196.3 50.2L1197.19 52.77L1199.91 52.83L1197.75 54.47L1198.53 57.07L1196.3 55.52L1194.07 57.07L1194.85 54.47L1192.69 52.83L1195.41 52.77z" fill="#ff0a0a" stroke="#000" stroke-width="0.75" stroke-linejoin="miter"/>
<path d="M1196.3 54.6L1197.19 57.17L1199.91 57.23L1197.75 58.87L1198.53 61.47L1196.3 59.92L1194.07 61.47L1194.85 58.87L1192.69 57.23L1195.41 57.17z" fill="#ff0a0a" stroke="#000" stroke-width="0.75" stroke-linejoin="miter"/>
<path d="M1083 100.5L1083.89 103.07L1086.61 103.13L1084.45 104.77L1085.23 107.37L1083 105.82L1080.77 107.37L1081.55 104.77L1079.39 103.13L1082.11 103.07z" fill="#ff0a0a" stroke="#000" stroke-width="0.75" stroke-linejoin="miter"/>
<path d="M895.2 100.4L896.09 102.97L898.81 103.03L896.65 104.67L897.43 107.27L895.2 105.72L892.97 107.27L893.75 104.67L891.59 103.03L894.31 102.97z" fill="#ff0a0a" stroke="#000" stroke-width="0.75" stroke-linejoin="miter"/>
<path d="M782 99.8L782.89 102.37L785.61 102.43L783.45 104.07L784.23 106.67L782 105.12L779.77 106.67L780.55 104.07L778.39 102.43L781.11 102.37z" fill="#ff0a0a" stroke="#000" stroke-width="0.75" stroke-linejoin="miter"/>
<path d="M820 99.8L820.89 102.37L823.61 102.43L821.45 104.07L822.23 106.67L820 105.12L817.77 106.67L818.55 104.07L816.39 102.43L819.11 102.37z" fill="#ff0a0a" stroke="#000" stroke-width="0.75" stroke-linejoin="miter"/>
<rect x="898.6" y="47.6" width="4.6" height="3" fill="#111" rx="1"/>
<path d="M1196.3 116L1197.05 118.16L1199.34 118.21L1197.52 119.6L1198.18 121.79L1196.3 120.48L1194.42 121.79L1195.08 119.6L1193.26 118.21L1195.55 118.16z" fill="#c00" stroke="#000" stroke-width="0.9"/>
<path d="M889 116L889.71 118.03L891.85 118.07L890.14 119.37L890.76 121.43L889 120.2L887.24 121.43L887.86 119.37L886.15 118.07L888.29 118.03z" fill="#a00" stroke="#000" stroke-width="0.9"/>
<path d="M805.3 55.6l3.4 6h-6.8z" fill="#0a0aff"/>
<path d="M757.3 110.6l4.8 0.8 1.6 3.2-3-1.2z" fill="#0a0aff"/>
<path d="M774.4 47.4h5.8M919 57h6" fill="none" stroke="#0a860a" stroke-width="1.3"/>
<rect x="989.3" y="6.1" width="6.3" height="98.4" fill="none" stroke="#111" stroke-width="0.7"/>
<line x1="724.6" y1="5.3" x2="724.6" y2="140" stroke="#000" stroke-width="1"/>
<line x1="697.4" y1="123.5" x2="1253.7" y2="123.5" stroke="#000" stroke-width="1"/>
<line x1="697.4" y1="73.1" x2="724.6" y2="73.1" stroke="#000" stroke-width="0.9"/>
<line x1="716.9" y1="16" x2="724.2" y2="16" stroke="#858585" stroke-width="1.1"/>
<text class="b" x="716.5" y="18.3" font-size="6" fill="#1b1b9e" text-anchor="end">月</text>
<text x="710.6" y="18.3" font-family="'Liberation Serif',serif" font-size="6.8" fill="#1b1b9e" font-weight="bold" text-anchor="end" letter-spacing="-0.3">11</text>
<line x1="716.9" y1="27.6" x2="724.2" y2="27.6" stroke="#858585" stroke-width="1.1"/>
<text class="b" x="716.5" y="29.9" font-size="6" fill="#1b1b9e" text-anchor="end">月</text>
<text x="710.6" y="29.9" font-family="'Liberation Serif',serif" font-size="6.8" fill="#1b1b9e" font-weight="bold" text-anchor="end" letter-spacing="-0.3">9</text>
<line x1="716.9" y1="39.2" x2="724.2" y2="39.2" stroke="#858585" stroke-width="1.1"/>
<text class="b" x="716.5" y="41.5" font-size="6" fill="#1b1b9e" text-anchor="end">月</text>
<text x="710.6" y="41.5" font-family="'Liberation Serif',serif" font-size="6.8" fill="#1b1b9e" font-weight="bold" text-anchor="end" letter-spacing="-0.3">7</text>
<line x1="716.9" y1="50.6" x2="724.2" y2="50.6" stroke="#858585" stroke-width="1.1"/>
<text class="b" x="716.5" y="52.9" font-size="6" fill="#1b1b9e" text-anchor="end">月</text>
<text x="710.6" y="52.9" font-family="'Liberation Serif',serif" font-size="6.8" fill="#1b1b9e" font-weight="bold" text-anchor="end" letter-spacing="-0.3">5</text>
<line x1="716.9" y1="62.2" x2="724.2" y2="62.2" stroke="#858585" stroke-width="1.1"/>
<text class="b" x="716.5" y="64.5" font-size="6" fill="#1b1b9e" text-anchor="end">月</text>
<text x="710.6" y="64.5" font-family="'Liberation Serif',serif" font-size="6.8" fill="#1b1b9e" font-weight="bold" text-anchor="end" letter-spacing="-0.3">3</text>
<line x1="716.9" y1="84.9" x2="724.2" y2="84.9" stroke="#858585" stroke-width="1.1"/>
<text class="b" x="716.5" y="87.2" font-size="6" fill="#1b1b9e" text-anchor="end">月</text>
<text x="710.6" y="87.2" font-family="'Liberation Serif',serif" font-size="6.8" fill="#1b1b9e" font-weight="bold" text-anchor="end" letter-spacing="-0.3">11</text>
<line x1="716.9" y1="96.4" x2="724.2" y2="96.4" stroke="#858585" stroke-width="1.1"/>
<text class="b" x="716.5" y="98.7" font-size="6" fill="#1b1b9e" text-anchor="end">月</text>
<text x="710.6" y="98.7" font-family="'Liberation Serif',serif" font-size="6.8" fill="#1b1b9e" font-weight="bold" text-anchor="end" letter-spacing="-0.3">9</text>
<line x1="716.9" y1="107.9" x2="724.2" y2="107.9" stroke="#858585" stroke-width="1.1"/>
<text class="b" x="716.5" y="110.2" font-size="6" fill="#1b1b9e" text-anchor="end">月</text>
<text x="710.6" y="110.2" font-family="'Liberation Serif',serif" font-size="6.8" fill="#1b1b9e" font-weight="bold" text-anchor="end" letter-spacing="-0.3">7</text>
<text class="b" x="720.4" y="72.2" font-size="6" fill="#1b1b9e" text-anchor="end">年</text>
<text x="714.5" y="72.2" font-family="'Liberation Serif',serif" font-size="6.9" fill="#1b1b9e" font-weight="bold" text-anchor="end">2016</text>
<text class="b" x="720.4" y="121.6" font-size="6" fill="#1b1b9e" text-anchor="end">年</text>
<text x="714.5" y="121.6" font-family="'Liberation Serif',serif" font-size="6.9" fill="#1b1b9e" font-weight="bold" text-anchor="end">2015</text>
<text x="725.3" y="137.3" font-family="'Liberation Serif',serif" font-size="6.9" fill="#1b1b9e" font-weight="bold" textLength="3" lengthAdjust="spacingAndGlyphs">5</text>
<line x1="746.5" y1="123.5" x2="746.5" y2="129.8" stroke="#5e5e5e" stroke-width="0.9"/>
<text x="738.05" y="137.3" font-family="'Liberation Serif',serif" font-size="6.9" fill="#1b1b9e" font-weight="bold" textLength="16.9" lengthAdjust="spacingAndGlyphs">K2406</text>
<line x1="774.78" y1="123.5" x2="774.78" y2="129.8" stroke="#5e5e5e" stroke-width="0.9"/>
<text x="766.33" y="137.3" font-family="'Liberation Serif',serif" font-size="6.9" fill="#1b1b9e" font-weight="bold" textLength="16.9" lengthAdjust="spacingAndGlyphs">K2407</text>
<line x1="803.07" y1="123.5" x2="803.07" y2="129.8" stroke="#5e5e5e" stroke-width="0.9"/>
<text x="794.62" y="137.3" font-family="'Liberation Serif',serif" font-size="6.9" fill="#1b1b9e" font-weight="bold" textLength="16.9" lengthAdjust="spacingAndGlyphs">K2408</text>
<line x1="831.35" y1="123.5" x2="831.35" y2="129.8" stroke="#5e5e5e" stroke-width="0.9"/>
<text x="822.9" y="137.3" font-family="'Liberation Serif',serif" font-size="6.9" fill="#1b1b9e" font-weight="bold" textLength="16.9" lengthAdjust="spacingAndGlyphs">K2409</text>
<line x1="859.63" y1="123.5" x2="859.63" y2="129.8" stroke="#5e5e5e" stroke-width="0.9"/>
<text x="851.18" y="137.3" font-family="'Liberation Serif',serif" font-size="6.9" fill="#1b1b9e" font-weight="bold" textLength="16.9" lengthAdjust="spacingAndGlyphs">K2410</text>
<line x1="887.91" y1="123.5" x2="887.91" y2="129.8" stroke="#5e5e5e" stroke-width="0.9"/>
<text x="879.46" y="137.3" font-family="'Liberation Serif',serif" font-size="6.9" fill="#1b1b9e" font-weight="bold" textLength="16.9" lengthAdjust="spacingAndGlyphs">K2411</text>
<line x1="916.2" y1="123.5" x2="916.2" y2="129.8" stroke="#5e5e5e" stroke-width="0.9"/>
<text x="907.75" y="137.3" font-family="'Liberation Serif',serif" font-size="6.9" fill="#1b1b9e" font-weight="bold" textLength="16.9" lengthAdjust="spacingAndGlyphs">K2412</text>
<line x1="944.48" y1="123.5" x2="944.48" y2="129.8" stroke="#5e5e5e" stroke-width="0.9"/>
<text x="936.03" y="137.3" font-family="'Liberation Serif',serif" font-size="6.9" fill="#1b1b9e" font-weight="bold" textLength="16.9" lengthAdjust="spacingAndGlyphs">K2413</text>
<line x1="972.76" y1="123.5" x2="972.76" y2="129.8" stroke="#5e5e5e" stroke-width="0.9"/>
<text x="964.31" y="137.3" font-family="'Liberation Serif',serif" font-size="6.9" fill="#1b1b9e" font-weight="bold" textLength="16.9" lengthAdjust="spacingAndGlyphs">K2414</text>
<line x1="1001.05" y1="123.5" x2="1001.05" y2="129.8" stroke="#5e5e5e" stroke-width="0.9"/>
<text x="992.6" y="137.3" font-family="'Liberation Serif',serif" font-size="6.9" fill="#1b1b9e" font-weight="bold" textLength="16.9" lengthAdjust="spacingAndGlyphs">K2415</text>
<line x1="1029.33" y1="123.5" x2="1029.33" y2="129.8" stroke="#5e5e5e" stroke-width="0.9"/>
<text x="1020.88" y="137.3" font-family="'Liberation Serif',serif" font-size="6.9" fill="#1b1b9e" font-weight="bold" textLength="16.9" lengthAdjust="spacingAndGlyphs">K2416</text>
<line x1="1057.61" y1="123.5" x2="1057.61" y2="129.8" stroke="#5e5e5e" stroke-width="0.9"/>
<text x="1049.16" y="137.3" font-family="'Liberation Serif',serif" font-size="6.9" fill="#1b1b9e" font-weight="bold" textLength="16.9" lengthAdjust="spacingAndGlyphs">K2417</text>
<line x1="1085.9" y1="123.5" x2="1085.9" y2="129.8" stroke="#5e5e5e" stroke-width="0.9"/>
<text x="1077.45" y="137.3" font-family="'Liberation Serif',serif" font-size="6.9" fill="#1b1b9e" font-weight="bold" textLength="16.9" lengthAdjust="spacingAndGlyphs">K2418</text>
<line x1="1114.18" y1="123.5" x2="1114.18" y2="129.8" stroke="#5e5e5e" stroke-width="0.9"/>
<text x="1105.73" y="137.3" font-family="'Liberation Serif',serif" font-size="6.9" fill="#1b1b9e" font-weight="bold" textLength="16.9" lengthAdjust="spacingAndGlyphs">K2419</text>
<line x1="1142.46" y1="123.5" x2="1142.46" y2="129.8" stroke="#5e5e5e" stroke-width="0.9"/>
<text x="1134.01" y="137.3" font-family="'Liberation Serif',serif" font-size="6.9" fill="#1b1b9e" font-weight="bold" textLength="16.9" lengthAdjust="spacingAndGlyphs">K2420</text>
<line x1="1170.74" y1="123.5" x2="1170.74" y2="129.8" stroke="#5e5e5e" stroke-width="0.9"/>
<text x="1162.29" y="137.3" font-family="'Liberation Serif',serif" font-size="6.9" fill="#1b1b9e" font-weight="bold" textLength="16.9" lengthAdjust="spacingAndGlyphs">K2421</text>
<line x1="1199.03" y1="123.5" x2="1199.03" y2="129.8" stroke="#5e5e5e" stroke-width="0.9"/>
<text x="1190.58" y="137.3" font-family="'Liberation Serif',serif" font-size="6.9" fill="#1b1b9e" font-weight="bold" textLength="16.9" lengthAdjust="spacingAndGlyphs">K2422</text>
<line x1="1227.31" y1="123.5" x2="1227.31" y2="129.8" stroke="#5e5e5e" stroke-width="0.9"/>
<text x="1218.86" y="137.3" font-family="'Liberation Serif',serif" font-size="6.9" fill="#1b1b9e" font-weight="bold" textLength="16.9" lengthAdjust="spacingAndGlyphs">K2423</text>
<rect x="729" y="9.8" width="8.8" height="8.3" fill="#819ec9" rx="0.8"/>
<rect x="729" y="18.6" width="8.8" height="8.4" fill="#819ec9" rx="0.8"/>
<path d="M731.4 13.9h4M733.4 11.9v4M731.6 22.8h3.6" fill="none" stroke="#fff" stroke-width="1.1"/>
<rect x="1224" y="10" width="25" height="12.7" fill="#d3e1f5" stroke="#b3c9e8" stroke-width="0.6"/>
<rect x="1225.2" y="11.3" width="10" height="9.8" fill="url(#ibtn)" stroke="#9dbbe3" stroke-width="0.6" rx="0.8"/>
<text x="1230.2" y="19.2" font-family="'Liberation Serif',serif" font-size="8.4" fill="#14145e" font-weight="bold" text-anchor="middle">i</text>
<path d="M1240.6 19.4c-1.2-1.6-1.6-3.2-.4-3.4l.9 1v-4.2c.5-.8 1.2-.6 1.3 0v2.2c.4-.6 1.1-.5 1.3 0 .4-.5 1-.3 1.2.2.5-.3 1 0 1 .6v2.4l-.6 1.4z" fill="#f6f6f4" stroke="#7b7b7b" stroke-width="0.55"/>
<rect x="697.4" y="145.7" width="452.4" height="3" fill="#d9d9d9" rx="1.5"/>
<rect x="920.4" y="143.7" width="6.4" height="6.8" fill="#d3e4f9" stroke="#a6c6ec" stroke-width="0.7" rx="1.2"/>
<path d="M922.9 145.6v3M924.3 145.6v3" fill="none" stroke="#9cbce6" stroke-width="0.5"/>
<rect x="1154.9" y="142.7" width="44.7" height="8.9" fill="#fff" stroke="#b5b8c8" stroke-width="0.6"/>
<text x="1157" y="149.4" font-family="'Liberation Sans',sans-serif" font-size="5.2" fill="#333">2414.6</text>
<rect x="1192.6" y="143.2" width="6.6" height="7.9" fill="#f7f9fc" stroke="#d5dcea" stroke-width="0.4" rx="0.8"/>
<path d="M1194.3 145.9l1.6-1.7 1.6 1.7M1194.3 148.5l1.6 1.7 1.6-1.7" fill="none" stroke="#1c2f8f" stroke-width="0.9"/>
<rect x="1204.5" y="143" width="22.3" height="8.4" fill="url(#btn)" stroke="#b5b5b5" stroke-width="0.5" rx="0.8"/>
<text class="r" x="1215.65" y="149.1" font-size="4.9" fill="#333" text-anchor="middle">定位</text>
<rect x="1231.7" y="143" width="22.3" height="8.4" fill="url(#btn)" stroke="#b5b5b5" stroke-width="0.5" rx="0.8"/>
<text class="r" x="1242.85" y="149.1" font-size="4.9" fill="#333" text-anchor="middle">复位</text></g>
<g id="diagram"><rect x="697.4" y="154.4" width="556.3" height="196.2" fill="#fff" stroke="#b9cbe6" stroke-width="0.8"/>
<line x1="698" y1="350.6" x2="1253.2" y2="350.6" stroke="#fff" stroke-width="1.2"/>
<line x1="724.8" y1="154.4" x2="724.8" y2="350.6" stroke="#c6d5ec" stroke-width="0.9"/>
<line x1="697.4" y1="199.4" x2="724.8" y2="199.4" stroke="#555" stroke-width="0.8"/>
<line x1="697.4" y1="231.2" x2="724.8" y2="231.2" stroke="#555" stroke-width="0.8"/>
<line x1="697.4" y1="310.4" x2="724.8" y2="310.4" stroke="#555" stroke-width="0.8"/>
<text class="r" x="711.3" y="179.25" font-size="5.2" fill="#333" text-anchor="middle">桥涵</text>
<text class="r" x="711.3" y="217.35" font-size="5.2" fill="#333" text-anchor="middle">曲线</text>
<text class="r" x="711.3" y="246.85" font-size="5.2" fill="#333" text-anchor="middle">坡道</text>
<text class="r" x="711.3" y="269.45" font-size="5.2" fill="#333" text-anchor="middle">钢轨</text>
<text class="r" x="711.3" y="289.25" font-size="5.2" fill="#333" text-anchor="middle">轨枕</text>
<text class="r" x="711.3" y="306.15" font-size="5.2" fill="#333" text-anchor="middle">其他设备</text>
<text class="r" x="711.3" y="335.45" font-size="5.2" fill="#333" text-anchor="middle">路基</text>
<rect x="729" y="158.9" width="8.8" height="8.3" fill="#819ec9" rx="0.8"/>
<rect x="729" y="167.7" width="8.8" height="8.3" fill="#819ec9" rx="0.8"/>
<path d="M731.4 163h4M733.4 161v4M731.6 171.9h3.6" fill="none" stroke="#fff" stroke-width="1.1"/>
<text class="r" x="769" y="159.9" font-size="5.9" fill="#111" text-anchor="middle">清泉南</text>
<text x="769" y="166.7" font-family="'Liberation Serif',serif" font-size="5.5" fill="#222" text-anchor="middle">K2406+793</text>
<line x1="769" y1="180" x2="769" y2="213.8" stroke="#222" stroke-width="1.1"/>
<circle cx="769" cy="175.2" r="4.45" fill="#fff" stroke="#000" stroke-width="2.9"/>
<path d="M724.8 215.7H877.5L889 226.8H899.4L910.3 215.7H1115L1123 204H1133L1140.3 215.7H1253.7" fill="none" stroke="#3a3a3a" stroke-width="0.8"/>
<path d="M877.5 215.7H910.3M1115 215.7H1140.3" fill="none" stroke="#3a3a3a" stroke-width="0.8" stroke-dasharray="1.1 1.1"/>
<path d="M790.9 154.6V202M805.5 154.6V202M888 154.6V213M1043.3 154.6V202M1069.4 154.6V202M1197.7 154.6V202M787.5 203.5L790.9 210L794.3 203.5M790.9 210V222M787.7 227L790.9 222L794.1 227M802.1 203.5L805.5 210L808.9 203.5M805.5 210V222M802.3 227L805.5 222L808.7 227M1039.9 203.5L1043.3 210L1046.7 203.5M1043.3 210V222M1040.1 227L1043.3 222L1046.5 227M1064.8 204Q1068.4 211 1067.6 216T1064.8 227.2M1076 204Q1072.4 211 1073.2 216T1076 227.2M868 204.6Q872.6 215.3 868 226M1121.4 193Q1126.4 204 1122.6 215" fill="none" stroke="#e23ee2" stroke-width="0.9"/>
<g clip-path="url(#diagclip)"><text transform="translate(785.6 212.5) rotate(-90)" font-family="'Liberation Mono',monospace" font-size="5.05" fill="#e23ee2" stroke="#e23ee2" stroke-width="0.18">K2407+559 2037# L-16.0</text></g>
<g clip-path="url(#diagclip)"><text transform="translate(800.4 212.5) rotate(-90)" font-family="'Liberation Mono',monospace" font-size="5.05" fill="#e23ee2" stroke="#e23ee2" stroke-width="0.18">K2408+063 2037Z# L-16</text></g>
<g clip-path="url(#diagclip)"><text transform="translate(884.2 214.5) rotate(-90)" font-family="'Liberation Mono',monospace" font-size="5.05" fill="#e23ee2" stroke="#e23ee2" stroke-width="0.18">K2410+717 2048# L-12.0</text></g>
<g clip-path="url(#diagclip)"><text transform="translate(1038.6 213.5) rotate(-90)" font-family="'Liberation Mono',monospace" font-size="5.05" fill="#e23ee2" stroke="#e23ee2" stroke-width="0.18">K2416+471 2047# L-16.0</text></g>
<g clip-path="url(#diagclip)"><text transform="translate(1066 212.5) rotate(-90)" font-family="'Liberation Mono',monospace" font-size="5.05" fill="#e23ee2" stroke="#e23ee2" stroke-width="0.18">K2417+447 2058# L-24.0</text></g>
<g clip-path="url(#diagclip)"><text transform="translate(1193.4 214.5) rotate(-90)" font-family="'Liberation Mono',monospace" font-size="5.05" fill="#e23ee2" stroke="#e23ee2" stroke-width="0.18">K2421+949 2068# L-52.0</text></g>
<text x="879" y="188.7" font-family="'Liberation Mono',monospace" font-size="6" fill="#222" letter-spacing="-0.2">α=1.0107</text>
<text x="880.6" y="196.2" font-family="'Liberation Mono',monospace" font-size="6" fill="#222" letter-spacing="-0.2">R=10995</text>
<text x="879" y="203.6" font-family="'Liberation Mono',monospace" font-size="6" fill="#222" letter-spacing="-0.2">L=1171.5</text>
<text x="878.6" y="210.6" font-family="'Liberation Mono',monospace" font-size="6" fill="#222" letter-spacing="-0.55">h=45  l=400</text>
<text x="1126.4" y="224.6" font-family="'Liberation Mono',monospace" font-size="6" fill="#222" text-anchor="middle" letter-spacing="-0.2">α=3.0244</text>
<text x="1126.4" y="231.9" font-family="'Liberation Mono',monospace" font-size="6" fill="#222" text-anchor="middle" letter-spacing="-0.2">R=12005</text>
<text x="1126.4" y="238.6" font-family="'Liberation Mono',monospace" font-size="6" fill="#222" text-anchor="middle" letter-spacing="-0.2">L=967.9</text>
<text x="1127.4" y="245.9" font-family="'Liberation Mono',monospace" font-size="6" fill="#222" text-anchor="middle" letter-spacing="-0.45">h=40  l=250</text>
<g clip-path="url(#diagclip)"><text transform="translate(879.2 214.3) rotate(-90)" font-family="'Liberation Mono',monospace" font-size="5.4" fill="#222" letter-spacing="-0.1">+408.400</text></g>
<g clip-path="url(#diagclip)"><text transform="translate(913 214.3) rotate(-90)" font-family="'Liberation Mono',monospace" font-size="5.4" fill="#222" letter-spacing="-0.1">+880.900</text></g>
<g clip-path="url(#diagclip)"><text transform="translate(1116.6 214.3) rotate(-90)" font-family="'Liberation Mono',monospace" font-size="5.4" fill="#222" letter-spacing="-0.1">+085.900</text></g>
<g clip-path="url(#diagclip)"><text transform="translate(1144.4 214.3) rotate(-90)" font-family="'Liberation Mono',monospace" font-size="5.4" fill="#222" letter-spacing="-0.1">+953.800</text></g>
<g clip-path="url(#diagclip)"><text transform="translate(1254.6 214.3) rotate(-90)" font-family="'Liberation Mono',monospace" font-size="5.4" fill="#222" letter-spacing="-0.1">+967.100</text></g>
<path d="M724.8 233.6H1253.7M724.8 256.5H1253.7M724.8 242.3L748.2 233.6M748.2 233.6V256.5L794.9 233.6M794.9 233.6V256.5L892.4 233.6M892.4 233.6V256.5L954.6 233.6M954.6 233.6V256.5L1016.9 233.6M1016.9 233.6V256.5L1107.6 233.6M1107.6 233.6V256.5L1166.9 233.6M1166.9 233.6V256.5L1224.1 233.6M1224.1 233.6V256.5L1253.7 244.6" fill="none" stroke="#3a3a3a" stroke-width="0.7"/>
<text x="771.5" y="242.2" font-family="'Liberation Mono',monospace" font-size="5.7" fill="#333" text-anchor="middle" letter-spacing="-0.3">-6</text>
<text x="771.5" y="253.5" font-family="'Liberation Mono',monospace" font-size="5.7" fill="#333" text-anchor="middle" letter-spacing="-0.3">1650</text>
<text x="843.6" y="242.2" font-family="'Liberation Mono',monospace" font-size="5.7" fill="#333" text-anchor="middle" letter-spacing="-0.3">-1</text>
<text x="843.6" y="253.5" font-family="'Liberation Mono',monospace" font-size="5.7" fill="#333" text-anchor="middle" letter-spacing="-0.3">3450</text>
<text x="923.5" y="242.2" font-family="'Liberation Mono',monospace" font-size="5.7" fill="#333" text-anchor="middle" letter-spacing="-0.3">-8.3</text>
<text x="923.5" y="253.5" font-family="'Liberation Mono',monospace" font-size="5.7" fill="#333" text-anchor="middle" letter-spacing="-0.3">2200</text>
<text x="985.7" y="242.2" font-family="'Liberation Mono',monospace" font-size="5.7" fill="#333" text-anchor="middle" letter-spacing="-0.3">-4.5</text>
<text x="985.7" y="253.5" font-family="'Liberation Mono',monospace" font-size="5.7" fill="#333" text-anchor="middle" letter-spacing="-0.3">2200</text>
<text x="1062.2" y="242.2" font-family="'Liberation Mono',monospace" font-size="5.7" fill="#333" text-anchor="middle" letter-spacing="-0.3">-17.5</text>
<text x="1062.2" y="253.5" font-family="'Liberation Mono',monospace" font-size="5.7" fill="#333" text-anchor="middle" letter-spacing="-0.3">3200</text>
<text x="1138.4" y="242.2" font-family="'Liberation Mono',monospace" font-size="5.7" fill="#333" text-anchor="middle" letter-spacing="-0.3">-2.5</text>
<text x="1138.4" y="253.5" font-family="'Liberation Mono',monospace" font-size="5.7" fill="#333" text-anchor="middle" letter-spacing="-0.3">2100</text>
<text x="1195.5" y="242.2" font-family="'Liberation Mono',monospace" font-size="5.7" fill="#333" text-anchor="middle" letter-spacing="-0.3">-13</text>
<text x="1195.5" y="253.5" font-family="'Liberation Mono',monospace" font-size="5.7" fill="#333" text-anchor="middle" letter-spacing="-0.3">2000</text>
<text x="1243.5" y="242.1" font-family="'Liberation Mono',monospace" font-size="5.3" fill="#333" letter-spacing="-0.2" clip-path="url(#diagclip)">-7.5</text>
<text x="1243.5" y="253.4" font-family="'Liberation Mono',monospace" font-size="5.3" fill="#333" letter-spacing="-0.2" clip-path="url(#diagclip)">2000</text>
<text x="725.4" y="242.1" font-family="'Liberation Mono',monospace" font-size="5.3" fill="#333">7</text>
<text x="723.4" y="253.4" font-family="'Liberation Mono',monospace" font-size="5.3" fill="#333" clip-path="url(#diagclip)">0</text>
<path d="M697.4 258.5H1253.7M697.4 276.6H1253.7M697.4 295.6H1253.7" fill="none" stroke="#484848" stroke-width="0.85"/>
<rect x="755" y="258.5" width="3.4" height="37.1" fill="#d0d0d0"/>
<rect x="782.3" y="258.5" width="3.8" height="37.1" fill="#d0d0d0"/>
<path d="M736.3 258.5V276.6M753.4 258.5V276.6M755 258.5V276.6M756.2 258.5V276.6M757.3 258.5V276.6M758.4 258.5V276.6M768 258.5V276.6M780.7 258.5V276.6M782.3 258.5V276.6M783.5 258.5V276.6M784.8 258.5V276.6M786.1 258.5V276.6M798.3 258.5V276.6M812.5 258.5V276.6M826.65 258.5V276.6M840.8 258.5V276.6M854.95 258.5V276.6M869.1 258.5V276.6M883.25 258.5V276.6M897.4 258.5V276.6M911.55 258.5V276.6M925.7 258.5V276.6M939.85 258.5V276.6M954 258.5V276.6M968.15 258.5V276.6M982.3 258.5V276.6M996.45 258.5V276.6M1010.6 258.5V276.6M1024.75 258.5V276.6M1038.9 258.5V276.6M1053.05 258.5V276.6M1067.2 258.5V276.6M1081.35 258.5V276.6M1095.5 258.5V276.6M1109.65 258.5V276.6M1123.8 258.5V276.6M1137.95 258.5V276.6M1152.1 258.5V276.6M1166.25 258.5V276.6M1180.4 258.5V276.6M1194.55 258.5V276.6M1208.7 258.5V276.6M1222.85 258.5V276.6M1237 258.5V276.6M1251.15 258.5V276.6" fill="none" stroke="#4a4a4a" stroke-width="0.6"/>
<path d="M739.5 276.6V295.6M747.5 276.6V295.6M752.2 276.6V295.6M754.6 276.6V295.6M755.8 276.6V295.6M757.1 276.6V295.6M758.4 276.6V295.6M780.7 276.6V295.6M782.2 276.6V295.6M783.5 276.6V295.6M784.8 276.6V295.6M786 276.6V295.6M791.7 276.6V295.6M796.6 276.6V295.6M824.5 276.6V295.6M852.85 276.6V295.6M881.2 276.6V295.6M909.55 276.6V295.6M937.9 276.6V295.6M966.25 276.6V295.6M994.6 276.6V295.6M1022.95 276.6V295.6M1051.3 276.6V295.6M1079.65 276.6V295.6M1108 276.6V295.6M1136.35 276.6V295.6M1164.7 276.6V295.6M1193.05 276.6V295.6M1221.4 276.6V295.6M1249.75 276.6V295.6" fill="none" stroke="#4a4a4a" stroke-width="0.6"/>
<path d="M825.42 310.2h9.2M830.02 308.4v1.8" fill="none" stroke="#111" stroke-width="0.9"/>
<circle cx="830.02" cy="305" r="3.7" fill="#fb0505" stroke="#b00000" stroke-width="0.35"/>
<text x="830.02" y="316.5" font-family="'Liberation Serif',serif" font-size="5.4" fill="#222" text-anchor="middle" letter-spacing="0.25" clip-path="url(#diagclip)">K2408+953</text>
<path d="M869.51 310.2h9.2M874.11 308.4v1.8" fill="none" stroke="#111" stroke-width="0.9"/>
<circle cx="874.11" cy="305" r="3.7" fill="#fb0505" stroke="#b00000" stroke-width="0.35"/>
<text x="874.11" y="316.5" font-family="'Liberation Serif',serif" font-size="5.4" fill="#222" text-anchor="middle" letter-spacing="0.25" clip-path="url(#diagclip)">K2410+512</text>
<path d="M914.54 310.2h9.2M919.14 308.4v1.8" fill="none" stroke="#111" stroke-width="0.9"/>
<circle cx="919.14" cy="305" r="3.7" fill="#fb0505" stroke="#b00000" stroke-width="0.35"/>
<text x="919.14" y="316.5" font-family="'Liberation Serif',serif" font-size="5.4" fill="#222" text-anchor="middle" letter-spacing="0.25" clip-path="url(#diagclip)">K2412+104</text>
<path d="M959.76 310.2h9.2M964.36 308.4v1.8" fill="none" stroke="#111" stroke-width="0.9"/>
<circle cx="964.36" cy="305" r="3.7" fill="#fb0505" stroke="#b00000" stroke-width="0.35"/>
<text x="964.36" y="316.5" font-family="'Liberation Serif',serif" font-size="5.4" fill="#222" text-anchor="middle" letter-spacing="0.25" clip-path="url(#diagclip)">K2413+703</text>
<path d="M999.11 310.2h9.2M1003.71 308.4v1.8" fill="none" stroke="#111" stroke-width="0.9"/>
<circle cx="1003.71" cy="305" r="3.7" fill="#fb0505" stroke="#b00000" stroke-width="0.35"/>
<text x="1003.71" y="316.5" font-family="'Liberation Serif',serif" font-size="5.4" fill="#222" text-anchor="middle" letter-spacing="0.25" clip-path="url(#diagclip)">K2415+094</text>
<path d="M1037.54 310.2h9.2M1042.14 308.4v1.8" fill="none" stroke="#111" stroke-width="0.9"/>
<circle cx="1042.14" cy="305" r="3.7" fill="#fb0505" stroke="#b00000" stroke-width="0.35"/>
<text x="1042.14" y="316.5" font-family="'Liberation Serif',serif" font-size="5.4" fill="#222" text-anchor="middle" letter-spacing="0.25" clip-path="url(#diagclip)">K2416+453</text>
<path d="M1077.11 310.2h9.2M1081.71 308.4v1.8" fill="none" stroke="#111" stroke-width="0.9"/>
<circle cx="1081.71" cy="305" r="3.7" fill="#fb0505" stroke="#b00000" stroke-width="0.35"/>
<text x="1081.71" y="316.5" font-family="'Liberation Serif',serif" font-size="5.4" fill="#222" text-anchor="middle" letter-spacing="0.25" clip-path="url(#diagclip)">K2417+852</text>
<path d="M1115.97 310.2h9.2M1120.57 308.4v1.8" fill="none" stroke="#111" stroke-width="0.9"/>
<circle cx="1120.57" cy="305" r="3.7" fill="#fb0505" stroke="#b00000" stroke-width="0.35"/>
<text x="1120.57" y="316.5" font-family="'Liberation Serif',serif" font-size="5.4" fill="#222" text-anchor="middle" letter-spacing="0.25" clip-path="url(#diagclip)">K2419+226</text>
<path d="M1154.55 310.2h9.2M1159.15 308.4v1.8" fill="none" stroke="#111" stroke-width="0.9"/>
<circle cx="1159.15" cy="305" r="3.7" fill="#fb0505" stroke="#b00000" stroke-width="0.35"/>
<text x="1159.15" y="316.5" font-family="'Liberation Serif',serif" font-size="5.4" fill="#222" text-anchor="middle" letter-spacing="0.25" clip-path="url(#diagclip)">K2420+590</text>
<path d="M1193.75 310.2h9.2M1198.35 308.4v1.8" fill="none" stroke="#111" stroke-width="0.9"/>
<circle cx="1198.35" cy="305" r="3.7" fill="#fb0505" stroke="#b00000" stroke-width="0.35"/>
<text x="1198.35" y="316.5" font-family="'Liberation Serif',serif" font-size="5.4" fill="#222" text-anchor="middle" letter-spacing="0.25" clip-path="url(#diagclip)">K2421+976</text>
<path d="M1232.92 310.2h9.2M1237.52 308.4v1.8" fill="none" stroke="#111" stroke-width="0.9"/>
<circle cx="1237.52" cy="305" r="3.7" fill="#fb0505" stroke="#b00000" stroke-width="0.35"/>
<text x="1237.52" y="316.5" font-family="'Liberation Serif',serif" font-size="5.4" fill="#222" text-anchor="middle" letter-spacing="0.25" clip-path="url(#diagclip)">K2423+361</text>
<line x1="724.8" y1="319.7" x2="1253.7" y2="319.7" stroke="#f0a3a3" stroke-width="0.8"/>
<line x1="724.8" y1="333" x2="1253.7" y2="333" stroke="#ee1717" stroke-width="1.3"/>
<line x1="724.8" y1="346.9" x2="1253.7" y2="346.9" stroke="#f0a3a3" stroke-width="0.8"/>
<rect x="990.4" y="164.5" width="5.4" height="181.3" fill="#ee2b2b" opacity="0.62"/></g>
<g id="linemap"><rect x="548.4" y="352.6" width="715.2" height="7.2" fill="#f5f5f5"/>
<path d="M590 352.6h50l-12 7.2h-50zM700 352.6h40l-12 7.2h-40zM830 352.6h60l-12 7.2h-60zM1010 352.6h40l10 7.2h-40z" fill="#fbfbfb"/>
<rect x="1213.8" y="353.9" width="49.4" height="6.1" fill="#dedede"/>
<line x1="1214" y1="353.9" x2="1214" y2="360" stroke="#a5a5a5" stroke-width="0.6"/>
<rect x="1263.3" y="0" width="1.7" height="550" fill="#000"/>
<line x1="548.3" y1="351" x2="548.3" y2="547" stroke="#ececec" stroke-width="0.6"/>
<text class="s" transform="translate(552.6 373.3) skewX(-14)" font-size="10.35" fill="#111">线路设备综合图</text>
<rect x="552.8" y="383.3" width="708.8" height="160" fill="#fff" stroke="#7c7c7c" stroke-width="1.1" rx="1"/>
<line x1="552.8" y1="383.1" x2="1261.6" y2="383.1" stroke="#8c8c8c" stroke-width="1.5"/>
<path d="M552.8 461.9H1261.6M552.8 470.2H1261.6M552.8 478.3H1261.6M552.8 495.5H1261.6M552.8 503.4H1261.6" fill="none" stroke="#3a3a3a" stroke-width="0.7"/>
<text class="b" transform="translate(592.6 385.9) rotate(90)" font-size="2.45" fill="#128c12">K2403+868涵2.0</text>
<text class="b" transform="translate(632.2 385.9) rotate(90)" font-size="2.45" fill="#128c12">K2404+571涵1.5</text>
<text class="b" transform="translate(645.5 395) rotate(90)" font-size="2.45" fill="#128c12">K2404+806涵1-2</text>
<text class="b" transform="translate(666.2 395) rotate(90)" font-size="2.45" fill="#128c12">K2405+172涵1-3</text>
<text class="b" transform="translate(681.4 395) rotate(90)" font-size="2.45" fill="#128c12">K2405+443涵1-2</text>
<text class="b" transform="translate(696.6 395) rotate(90)" font-size="2.45" fill="#128c12">K2403+868涵2.0</text>
<text class="b" transform="translate(708.4 395) rotate(90)" font-size="2.45" fill="#128c12">K2404+571涵1.5</text>
<text class="b" transform="translate(723.4 395) rotate(90)" font-size="2.45" fill="#128c12">K2404+806涵1-2</text>
<text class="b" transform="translate(757.6 395) rotate(90)" font-size="2.45" fill="#128c12">K2405+172涵1-3</text>
<text class="b" transform="translate(795.9 385.9) rotate(90)" font-size="2.45" fill="#128c12">K2405+443涵1-2</text>
<text class="b" transform="translate(816.6 385.9) rotate(90)" font-size="2.45" fill="#128c12">K2403+868涵2.0</text>
<text class="b" transform="translate(834.6 385.9) rotate(90)" font-size="2.45" fill="#128c12">K2404+571涵1.5</text>
<text class="b" transform="translate(857.1 385.9) rotate(90)" font-size="2.45" fill="#128c12">K2404+806涵1-2</text>
<text class="b" transform="translate(881 395) rotate(90)" font-size="2.45" fill="#128c12">K2405+172涵1-3</text>
<text class="b" transform="translate(906.2 395) rotate(90)" font-size="2.45" fill="#128c12">K2405+443涵1-2</text>
<text class="b" transform="translate(999.6 395) rotate(90)" font-size="2.45" fill="#128c12">K2403+868涵2.0</text>
<text class="b" transform="translate(1037 395) rotate(90)" font-size="2.45" fill="#128c12">K2404+571涵1.5</text>
<text class="b" transform="translate(1064.9 395) rotate(90)" font-size="2.45" fill="#128c12">K2404+806涵1-2</text>
<text class="b" transform="translate(1085.6 395) rotate(90)" font-size="2.45" fill="#128c12">K2405+172涵1-3</text>
<text class="b" transform="translate(1111.2 395) rotate(90)" font-size="2.45" fill="#128c12">K2405+443涵1-2</text>
<text class="b" transform="translate(1141 395) rotate(90)" font-size="2.45" fill="#128c12">K2403+868涵2.0</text>
<text class="b" transform="translate(1182.9 395) rotate(90)" font-size="2.45" fill="#128c12">K2404+571涵1.5</text>
<text class="b" transform="translate(1196.6 395) rotate(90)" font-size="2.45" fill="#128c12">K2404+806涵1-2</text>
<text class="b" transform="translate(1224.3 395) rotate(90)" font-size="2.45" fill="#128c12">K2405+172涵1-3</text>
<text class="b" transform="translate(1245.6 395) rotate(90)" font-size="2.45" fill="#128c12">K2405+443涵1-2</text>
<path d="M592 385.6V419.3M631.6 385.6V419.3M644.9 388.3V419.3M665.6 388.3V419.3M680.8 388.3V419.3M696 388.3V419.3M707.8 388.3V419.3M722.8 388.3V419.3M757 388.3V419.3M795.3 385.6V419.3M816 385.6V419.3M834 385.6V419.3M856.5 385.6V419.3M880.4 388.3V419.3M905.6 388.3V419.3M999 388.3V419.3M1036.4 388.3V419.3M1064.3 388.3V419.3M1085 388.3V419.3M1110.6 388.3V419.3M1140.4 388.3V419.3M1182.3 388.3V419.3M1196 388.3V419.3M1223.7 388.3V419.3M1245 388.3V419.3" fill="none" stroke="#2f9a2f" stroke-width="0.75"/>
<path d="M592 426.3V432.1M591.2 426.3h1.6M591.2 432.1h1.6M631.6 428.98V434.78M630.8 428.98h1.6M630.8 434.78h1.6M644.9 430.4V436.2M644.1 430.4h1.6M644.1 436.2h1.6M665.6 430.4V436.2M664.8 430.4h1.6M664.8 436.2h1.6M680.8 430.4V436.2M680 430.4h1.6M680 436.2h1.6M696 430.4V436.2M695.2 430.4h1.6M695.2 436.2h1.6M707.8 430.4V436.2M707 430.4h1.6M707 436.2h1.6M722.8 430.4V436.2M722 430.4h1.6M722 436.2h1.6M757 430.4V436.2M756.2 430.4h1.6M756.2 436.2h1.6M795.3 434.8V440.6M794.5 434.8h1.6M794.5 440.6h1.6M816 434.8V440.6M815.2 434.8h1.6M815.2 440.6h1.6M834 434.8V440.6M833.2 434.8h1.6M833.2 440.6h1.6M856.5 433.37V439.17M855.7 433.37h1.6M855.7 439.17h1.6M880.4 430.4V436.2M879.6 430.4h1.6M879.6 436.2h1.6M905.6 430.4V436.2M904.8 430.4h1.6M904.8 436.2h1.6M999 430.4V436.2M998.2 430.4h1.6M998.2 436.2h1.6M1036.4 430.4V436.2M1035.6 430.4h1.6M1035.6 436.2h1.6M1064.3 430.4V436.2M1063.5 430.4h1.6M1063.5 436.2h1.6M1085 430.4V436.2M1084.2 430.4h1.6M1084.2 436.2h1.6M1110.6 430.4V436.2M1109.8 430.4h1.6M1109.8 436.2h1.6M1140.4 430.4V436.2M1139.6 430.4h1.6M1139.6 436.2h1.6M1182.3 430.4V436.2M1181.5 430.4h1.6M1181.5 436.2h1.6M1196 430.4V436.2M1195.2 430.4h1.6M1195.2 436.2h1.6M1223.7 430.4V436.2M1222.9 430.4h1.6M1222.9 436.2h1.6M1245 430.4V436.2M1244.2 430.4h1.6M1244.2 436.2h1.6" fill="none" stroke="#2f9a2f" stroke-width="0.7"/>
<path d="M592 384.6v1.3M631.6 384.6v1.3M795.3 384.6v1.3M816 384.6v1.3M834 384.6v1.3M856.5 384.6v1.3" fill="none" stroke="#1d5d1d" stroke-width="0.9"/>
<line x1="926.3" y1="388.4" x2="926.3" y2="419.3" stroke="#111" stroke-width="1.15"/>
<text transform="translate(923.7 422.6) rotate(-90)" font-family="'Liberation Mono',monospace" font-size="3.25" fill="#111" font-weight="bold">K2416 2047# L-16.0</text>
<line x1="967.2" y1="388.4" x2="967.2" y2="419.3" stroke="#111" stroke-width="1.15"/>
<text transform="translate(964.6 422.6) rotate(-90)" font-family="'Liberation Mono',monospace" font-size="3.25" fill="#111" font-weight="bold">K2416 2047# L-16.0</text>
<line x1="1121.7" y1="388.4" x2="1121.7" y2="419.3" stroke="#111" stroke-width="1.15"/>
<line x1="1157.4" y1="388.4" x2="1157.4" y2="419.3" stroke="#111" stroke-width="1.15"/>
<text transform="translate(1154.8 422.6) rotate(-90)" font-family="'Liberation Mono',monospace" font-size="3.25" fill="#111" font-weight="bold">K2416 2047# L-16.0</text>
<line x1="1213.9" y1="388.4" x2="1213.9" y2="419.3" stroke="#111" stroke-width="1.15"/>
<text transform="translate(1211.3 422.6) rotate(-90)" font-family="'Liberation Mono',monospace" font-size="3.25" fill="#111" font-weight="bold">K2416 2047# L-16.0</text>
<path d="M552.8 429.5H612L642 433.6H770.8L793.7 438H849L872 433.6H881" fill="none" stroke="#222" stroke-width="0.8"/>
<path d="M553 433.6H642M770.8 433.6H872M881 433.6H1261.6" fill="none" stroke="#222" stroke-width="0.8" stroke-dasharray="1.25 1.25"/>
<rect x="923.8" y="432.6" width="2.4" height="1.8" fill="#fff"/>
<text x="925" y="435.9" font-family="'Liberation Sans',sans-serif" font-size="9.2" fill="#000" text-anchor="middle" stroke="#000" stroke-width="0.25">}</text>
<rect x="927.2" y="432.6" width="2.4" height="1.8" fill="#fff"/>
<text x="928.4" y="435.9" font-family="'Liberation Sans',sans-serif" font-size="9.2" fill="#000" text-anchor="middle" stroke="#000" stroke-width="0.25">{</text>
<rect x="945.8" y="432.6" width="2.4" height="1.8" fill="#fff"/>
<text x="947" y="435.9" font-family="'Liberation Sans',sans-serif" font-size="9.2" fill="#000" text-anchor="middle" stroke="#000" stroke-width="0.25">}</text>
<rect x="987" y="432.6" width="2.4" height="1.8" fill="#fff"/>
<text x="988.2" y="435.9" font-family="'Liberation Sans',sans-serif" font-size="9.2" fill="#000" text-anchor="middle" stroke="#000" stroke-width="0.25">{</text>
<rect x="1119" y="432.6" width="2.4" height="1.8" fill="#fff"/>
<text x="1120.2" y="435.9" font-family="'Liberation Sans',sans-serif" font-size="9.2" fill="#000" text-anchor="middle" stroke="#000" stroke-width="0.25">}</text>
<rect x="1122.4" y="432.6" width="2.4" height="1.8" fill="#fff"/>
<text x="1123.6" y="435.9" font-family="'Liberation Sans',sans-serif" font-size="9.2" fill="#000" text-anchor="middle" stroke="#000" stroke-width="0.25">{</text>
<rect x="1155.4" y="432.6" width="2.4" height="1.8" fill="#fff"/>
<text x="1156.6" y="435.9" font-family="'Liberation Sans',sans-serif" font-size="9.2" fill="#000" text-anchor="middle" stroke="#000" stroke-width="0.25">}</text>
<rect x="1158.8" y="432.6" width="2.4" height="1.8" fill="#fff"/>
<text x="1160" y="435.9" font-family="'Liberation Sans',sans-serif" font-size="9.2" fill="#000" text-anchor="middle" stroke="#000" stroke-width="0.25">{</text>
<rect x="1209.1" y="432.6" width="2.4" height="1.8" fill="#fff"/>
<text x="1210.3" y="435.9" font-family="'Liberation Sans',sans-serif" font-size="9.2" fill="#000" text-anchor="middle" stroke="#000" stroke-width="0.25">}</text>
<rect x="1216.3" y="432.6" width="2.4" height="1.8" fill="#fff"/>
<text x="1217.5" y="435.9" font-family="'Liberation Sans',sans-serif" font-size="9.2" fill="#000" text-anchor="middle" stroke="#000" stroke-width="0.25">{</text>
<text x="563.6" y="436.2" font-family="'Liberation Mono',monospace" font-size="3.3" fill="#111" font-weight="bold" text-anchor="middle">α=20.7531</text>
<text x="563.6" y="440.7" font-family="'Liberation Mono',monospace" font-size="3.3" fill="#111" font-weight="bold" text-anchor="middle">R=7990</text>
<text x="563.6" y="445.2" font-family="'Liberation Mono',monospace" font-size="3.3" fill="#111" font-weight="bold" text-anchor="middle">L=2783.91</text>
<text x="563.6" y="449.7" font-family="'Liberation Mono',monospace" font-size="3.3" fill="#111" font-weight="bold" text-anchor="middle">h=2783.31</text>
<text x="819" y="413.3" font-family="'Liberation Mono',monospace" font-size="3.3" fill="#111" font-weight="bold" text-anchor="middle">h=2042.91</text>
<text x="819" y="417.9" font-family="'Liberation Mono',monospace" font-size="3.3" fill="#111" font-weight="bold" text-anchor="middle">L=2042.31</text>
<text x="819" y="422.5" font-family="'Liberation Mono',monospace" font-size="3.3" fill="#111" font-weight="bold" text-anchor="middle">R=5005</text>
<text x="819" y="427.1" font-family="'Liberation Mono',monospace" font-size="3.3" fill="#111" font-weight="bold" text-anchor="middle">α=2.3247</text>
<path d="M552.8 465.2L605.8 461.9M605.8 470.2V461.9L803.5 470.2M803.5 470.2V461.9L972 470.2M972 470.2V461.9L1122.6 470.2M1122.6 470.2V461.9L1235.5 470.2M1235.5 470.2V461.9L1261.6 464" fill="none" stroke="#222" stroke-width="0.7"/>
<path d="M606.7 464V467.4M804.4 464V467.4M972.9 464V467.4M1123.5 464V467.4M1236.4 464V467.4" fill="none" stroke="#111" stroke-width="1.1"/>
<text x="605.8" y="460.9" font-family="'Liberation Sans',sans-serif" font-size="3.7" fill="#111" font-weight="bold" text-anchor="middle">+405.7548</text>
<text x="803.5" y="460.9" font-family="'Liberation Sans',sans-serif" font-size="3.7" fill="#111" font-weight="bold" text-anchor="middle">+407.7670</text>
<text x="972" y="460.9" font-family="'Liberation Sans',sans-serif" font-size="3.7" fill="#111" font-weight="bold" text-anchor="middle">+409.6490</text>
<text x="1122.6" y="460.9" font-family="'Liberation Sans',sans-serif" font-size="3.7" fill="#111" font-weight="bold" text-anchor="middle">+411.5500</text>
<text x="1235.5" y="460.9" font-family="'Liberation Sans',sans-serif" font-size="3.7" fill="#111" font-weight="bold" text-anchor="middle">+412.3750</text>
<text x="704.4" y="465.6" font-family="'Liberation Sans',sans-serif" font-size="2.4" fill="#222" font-weight="bold" text-anchor="middle">-1.48</text>
<line x1="702.2" y1="468.3" x2="706.6" y2="468.3" stroke="#222" stroke-width="0.9"/>
<text x="886.3" y="465.6" font-family="'Liberation Sans',sans-serif" font-size="2.4" fill="#222" font-weight="bold" text-anchor="middle">-1.48</text>
<line x1="884.1" y1="468.3" x2="888.5" y2="468.3" stroke="#222" stroke-width="0.9"/>
<text x="1046.5" y="465.6" font-family="'Liberation Sans',sans-serif" font-size="2.4" fill="#222" font-weight="bold" text-anchor="middle">-1.48</text>
<line x1="1044.3" y1="468.3" x2="1048.7" y2="468.3" stroke="#222" stroke-width="0.9"/>
<text x="1179" y="465.6" font-family="'Liberation Sans',sans-serif" font-size="2.4" fill="#222" font-weight="bold" text-anchor="middle">-1.48</text>
<line x1="1176.8" y1="468.3" x2="1181.2" y2="468.3" stroke="#222" stroke-width="0.9"/>
<text x="573.95" y="476.7" font-family="'Liberation Sans',sans-serif" font-size="3.3" fill="#000" font-weight="bold" stroke="#000" stroke-width="0.25">4</text>
<path d="M585.95 475.5h3" fill="none" stroke="#111" stroke-width="1.4" stroke-dasharray="1.2 0.6"/>
<text x="602" y="476.7" font-family="'Liberation Sans',sans-serif" font-size="3.3" fill="#000" font-weight="bold" stroke="#000" stroke-width="0.25">5</text>
<path d="M614 475.5h3" fill="none" stroke="#111" stroke-width="1.4" stroke-dasharray="1.2 0.6"/>
<text x="630.05" y="476.7" font-family="'Liberation Sans',sans-serif" font-size="3.3" fill="#000" font-weight="bold" stroke="#000" stroke-width="0.25">6</text>
<path d="M642.05 475.5h3" fill="none" stroke="#111" stroke-width="1.4" stroke-dasharray="1.2 0.6"/>
<text x="658.1" y="476.7" font-family="'Liberation Sans',sans-serif" font-size="3.3" fill="#000" font-weight="bold" stroke="#000" stroke-width="0.25">7</text>
<path d="M670.1 475.5h3" fill="none" stroke="#111" stroke-width="1.4" stroke-dasharray="1.2 0.6"/>
<text x="686.15" y="476.7" font-family="'Liberation Sans',sans-serif" font-size="3.3" fill="#000" font-weight="bold" stroke="#000" stroke-width="0.25">8</text>
<path d="M698.15 475.5h3" fill="none" stroke="#111" stroke-width="1.4" stroke-dasharray="1.2 0.6"/>
<text x="714.2" y="476.7" font-family="'Liberation Sans',sans-serif" font-size="3.3" fill="#000" font-weight="bold" stroke="#000" stroke-width="0.25">9</text>
<path d="M726.2 475.5h3" fill="none" stroke="#111" stroke-width="1.4" stroke-dasharray="1.2 0.6"/>
<text x="742.25" y="476.7" font-family="'Liberation Sans',sans-serif" font-size="3.3" fill="#000" font-weight="bold" stroke="#000" stroke-width="0.25">0</text>
<path d="M754.25 475.5h3" fill="none" stroke="#111" stroke-width="1.4" stroke-dasharray="1.2 0.6"/>
<text x="770.3" y="476.7" font-family="'Liberation Sans',sans-serif" font-size="3.3" fill="#000" font-weight="bold" stroke="#000" stroke-width="0.25">1</text>
<path d="M782.3 475.5h3" fill="none" stroke="#111" stroke-width="1.4" stroke-dasharray="1.2 0.6"/>
<text x="798.35" y="476.7" font-family="'Liberation Sans',sans-serif" font-size="3.3" fill="#000" font-weight="bold" stroke="#000" stroke-width="0.25">2</text>
<path d="M810.35 475.5h3" fill="none" stroke="#111" stroke-width="1.4" stroke-dasharray="1.2 0.6"/>
<text x="826.4" y="476.7" font-family="'Liberation Sans',sans-serif" font-size="3.3" fill="#000" font-weight="bold" stroke="#000" stroke-width="0.25">3</text>
<path d="M838.4 475.5h3" fill="none" stroke="#111" stroke-width="1.4" stroke-dasharray="1.2 0.6"/>
<text x="854.45" y="476.7" font-family="'Liberation Sans',sans-serif" font-size="3.3" fill="#000" font-weight="bold" stroke="#000" stroke-width="0.25">4</text>
<path d="M866.45 475.5h3" fill="none" stroke="#111" stroke-width="1.4" stroke-dasharray="1.2 0.6"/>
<text x="882.5" y="476.7" font-family="'Liberation Sans',sans-serif" font-size="3.3" fill="#000" font-weight="bold" stroke="#000" stroke-width="0.25">5</text>
<path d="M894.5 475.5h3" fill="none" stroke="#111" stroke-width="1.4" stroke-dasharray="1.2 0.6"/>
<text x="910.55" y="476.7" font-family="'Liberation Sans',sans-serif" font-size="3.3" fill="#000" font-weight="bold" stroke="#000" stroke-width="0.25">6</text>
<path d="M922.55 475.5h3" fill="none" stroke="#111" stroke-width="1.4" stroke-dasharray="1.2 0.6"/>
<text x="938.6" y="476.7" font-family="'Liberation Sans',sans-serif" font-size="3.3" fill="#000" font-weight="bold" stroke="#000" stroke-width="0.25">7</text>
<path d="M950.6 475.5h3" fill="none" stroke="#111" stroke-width="1.4" stroke-dasharray="1.2 0.6"/>
<text x="966.65" y="476.7" font-family="'Liberation Sans',sans-serif" font-size="3.3" fill="#000" font-weight="bold" stroke="#000" stroke-width="0.25">8</text>
<path d="M978.65 475.5h3" fill="none" stroke="#111" stroke-width="1.4" stroke-dasharray="1.2 0.6"/>
<text x="994.7" y="476.7" font-family="'Liberation Sans',sans-serif" font-size="3.3" fill="#000" font-weight="bold" stroke="#000" stroke-width="0.25">9</text>
<path d="M1006.7 475.5h3" fill="none" stroke="#111" stroke-width="1.4" stroke-dasharray="1.2 0.6"/>
<text x="1022.75" y="476.7" font-family="'Liberation Sans',sans-serif" font-size="3.3" fill="#000" font-weight="bold" stroke="#000" stroke-width="0.25">0</text>
<path d="M1034.75 475.5h3" fill="none" stroke="#111" stroke-width="1.4" stroke-dasharray="1.2 0.6"/>
<text x="1050.8" y="476.7" font-family="'Liberation Sans',sans-serif" font-size="3.3" fill="#000" font-weight="bold" stroke="#000" stroke-width="0.25">1</text>
<path d="M1062.8 475.5h3" fill="none" stroke="#111" stroke-width="1.4" stroke-dasharray="1.2 0.6"/>
<text x="1078.85" y="476.7" font-family="'Liberation Sans',sans-serif" font-size="3.3" fill="#000" font-weight="bold" stroke="#000" stroke-width="0.25">2</text>
<path d="M1090.85 475.5h3" fill="none" stroke="#111" stroke-width="1.4" stroke-dasharray="1.2 0.6"/>
<text x="1106.9" y="476.7" font-family="'Liberation Sans',sans-serif" font-size="3.3" fill="#000" font-weight="bold" stroke="#000" stroke-width="0.25">3</text>
<path d="M1118.9 475.5h3" fill="none" stroke="#111" stroke-width="1.4" stroke-dasharray="1.2 0.6"/>
<text x="1134.95" y="476.7" font-family="'Liberation Sans',sans-serif" font-size="3.3" fill="#000" font-weight="bold" stroke="#000" stroke-width="0.25">4</text>
<path d="M1146.95 475.5h3" fill="none" stroke="#111" stroke-width="1.4" stroke-dasharray="1.2 0.6"/>
<text x="1163" y="476.7" font-family="'Liberation Sans',sans-serif" font-size="3.3" fill="#000" font-weight="bold" stroke="#000" stroke-width="0.25">5</text>
<path d="M1175 475.5h3" fill="none" stroke="#111" stroke-width="1.4" stroke-dasharray="1.2 0.6"/>
<text x="1191.05" y="476.7" font-family="'Liberation Sans',sans-serif" font-size="3.3" fill="#000" font-weight="bold" stroke="#000" stroke-width="0.25">6</text>
<path d="M1203.05 475.5h3" fill="none" stroke="#111" stroke-width="1.4" stroke-dasharray="1.2 0.6"/>
<text x="1219.1" y="476.7" font-family="'Liberation Sans',sans-serif" font-size="3.3" fill="#000" font-weight="bold" stroke="#000" stroke-width="0.25">7</text>
<path d="M1231.1 475.5h3" fill="none" stroke="#111" stroke-width="1.4" stroke-dasharray="1.2 0.6"/>
<text x="1247.15" y="476.7" font-family="'Liberation Sans',sans-serif" font-size="3.3" fill="#000" font-weight="bold" stroke="#000" stroke-width="0.25">8</text>
<path d="M573.45 470.2V478.3M601.5 470.2V478.3M629.55 470.2V478.3M657.6 470.2V478.3M685.65 470.2V478.3M713.7 470.2V478.3M741.75 470.2V478.3M769.8 470.2V478.3M797.85 470.2V478.3M825.9 470.2V478.3M853.95 470.2V478.3M882 470.2V478.3M910.05 470.2V478.3M938.1 470.2V478.3M966.15 470.2V478.3M994.2 470.2V478.3M1022.25 470.2V478.3M1050.3 470.2V478.3M1078.35 470.2V478.3M1106.4 470.2V478.3M1134.45 470.2V478.3M1162.5 470.2V478.3M1190.55 470.2V478.3M1218.6 470.2V478.3M1246.65 470.2V478.3" fill="none" stroke="#222" stroke-width="0.6"/>
<path d="M566.3 472.3V477.4" fill="none" stroke="#111" stroke-width="1.2"/>
<path d="M559.4 475.5h3" fill="none" stroke="#111" stroke-width="1.4" stroke-dasharray="1.2 0.6"/>
<text transform="translate(586.7 488.6) rotate(-90)" font-family="'Liberation Sans',sans-serif" font-size="2.6" fill="#111" font-weight="bold">25m</text>
<text x="612.5" y="494.3" font-family="'Liberation Sans',sans-serif" font-size="3.45" fill="#111" font-weight="bold" text-anchor="middle">60kg/25m/k</text>
<text transform="translate(642.9 488.6) rotate(-90)" font-family="'Liberation Sans',sans-serif" font-size="2.6" fill="#111" font-weight="bold">25m</text>
<text x="668.7" y="494.3" font-family="'Liberation Sans',sans-serif" font-size="3.45" fill="#111" font-weight="bold" text-anchor="middle">60kg/25m/k</text>
<text transform="translate(699.1 488.6) rotate(-90)" font-family="'Liberation Sans',sans-serif" font-size="2.6" fill="#111" font-weight="bold">25m</text>
<text x="724.9" y="494.3" font-family="'Liberation Sans',sans-serif" font-size="3.45" fill="#111" font-weight="bold" text-anchor="middle">60kg/25m/k</text>
<text transform="translate(755.3 488.6) rotate(-90)" font-family="'Liberation Sans',sans-serif" font-size="2.6" fill="#111" font-weight="bold">25m</text>
<text x="781.1" y="494.3" font-family="'Liberation Sans',sans-serif" font-size="3.45" fill="#111" font-weight="bold" text-anchor="middle">60kg/25m/k</text>
<text transform="translate(811.5 488.6) rotate(-90)" font-family="'Liberation Sans',sans-serif" font-size="2.6" fill="#111" font-weight="bold">25m</text>
<text x="837.3" y="494.3" font-family="'Liberation Sans',sans-serif" font-size="3.45" fill="#111" font-weight="bold" text-anchor="middle">60kg/25m/k</text>
<text transform="translate(867.7 488.6) rotate(-90)" font-family="'Liberation Sans',sans-serif" font-size="2.6" fill="#111" font-weight="bold">25m</text>
<text x="893.5" y="494.3" font-family="'Liberation Sans',sans-serif" font-size="3.45" fill="#111" font-weight="bold" text-anchor="middle">60kg/25m/k</text>
<text transform="translate(923.9 488.6) rotate(-90)" font-family="'Liberation Sans',sans-serif" font-size="2.6" fill="#111" font-weight="bold">25m</text>
<text x="949.7" y="494.3" font-family="'Liberation Sans',sans-serif" font-size="3.45" fill="#111" font-weight="bold" text-anchor="middle">60kg/25m/k</text>
<text transform="translate(980.1 488.6) rotate(-90)" font-family="'Liberation Sans',sans-serif" font-size="2.6" fill="#111" font-weight="bold">25m</text>
<text x="1005.9" y="494.3" font-family="'Liberation Sans',sans-serif" font-size="3.45" fill="#111" font-weight="bold" text-anchor="middle">60kg/25m/k</text>
<text transform="translate(1036.3 488.6) rotate(-90)" font-family="'Liberation Sans',sans-serif" font-size="2.6" fill="#111" font-weight="bold">25m</text>
<text x="1062.1" y="494.3" font-family="'Liberation Sans',sans-serif" font-size="3.45" fill="#111" font-weight="bold" text-anchor="middle">60kg/25m/k</text>
<text transform="translate(1092.5 488.6) rotate(-90)" font-family="'Liberation Sans',sans-serif" font-size="2.6" fill="#111" font-weight="bold">25m</text>
<text x="1118.3" y="494.3" font-family="'Liberation Sans',sans-serif" font-size="3.45" fill="#111" font-weight="bold" text-anchor="middle">60kg/25m/k</text>
<text transform="translate(1148.7 488.6) rotate(-90)" font-family="'Liberation Sans',sans-serif" font-size="2.6" fill="#111" font-weight="bold">25m</text>
<text x="1174.5" y="494.3" font-family="'Liberation Sans',sans-serif" font-size="3.45" fill="#111" font-weight="bold" text-anchor="middle">60kg/25m/k</text>
<text transform="translate(1204.9 488.6) rotate(-90)" font-family="'Liberation Sans',sans-serif" font-size="2.6" fill="#111" font-weight="bold">25m</text>
<text x="1230.7" y="494.3" font-family="'Liberation Sans',sans-serif" font-size="3.45" fill="#111" font-weight="bold" text-anchor="middle">60kg/25m/k</text>
<text transform="translate(1261.1 488.6) rotate(-90)" font-family="'Liberation Sans',sans-serif" font-size="2.6" fill="#111" font-weight="bold">25m</text>
<path d="M584.4 478.3V495.5M640.6 478.3V495.5M696.8 478.3V495.5M753 478.3V495.5M809.2 478.3V495.5M865.4 478.3V495.5M921.6 478.3V495.5M977.8 478.3V495.5M1034 478.3V495.5M1090.2 478.3V495.5M1146.4 478.3V495.5M1202.6 478.3V495.5M1258.8 478.3V495.5" fill="none" stroke="#333" stroke-width="0.7"/>
<text x="553.8" y="494.3" font-family="'Liberation Sans',sans-serif" font-size="3.45" fill="#111" font-weight="bold">/25m/k</text>
<path d="M558.7 511.4V535M558.7 519.6H587.6V511.4" fill="none" stroke="#111" stroke-width="1.1"/>
<text x="567.4" y="518.3" font-family="'Liberation Sans',sans-serif" font-size="6.2" fill="#555">5 km</text>
<text x="559.8" y="526.3" font-family="'Liberation Sans',sans-serif" font-size="5.9" fill="#555">10 ft</text>
<text x="564.2" y="534.8" font-family="'Liberation Sans',sans-serif" font-size="7.2" fill="#4a4a4a" font-style="italic">R</text>
<line x1="901.3" y1="383.8" x2="901.3" y2="542.5" stroke="#f40b0b" stroke-width="1.2"/>
<line x1="912.4" y1="383.8" x2="912.4" y2="542.5" stroke="#f40b0b" stroke-width="1.2"/>
<rect x="571.8" y="438" width="8.3" height="94" fill="#cbdef8"/>
<rect x="572.4" y="511.5" width="7" height="20.5" fill="#4d9df2"/>
<line x1="575.9" y1="513" x2="575.9" y2="532" stroke="#68aef8" stroke-width="0.8"/>
<circle cx="575.95" cy="511.6" r="2.3" fill="#fff" stroke="#9dbff0" stroke-width="0.6"/>
<rect x="570.5" y="426.8" width="10.9" height="12.2" fill="#eaf1fc" stroke="#a9c5ef" stroke-width="0.8" rx="1"/>
<path d="M572.9 433h6.2M576 429.9v6.2" fill="none" stroke="#2a6fd0" stroke-width="1.25"/>
<rect x="569.6" y="531.6" width="12" height="10.8" fill="#f2f6fd" stroke="#a9c5ef" stroke-width="0.8" rx="1"/>
<path d="M572.7 537.2h5.8" fill="none" stroke="#2a6fd0" stroke-width="1.3"/>
<circle cx="575.7" cy="405.3" r="14.6" fill="#dde9f9" stroke="#a9c5ef" stroke-width="1.3"/>
<path d="M572.5 397.7l3.2-3.1 3.2 3.1M572.5 412.9l3.2 3.1 3.2-3.1M568.2 402.1l-3.1 3.2 3.1 3.2M583.2 402.1l3.1 3.2-3.1 3.2" fill="none" stroke="#2a6fd0" stroke-width="1.7" stroke-linecap="round" stroke-linejoin="round"/>
<circle cx="575.7" cy="405.3" r="3.9" fill="#eaf2fc" stroke="#b9d1f3" stroke-width="0.6"/>
<circle cx="575.7" cy="405.3" r="2.2" fill="none" stroke="#c4d9f5" stroke-width="0.5" stroke-dasharray="0.8 0.8"/>
<rect x="575" y="420.2" width="1.4" height="1" fill="#333"/>
<rect x="1243.6" y="409.8" width="14.4" height="14.6" fill="#fff" stroke="#d2d2d2" stroke-width="0.7" rx="2.2"/>
<path d="M1250.8 412.6l4.6 2.3-4.6 2.3-4.6-2.3zM1246.2 416.6l4.6 2.3 4.6-2.3M1246.2 418.4l4.6 2.3 4.6-2.3M1246.2 420.1l4.6 2.3 4.6-2.3" fill="#b9bfc8" stroke="#a6adb8" stroke-width="0.5"/></g>
<rect x="0" y="547.7" width="1265" height="2.3" fill="#000"/>
</svg>
</body></html>
